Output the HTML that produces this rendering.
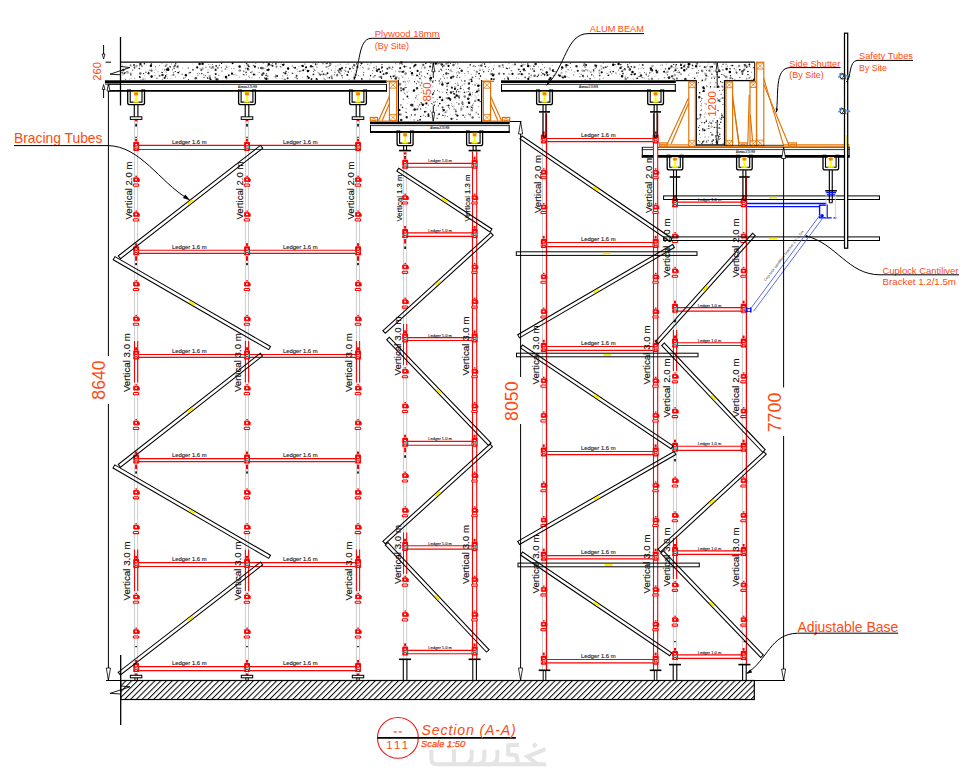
<!DOCTYPE html>
<html><head><meta charset="utf-8"><title>Section A-A</title>
<style>
html,body{margin:0;padding:0;background:#fff;}
body{width:976px;height:783px;overflow:hidden;font-family:"Liberation Sans",sans-serif;}
svg{display:block;font-family:"Liberation Sans",sans-serif;}
</style></head><body>
<svg width="976" height="783" viewBox="0 0 976 783">
<rect width="976" height="783" fill="#fff"/>
<g id="conc">
<polygon points="120.5,62.2 754.7,62.2 754.7,80.6 724.5,80.6 724.5,145 696.3,145 696.3,80.6 481.5,80.6 481.5,121.5 398.6,121.5 398.6,80.6 120.5,80.6" fill="#fff" stroke="none"/>
<path d="M326.0,74.8h0M267.6,76.1h0M582.3,70.7h0M271.1,65.1h0M451.8,87.5h0M166.7,64.7h0M446.6,98.1h0M531.2,75.3h0M564.5,76.4h0M373.7,76.8h0M722.6,87.0h0M697.3,63.5h0M362.1,79.0h0M714.6,87.0h0M322.9,63.4h0M421.8,83.1h0" stroke="#000" stroke-opacity="0.35" stroke-width="2.2" stroke-linecap="round" fill="none"/>
<path d="M352.5,67.1h0M519.6,69.3h0M478.9,65.7h0M400.9,104.8h0M721.0,118.9h0M459.4,96.1h0M205.9,67.2h0M583.5,76.8h0M722.0,86.0h0M182.1,74.2h0M215.4,73.7h0M177.4,66.3h0M420.5,85.4h0M419.7,104.9h0M749.3,66.3h0M479.2,78.7h0M433.5,93.4h0M459.6,77.5h0M440.5,79.1h0M702.5,87.9h0M595.2,68.3h0M454.7,97.3h0M566.0,67.2h0M642.2,77.6h0M676.0,70.2h0M721.1,94.3h0M621.7,66.9h0M673.0,78.6h0M226.7,78.7h0" stroke="#000" stroke-opacity="0.5" stroke-width="1.6" stroke-linecap="round" fill="none"/>
<path d="M165.2,69.8h0M475.0,95.6h0M470.1,115.9h0M717.1,131.4h0M338.0,70.2h0M122.1,66.3h0M574.8,71.9h0M158.0,71.6h0M408.6,98.5h0M251.9,77.7h0M235.9,75.0h0M603.3,63.3h0M454.2,108.2h0M430.8,117.5h0M673.3,67.5h0M432.8,86.8h0" stroke="#000" stroke-opacity="0.35" stroke-width="1.2" stroke-linecap="round" fill="none"/>
<path d="M644.4,72.6h0M509.5,68.1h0M530.7,69.0h0M363.8,72.5h0M221.4,63.4h0M716.6,74.1h0M218.9,75.3h0M518.6,74.2h0M544.0,74.0h0M453.6,62.4h0M399.0,79.0h0M587.6,76.0h0M209.9,78.8h0M447.8,99.0h0M416.3,95.9h0M740.2,69.7h0M478.7,73.8h0M435.6,101.8h0M443.6,74.7h0M702.0,80.9h0M131.0,74.9h0M172.6,69.8h0M666.0,72.8h0M334.3,74.7h0M326.0,67.1h0M309.1,70.6h0M314.2,69.3h0M673.9,71.7h0M491.5,70.9h0M442.4,115.2h0M446.2,69.4h0M472.0,106.0h0M482.8,69.8h0M475.0,84.9h0M453.6,93.5h0M700.5,116.9h0M599.2,73.1h0M360.7,65.4h0M457.4,75.7h0M601.7,68.8h0M508.9,73.9h0M719.3,90.7h0M381.1,78.0h0M395.8,63.8h0" stroke="#000" stroke-opacity="1" stroke-width="0.9" stroke-linecap="round" fill="none"/>
<path d="M739.0,66.1h0M122.1,65.0h0M447.1,110.6h0M244.7,74.9h0M744.8,66.9h0M471.3,74.3h0M494.0,65.9h0M712.2,126.7h0M667.5,77.5h0M162.0,63.4h0M155.8,69.2h0M468.8,95.9h0M688.4,65.8h0M650.9,72.3h0M727.5,68.7h0M446.3,105.6h0M328.5,68.7h0M131.1,78.3h0M569.1,77.5h0M395.0,75.0h0M708.1,76.6h0M400.4,105.8h0M666.5,64.2h0M249.2,76.1h0" stroke="#000" stroke-opacity="0.65" stroke-width="0.8" stroke-linecap="round" fill="none"/>
<path d="M552.7,70.8h0M215.8,74.1h0M719.6,71.1h0M424.9,111.8h0M277.1,76.0h0M712.1,66.8h0M382.0,67.2h0M302.3,65.8h0M272.5,65.7h0M471.7,81.2h0M675.3,70.3h0M295.1,67.8h0M414.5,65.8h0M439.1,114.1h0M407.4,96.5h0M749.4,64.5h0M311.5,79.1h0M534.2,71.1h0M228.8,75.2h0M704.6,130.3h0M664.1,71.8h0M447.2,83.5h0M303.2,70.2h0M349.9,68.7h0M327.5,73.2h0M634.5,74.3h0M347.3,74.9h0M178.2,72.6h0M232.6,63.3h0M656.2,70.5h0M387.0,73.1h0M380.4,72.0h0M383.6,74.1h0M563.0,77.6h0M719.0,77.2h0M467.4,106.9h0M316.5,78.9h0M586.1,65.0h0M247.6,68.7h0M417.0,75.4h0" stroke="#000" stroke-opacity="1" stroke-width="1.9" stroke-linecap="round" fill="none"/>
<path d="M239.9,70.4h0M722.5,117.1h0M490.9,73.9h0M368.6,68.7h0M562.1,76.7h0M549.8,68.4h0M739.0,66.0h0M696.8,64.1h0M667.5,71.8h0M652.5,66.1h0M437.7,63.5h0M400.8,114.4h0M450.7,70.4h0M124.0,73.4h0M202.6,68.4h0M705.4,73.7h0M209.7,76.1h0M585.1,66.7h0M127.7,72.4h0M471.6,110.3h0M136.5,66.0h0M674.8,75.0h0M714.6,63.8h0" stroke="#000" stroke-opacity="0.35" stroke-width="2.5" stroke-linecap="round" fill="none"/>
<path d="M478.2,114.1h0M370.5,75.5h0M315.6,64.0h0M582.7,76.1h0M420.7,116.4h0M124.7,73.1h0M342.0,75.8h0M312.8,66.6h0M419.6,74.1h0M696.8,73.0h0M719.9,101.6h0M590.1,78.8h0M469.2,87.7h0M721.7,117.6h0M375.0,75.6h0M361.6,78.9h0M484.6,64.0h0M201.8,73.6h0M583.9,65.3h0M716.8,72.0h0M668.8,78.3h0M458.9,104.0h0M377.2,69.9h0M421.2,103.0h0M527.8,64.0h0M433.9,102.1h0M610.5,71.9h0M327.0,63.4h0M720.6,81.6h0M697.7,118.9h0M706.3,121.4h0M732.7,65.5h0M442.7,66.7h0M719.8,134.3h0M692.3,65.2h0M425.8,63.2h0M143.0,79.1h0M338.8,71.9h0M717.5,121.0h0M439.2,80.9h0M393.2,76.2h0" stroke="#000" stroke-opacity="1" stroke-width="1.4" stroke-linecap="round" fill="none"/>
<path d="M434.4,91.0h0M207.8,72.4h0M636.9,78.4h0M670.6,67.9h0M205.4,75.6h0M599.7,79.1h0M648.9,79.1h0M149.9,70.2h0M165.7,76.6h0M667.4,74.8h0M126.9,71.6h0M219.4,65.3h0M331.3,70.1h0M706.3,120.2h0M280.8,66.9h0M701.9,98.5h0M121.9,72.1h0M327.0,66.8h0M376.3,68.3h0M570.3,63.4h0M472.6,108.0h0" stroke="#000" stroke-opacity="0.65" stroke-width="1.4" stroke-linecap="round" fill="none"/>
<path d="M506.5,68.3h0M340.6,69.3h0M139.4,68.6h0M320.2,74.9h0M246.5,63.5h0M534.0,66.2h0M703.3,141.2h0M148.7,72.8h0M402.5,107.4h0M427.5,73.6h0M175.7,63.8h0M720.7,122.3h0M464.5,92.3h0M708.8,126.0h0M591.7,74.8h0M520.4,71.6h0M485.4,66.6h0M215.5,69.2h0M702.8,142.1h0M456.5,91.2h0M537.4,76.5h0M266.1,75.4h0M470.2,64.7h0M483.7,71.8h0M441.0,69.3h0M190.0,72.6h0M394.0,76.1h0M518.5,69.5h0" stroke="#000" stroke-opacity="0.85" stroke-width="1.6" stroke-linecap="round" fill="none"/>
<path d="M730.0,68.7h0M144.4,63.7h0M635.1,73.9h0M410.2,68.1h0M329.4,77.7h0M637.3,78.3h0M739.6,69.8h0M605.9,67.2h0M434.2,105.2h0M139.7,76.9h0M401.1,90.7h0M448.1,98.1h0M207.5,78.0h0M463.1,115.3h0M248.9,66.6h0M170.1,66.7h0M246.1,72.2h0M165.7,75.9h0M722.0,115.3h0M471.2,79.4h0M448.5,83.1h0M623.0,73.8h0M558.6,75.1h0M508.3,79.3h0M676.3,64.7h0M685.0,79.0h0M593.7,70.1h0M608.6,75.3h0M439.8,103.6h0M451.0,77.9h0M480.5,76.1h0M704.5,122.8h0M348.3,72.1h0M432.7,94.4h0M753.8,79.4h0M702.4,80.2h0M282.8,64.8h0M583.0,75.5h0M613.2,71.6h0M454.7,89.1h0M542.9,73.8h0M275.9,63.9h0M479.3,73.6h0M747.9,71.5h0M699.7,92.8h0M307.4,76.2h0M390.7,76.6h0M713.2,140.1h0M503.9,73.9h0M151.4,64.0h0M694.7,78.3h0M210.8,79.5h0M544.6,74.9h0M450.0,99.2h0" stroke="#000" stroke-opacity="1" stroke-width="1.6" stroke-linecap="round" fill="none"/>
<path d="M164.5,70.0h0M504.7,78.9h0M522.9,74.7h0M688.8,75.0h0M706.6,70.4h0M313.4,71.5h0M730.0,77.9h0M264.4,77.7h0M250.5,72.6h0M275.7,75.2h0M407.1,92.2h0M715.3,135.8h0M580.0,76.7h0M402.9,77.3h0M414.6,81.5h0M448.8,107.3h0M439.0,63.5h0M155.3,66.8h0M139.6,65.8h0M710.3,87.7h0M717.0,132.6h0" stroke="#000" stroke-opacity="0.85" stroke-width="1.0" stroke-linecap="round" fill="none"/>
<path d="M562.2,67.6h0M266.3,78.8h0M528.2,65.9h0M168.2,69.8h0M523.8,69.4h0M442.4,84.6h0M622.1,76.3h0M202.6,63.7h0M239.6,66.4h0M688.8,64.3h0M430.9,78.1h0M150.9,65.7h0M696.1,66.3h0M435.7,63.4h0M650.9,68.6h0M226.0,77.0h0M618.6,64.1h0M414.0,90.6h0M422.8,104.8h0M199.6,64.0h0M632.5,71.9h0M185.9,75.2h0M726.6,69.1h0M716.9,142.3h0M566.4,65.3h0M469.9,94.6h0M288.1,68.5h0M550.4,78.3h0M469.0,102.7h0M414.7,109.5h0M613.2,64.8h0M307.9,71.0h0M268.8,64.3h0M456.7,95.6h0M412.0,73.2h0M546.7,72.6h0M478.3,85.7h0M151.6,76.6h0M401.4,62.4h0M729.9,71.9h0M684.3,70.2h0" stroke="#000" stroke-opacity="1" stroke-width="2.5" stroke-linecap="round" fill="none"/>
<path d="M433.5,80.5h0M240.2,67.6h0M404.8,93.5h0M476.8,83.8h0M518.8,78.3h0M700.6,110.6h0M473.4,103.4h0M719.8,71.9h0M426.4,62.8h0M450.9,118.3h0M453.2,118.4h0M440.1,82.8h0M697.3,76.0h0M472.5,92.6h0M707.4,66.0h0M249.6,77.7h0M200.0,68.5h0M248.5,76.8h0M455.6,63.7h0M699.8,130.8h0M486.2,79.1h0M719.4,118.2h0M717.5,76.4h0" stroke="#000" stroke-opacity="0.5" stroke-width="1.0" stroke-linecap="round" fill="none"/>
<path d="M701.3,103.8h0M538.9,74.2h0M406.3,87.5h0M425.9,107.8h0M717.3,98.6h0M431.7,103.4h0M145.0,79.0h0M440.5,63.9h0M402.1,64.3h0M439.2,91.7h0M433.3,69.6h0M246.4,74.7h0M746.8,78.1h0M712.6,143.5h0M648.3,76.4h0M403.1,81.7h0M292.2,65.6h0M461.0,110.4h0M699.9,142.1h0M348.0,71.2h0M447.6,116.5h0M267.1,66.6h0M605.3,67.0h0M337.6,74.7h0M234.0,68.8h0M409.3,80.8h0" stroke="#000" stroke-opacity="0.85" stroke-width="0.8" stroke-linecap="round" fill="none"/>
<path d="M173.5,74.9h0M443.9,65.6h0M215.5,70.2h0M415.0,114.8h0M502.7,65.1h0M461.4,108.9h0M475.2,100.9h0M424.8,67.7h0M552.9,70.0h0M722.5,98.1h0M217.8,67.8h0M442.7,107.3h0M584.1,70.8h0M331.5,76.4h0M448.5,62.6h0M704.8,67.1h0M276.5,66.6h0" stroke="#000" stroke-opacity="0.5" stroke-width="2.2" stroke-linecap="round" fill="none"/>
<path d="M399.9,71.4h0M523.7,64.6h0M540.9,69.5h0M468.5,88.6h0M708.2,140.5h0M561.5,72.7h0M628.2,67.2h0M511.3,70.6h0M723.5,89.6h0M479.2,117.4h0M442.7,111.1h0M677.0,68.3h0M587.6,70.5h0" stroke="#000" stroke-opacity="0.35" stroke-width="1.9" stroke-linecap="round" fill="none"/>
<path d="M421.1,71.9h0M420.6,108.9h0M283.7,72.6h0M286.0,71.4h0M649.6,72.9h0M730.5,75.7h0M473.9,66.0h0M665.5,68.9h0M749.2,77.9h0M480.0,70.3h0M451.9,87.3h0M674.2,79.2h0M714.3,127.4h0M447.0,86.3h0M532.7,68.9h0M439.1,71.3h0M174.1,68.3h0M405.1,87.5h0M731.0,78.0h0M631.2,66.4h0M446.7,92.7h0M122.4,72.9h0M458.8,91.7h0M477.2,71.9h0M215.9,69.9h0M356.1,74.9h0" stroke="#000" stroke-opacity="0.85" stroke-width="1.4" stroke-linecap="round" fill="none"/>
<path d="M699.7,125.7h0M469.2,114.7h0M706.6,141.2h0M701.6,143.6h0M414.2,119.9h0M488.3,71.4h0M723.5,117.2h0M130.8,74.9h0M726.1,64.3h0M353.1,68.5h0M550.1,69.9h0M468.0,71.6h0M519.3,73.8h0M714.4,78.4h0M732.7,78.7h0M736.1,72.0h0M157.0,78.3h0M464.8,117.2h0M479.8,85.3h0M314.9,70.4h0M698.4,82.7h0M475.8,76.5h0M615.9,73.0h0M321.9,74.4h0M476.1,112.3h0M326.1,63.8h0M417.6,71.2h0M300.9,71.1h0M140.2,77.5h0M711.8,77.8h0M309.2,77.9h0M469.2,79.9h0M304.9,64.1h0M702.6,129.0h0M243.6,71.1h0M458.2,71.9h0M448.4,69.5h0M441.8,70.4h0M468.8,91.6h0M456.8,77.1h0M416.5,83.7h0M719.7,86.9h0M702.3,143.0h0" stroke="#000" stroke-opacity="1" stroke-width="1.0" stroke-linecap="round" fill="none"/>
<path d="M346.1,64.6h0M288.4,72.4h0M450.4,98.5h0M349.2,79.5h0M171.2,75.7h0M467.6,88.5h0M151.7,68.8h0M414.6,101.6h0M736.2,69.8h0M410.2,116.9h0M470.4,108.3h0M444.2,99.9h0M298.9,66.2h0M579.2,73.4h0M556.2,73.4h0M716.0,63.1h0M173.4,74.1h0M512.8,64.8h0M229.0,66.8h0M642.1,67.7h0" stroke="#000" stroke-opacity="0.65" stroke-width="0.6" stroke-linecap="round" fill="none"/>
<path d="M419.9,78.4h0M192.9,69.8h0M599.7,75.5h0M711.4,123.3h0M719.1,128.0h0M399.6,114.5h0M625.0,69.5h0M472.5,77.4h0M464.8,80.9h0M458.4,96.5h0M628.1,66.8h0M452.0,87.9h0M748.0,74.6h0M159.6,75.7h0M742.4,74.0h0M679.3,72.4h0M712.1,141.5h0M525.2,77.4h0M432.8,82.0h0M603.6,67.8h0M743.3,70.7h0M450.5,99.2h0M736.6,72.7h0M134.4,67.2h0M332.0,78.3h0M459.2,97.8h0" stroke="#000" stroke-opacity="0.65" stroke-width="1.9" stroke-linecap="round" fill="none"/>
<path d="M264.6,78.7h0M705.1,137.0h0M722.9,104.5h0M376.2,66.4h0M424.5,76.8h0M335.0,72.5h0M585.2,79.6h0M450.6,63.5h0M585.9,69.5h0M428.7,70.5h0M430.1,75.4h0M455.7,97.4h0M618.8,70.1h0M464.2,92.8h0M285.2,79.5h0M454.0,109.4h0M259.1,72.4h0M717.4,74.6h0M743.0,73.0h0M456.3,92.7h0M367.7,64.2h0" stroke="#000" stroke-opacity="0.85" stroke-width="0.9" stroke-linecap="round" fill="none"/>
<path d="M579.8,76.4h0M341.0,66.8h0M370.6,76.2h0M444.2,102.8h0M343.0,70.1h0M454.7,62.2h0M719.9,128.0h0M519.9,71.6h0M711.8,69.5h0M433.4,108.3h0M444.5,117.6h0M265.6,66.1h0M656.1,75.7h0M489.8,63.3h0M450.5,63.7h0M707.1,69.8h0M404.0,115.9h0M302.1,71.2h0M331.1,64.2h0M741.8,72.8h0M610.0,69.4h0M441.5,70.7h0M404.4,93.8h0M405.3,62.9h0M231.7,72.0h0" stroke="#000" stroke-opacity="0.35" stroke-width="0.8" stroke-linecap="round" fill="none"/>
<path d="M631.5,74.4h0M493.9,79.3h0M134.0,65.0h0M313.5,74.4h0M460.6,88.4h0M622.1,71.2h0M296.6,75.8h0M387.4,68.7h0M420.1,119.7h0M402.3,71.9h0M428.5,114.3h0M642.7,64.9h0M323.6,74.3h0M454.4,93.9h0M454.7,97.4h0M216.2,65.9h0M287.7,78.3h0M508.0,78.1h0" stroke="#000" stroke-opacity="0.85" stroke-width="1.9" stroke-linecap="round" fill="none"/>
<path d="M468.3,73.2h0M390.2,68.3h0M700.5,114.3h0M406.7,66.5h0M633.3,79.1h0M704.6,66.8h0M534.4,64.1h0M251.2,71.6h0M639.9,76.5h0M593.6,76.0h0M372.7,70.5h0M631.6,67.4h0M211.6,68.2h0M599.9,69.7h0M372.7,73.5h0M555.2,75.2h0M369.9,65.2h0M540.5,69.7h0M706.2,67.8h0M171.5,64.0h0M425.8,77.3h0M413.1,109.9h0M705.9,79.6h0M134.8,78.4h0M516.4,78.0h0M471.1,62.7h0M476.0,97.1h0M461.2,106.9h0M272.4,63.5h0M710.1,66.5h0M658.3,78.9h0M318.1,72.5h0M404.0,92.2h0M466.9,92.1h0M629.2,67.3h0M722.3,90.5h0M456.6,72.9h0M453.9,106.2h0M445.1,82.1h0M454.7,86.9h0M418.3,76.3h0M706.4,75.5h0M373.9,68.2h0M426.4,111.6h0" stroke="#000" stroke-opacity="1" stroke-width="0.6" stroke-linecap="round" fill="none"/>
<path d="M386.2,73.2h0M481.4,65.4h0M195.6,78.3h0M688.3,67.0h0M745.0,65.3h0M672.2,76.3h0M492.4,74.3h0M209.9,78.3h0M262.1,74.8h0M140.3,73.6h0M354.2,65.2h0M742.1,71.5h0M534.6,75.7h0M168.0,68.6h0M472.6,117.6h0M261.2,68.1h0M453.5,65.1h0M595.3,65.4h0M685.6,78.9h0" stroke="#000" stroke-opacity="0.65" stroke-width="2.5" stroke-linecap="round" fill="none"/>
<path d="M203.8,74.9h0M275.5,76.8h0M541.3,75.2h0M692.9,65.9h0M620.5,64.8h0M197.9,75.3h0M268.1,79.0h0M340.8,73.9h0M629.7,63.3h0M400.0,85.2h0M423.6,115.4h0M640.0,72.7h0M471.9,109.7h0M268.2,70.6h0M708.7,62.2h0M507.1,76.8h0M723.1,143.6h0" stroke="#000" stroke-opacity="0.35" stroke-width="1.6" stroke-linecap="round" fill="none"/>
<path d="M197.2,67.4h0M302.9,66.1h0M477.0,91.6h0M306.1,67.3h0M268.6,69.7h0M232.0,73.7h0M681.0,65.1h0M549.3,79.5h0M308.6,77.8h0M491.5,79.1h0M379.0,69.3h0M399.5,110.1h0M254.9,66.7h0M167.0,69.7h0M440.0,97.3h0M417.6,70.9h0M703.8,91.0h0M357.4,67.0h0M253.9,74.5h0M521.7,74.2h0M669.0,68.7h0M493.1,75.4h0M559.8,75.8h0M283.4,64.8h0M443.9,110.2h0M601.7,72.3h0M681.6,68.0h0M404.5,66.6h0M528.3,78.9h0M428.5,116.0h0M442.2,100.2h0M512.5,73.9h0M478.7,100.2h0M426.4,103.4h0M285.4,73.3h0M521.5,66.0h0M703.4,87.3h0M448.5,65.9h0M457.4,115.6h0M449.1,98.3h0" stroke="#000" stroke-opacity="1" stroke-width="2.2" stroke-linecap="round" fill="none"/>
<path d="M456.9,102.6h0M282.8,75.9h0M442.1,81.6h0M708.8,137.1h0M212.5,64.5h0M461.5,80.3h0M428.0,114.4h0M720.6,138.5h0M245.5,68.8h0M596.6,67.3h0M197.3,73.6h0M746.8,79.1h0M167.5,78.1h0M199.8,73.7h0M125.4,68.5h0M210.9,68.0h0M730.2,78.3h0M607.1,73.5h0M226.1,66.0h0M477.2,99.7h0M475.0,85.2h0M449.6,108.8h0M442.7,98.0h0M708.8,123.4h0M700.6,101.5h0M643.8,68.5h0M625.1,77.6h0M522.3,64.9h0M173.4,72.4h0M344.7,70.4h0M455.5,96.7h0M295.0,77.7h0M151.3,77.3h0M721.7,113.7h0M317.3,64.0h0M433.4,92.5h0M413.0,106.5h0M339.0,70.8h0M439.6,83.9h0M393.3,76.7h0M644.1,78.0h0M354.2,76.0h0M162.3,79.4h0M259.4,77.8h0" stroke="#000" stroke-opacity="1" stroke-width="0.7" stroke-linecap="round" fill="none"/>
<path d="M157.0,78.2h0M412.8,75.8h0M403.8,98.9h0M433.3,120.2h0M653.6,73.4h0M301.3,65.5h0M421.7,63.4h0M681.5,68.2h0M445.9,98.2h0M417.5,99.2h0M727.6,78.9h0M522.7,65.5h0" stroke="#000" stroke-opacity="0.35" stroke-width="0.6" stroke-linecap="round" fill="none"/>
<path d="M442.4,109.3h0M468.6,88.3h0M288.7,69.2h0M467.9,67.5h0M362.7,67.4h0M706.8,85.6h0M750.8,77.0h0M571.4,70.1h0M264.8,68.1h0M570.6,67.5h0M281.1,64.2h0M297.0,69.3h0M432.6,81.0h0M524.0,71.1h0M432.4,104.1h0M603.2,78.4h0M208.7,72.3h0M455.7,109.6h0M348.2,64.0h0M751.3,72.3h0" stroke="#000" stroke-opacity="0.85" stroke-width="0.7" stroke-linecap="round" fill="none"/>
<path d="M442.4,83.0h0M174.0,66.5h0M226.7,67.3h0M395.9,78.1h0M480.2,101.5h0M627.8,77.7h0M345.8,67.6h0M753.6,67.7h0M529.0,77.0h0M731.3,65.5h0M458.1,85.2h0M688.4,64.0h0M646.3,74.7h0M248.5,66.1h0M453.2,91.5h0M406.3,112.5h0M225.4,69.0h0M142.0,66.3h0M459.3,73.0h0" stroke="#000" stroke-opacity="0.65" stroke-width="1.6" stroke-linecap="round" fill="none"/>
<path d="M447.4,90.6h0M354.4,74.0h0M706.0,75.8h0M175.5,77.0h0M488.3,67.5h0M238.8,70.8h0M585.3,64.6h0M239.7,77.1h0M208.0,69.9h0M469.2,89.6h0M619.8,74.2h0M124.3,73.3h0M707.1,128.8h0M646.6,73.2h0M715.3,139.8h0M442.5,92.2h0M159.4,65.4h0M714.0,118.6h0" stroke="#000" stroke-opacity="0.65" stroke-width="0.9" stroke-linecap="round" fill="none"/>
<path d="M399.8,63.7h0M710.1,67.7h0M345.7,71.1h0M268.0,65.5h0M445.2,115.8h0M568.1,69.7h0M734.2,68.2h0M162.4,72.5h0M714.0,77.0h0M507.7,68.6h0M443.1,115.4h0M705.2,80.0h0M673.8,64.4h0M553.2,69.8h0M699.5,134.1h0M719.6,124.2h0M438.3,105.9h0M503.2,67.0h0M721.9,74.4h0M391.4,78.3h0M702.8,91.3h0M457.8,89.6h0M317.3,79.2h0M338.1,70.2h0M706.2,104.0h0M292.9,73.5h0M456.9,119.5h0M719.7,136.3h0M417.9,120.4h0M650.3,70.1h0M620.9,64.4h0M664.3,77.8h0M719.3,139.1h0M639.0,76.6h0M435.0,71.0h0M258.4,67.9h0M132.8,70.1h0M710.8,132.5h0M411.5,115.0h0M328.9,66.3h0M568.0,65.2h0M469.0,88.9h0" stroke="#000" stroke-opacity="1" stroke-width="1.1" stroke-linecap="round" fill="none"/>
<path d="M292.2,73.1h0M145.9,72.2h0M538.4,75.2h0M698.6,127.5h0M382.5,70.9h0M722.2,82.6h0M493.5,68.9h0M472.8,105.0h0M450.2,100.4h0M664.1,71.4h0M143.6,73.6h0M330.0,65.4h0M711.9,74.2h0M354.4,77.3h0M601.1,66.0h0M243.3,74.5h0M471.7,107.4h0M339.7,72.8h0M723.0,64.3h0M746.7,67.3h0M297.1,78.7h0M624.7,68.5h0M710.6,86.6h0M382.0,64.5h0M708.9,128.6h0M722.9,69.9h0M299.7,71.1h0M221.6,63.3h0M204.0,77.5h0M555.0,71.6h0M392.7,67.2h0M356.5,63.8h0M419.0,82.1h0M462.9,104.6h0M315.7,64.7h0M175.3,71.5h0M615.1,64.6h0M415.8,97.8h0M183.8,78.1h0M413.7,66.8h0" stroke="#000" stroke-opacity="1" stroke-width="1.2" stroke-linecap="round" fill="none"/>
<path d="M177.6,67.0h0M652.0,78.7h0M625.7,79.0h0M712.2,134.8h0M337.1,75.3h0M726.2,77.0h0M262.8,68.3h0M703.1,129.6h0M464.7,96.4h0M212.9,67.3h0M462.4,103.0h0M702.2,71.0h0M430.5,80.2h0M247.7,65.0h0M405.7,73.4h0M401.0,88.2h0M499.4,66.3h0M248.3,69.6h0M330.2,63.6h0M746.7,66.4h0M400.1,84.0h0M446.5,63.5h0" stroke="#000" stroke-opacity="0.5" stroke-width="2.5" stroke-linecap="round" fill="none"/>
<path d="M411.8,75.4h0M437.8,115.2h0M414.7,82.2h0M453.1,92.1h0M282.2,78.4h0M482.5,63.5h0M680.8,63.4h0M413.1,91.4h0M231.5,68.6h0M704.4,140.9h0M470.3,106.5h0M697.3,68.1h0M442.7,108.8h0M734.8,79.4h0M421.3,92.5h0M263.3,63.3h0M721.8,66.4h0M720.8,98.9h0M421.6,68.0h0M335.8,66.2h0M625.5,76.2h0M310.1,66.8h0" stroke="#000" stroke-opacity="0.35" stroke-width="1.4" stroke-linecap="round" fill="none"/>
<path d="M421.4,104.3h0M405.5,84.7h0M399.1,77.8h0M185.3,74.2h0M472.4,84.4h0M517.6,74.1h0M456.7,115.3h0M463.5,89.4h0M452.1,71.5h0M413.7,75.1h0M630.9,74.5h0M307.0,79.0h0M418.3,94.7h0M313.2,67.8h0M711.1,127.5h0M246.0,67.6h0M465.7,115.3h0M122.9,75.0h0" stroke="#000" stroke-opacity="0.5" stroke-width="0.9" stroke-linecap="round" fill="none"/>
<path d="M440.5,62.6h0M457.4,82.7h0M550.4,77.7h0M706.1,114.3h0M244.0,75.0h0M351.4,71.4h0M335.5,68.8h0M237.1,75.4h0M547.1,72.4h0M594.2,77.8h0M417.8,105.6h0M708.1,64.2h0M715.9,76.6h0M292.0,66.2h0M585.9,70.5h0M178.2,65.5h0M421.6,80.0h0M437.4,101.9h0M451.7,103.7h0M511.9,70.7h0M144.7,75.7h0" stroke="#000" stroke-opacity="0.35" stroke-width="1.0" stroke-linecap="round" fill="none"/>
<path d="M174.9,65.7h0M151.6,70.7h0M700.5,114.9h0M417.2,109.3h0M201.3,70.1h0M634.5,67.2h0M423.3,64.9h0M719.2,100.3h0M389.3,67.5h0M689.6,64.2h0M499.1,73.7h0M515.0,64.4h0M706.3,75.6h0M744.3,69.6h0M709.5,70.7h0M381.2,76.9h0M478.6,90.6h0M455.9,111.3h0M217.6,79.4h0M676.8,78.5h0" stroke="#000" stroke-opacity="0.65" stroke-width="2.2" stroke-linecap="round" fill="none"/>
<path d="M298.0,71.6h0M436.3,110.3h0M719.0,124.7h0M406.0,108.6h0M639.3,64.8h0M552.1,65.3h0M474.3,70.6h0M452.6,106.4h0M509.1,63.5h0M530.9,77.3h0M421.9,88.4h0M464.6,73.5h0M713.9,70.9h0M476.3,72.0h0M598.8,71.0h0M701.5,70.1h0M553.3,75.6h0M429.7,62.4h0M419.6,72.3h0M698.5,70.4h0M455.9,86.8h0M395.8,76.4h0" stroke="#000" stroke-opacity="0.5" stroke-width="1.1" stroke-linecap="round" fill="none"/>
<path d="M444.4,78.1h0M435.6,80.6h0M699.5,130.5h0M607.3,66.3h0M284.2,79.1h0M718.3,86.2h0M221.4,67.8h0M275.1,76.7h0M707.0,86.8h0M125.6,79.3h0M627.7,64.4h0M721.2,119.6h0M293.7,67.3h0M222.0,71.1h0M525.3,70.6h0M671.7,76.2h0M561.6,69.2h0M553.7,71.4h0M692.1,68.6h0M251.8,72.7h0M233.9,74.8h0" stroke="#000" stroke-opacity="0.85" stroke-width="1.1" stroke-linecap="round" fill="none"/>
<path d="M576.5,66.3h0M417.0,88.3h0M629.9,69.6h0M403.5,89.3h0M311.1,66.3h0M652.1,70.2h0M699.3,97.2h0M140.4,63.9h0M620.5,67.9h0M162.5,75.0h0M451.0,92.6h0M641.0,75.6h0M395.7,78.4h0M123.3,69.9h0M377.0,70.8h0M446.4,73.6h0M461.7,70.7h0M441.9,64.5h0M451.3,77.5h0M565.1,76.8h0M669.2,77.6h0M412.2,104.9h0M469.0,83.5h0M535.7,64.1h0M468.1,98.8h0M339.9,69.3h0M657.0,72.3h0M406.7,117.3h0M401.2,120.0h0M411.3,105.1h0" stroke="#000" stroke-opacity="0.85" stroke-width="2.5" stroke-linecap="round" fill="none"/>
<path d="M417.3,99.8h0M699.8,141.3h0M460.4,92.0h0M478.5,95.4h0M700.2,137.8h0M460.1,68.4h0M450.1,81.6h0M510.0,74.1h0M458.0,83.5h0M707.8,142.9h0M693.9,68.6h0M533.6,65.7h0M654.9,76.5h0M171.0,67.3h0M212.1,67.6h0M398.6,78.2h0M465.0,96.9h0M457.2,77.9h0M704.7,114.1h0" stroke="#000" stroke-opacity="0.5" stroke-width="0.7" stroke-linecap="round" fill="none"/>
<path d="M470.1,65.5h0M171.0,78.7h0M678.4,70.4h0M693.2,68.1h0M408.5,78.3h0M461.9,81.6h0M567.8,76.9h0M471.8,96.2h0M129.3,79.2h0M465.1,75.8h0M705.7,112.8h0M408.3,82.2h0M225.7,78.3h0M162.3,69.2h0M478.6,106.4h0M140.9,79.3h0M458.8,66.7h0M385.1,73.9h0M726.0,66.9h0M455.4,114.4h0M645.2,73.9h0M344.6,73.2h0M711.5,78.5h0M412.1,63.4h0M723.9,63.8h0M710.3,122.9h0" stroke="#000" stroke-opacity="0.5" stroke-width="0.8" stroke-linecap="round" fill="none"/>
<path d="M455.4,98.9h0M146.7,65.1h0M223.4,76.6h0M192.9,64.0h0M415.8,79.1h0M272.7,70.2h0M449.0,86.7h0M466.7,91.7h0M235.3,74.2h0M444.1,88.7h0M745.9,63.8h0M402.6,64.3h0M655.6,68.0h0M438.3,97.0h0M678.0,75.8h0M479.9,68.6h0M257.8,74.1h0M711.6,72.0h0M465.7,119.3h0M286.7,71.4h0M616.5,66.9h0M616.5,74.0h0M459.9,100.9h0" stroke="#000" stroke-opacity="0.35" stroke-width="0.7" stroke-linecap="round" fill="none"/>
<path d="M421.9,81.9h0M244.5,65.2h0M608.3,72.1h0M581.7,79.3h0M215.3,70.1h0M408.8,90.8h0M692.4,77.4h0M675.7,67.2h0M461.8,73.4h0M589.6,71.0h0M682.5,63.9h0M591.9,71.0h0M674.8,67.7h0M402.1,64.8h0M602.8,67.9h0M431.0,74.3h0M302.5,77.2h0M661.1,69.4h0" stroke="#000" stroke-opacity="0.35" stroke-width="0.9" stroke-linecap="round" fill="none"/>
<path d="M210.8,66.5h0M210.8,64.6h0M521.8,63.5h0M373.2,71.3h0M405.7,94.5h0M465.3,83.1h0M649.5,75.3h0M323.9,78.1h0M689.8,73.2h0M538.6,66.9h0M739.3,65.4h0M705.2,69.2h0M736.8,67.6h0M407.3,103.3h0M131.3,66.3h0M360.2,68.0h0M476.9,113.2h0M718.9,132.4h0M404.6,74.0h0M134.6,68.2h0M457.2,84.3h0M606.1,72.2h0M404.4,80.0h0M525.6,64.3h0" stroke="#000" stroke-opacity="0.5" stroke-width="0.6" stroke-linecap="round" fill="none"/>
<path d="M401.1,71.3h0M472.4,110.8h0M407.4,81.1h0M560.8,74.3h0M549.5,74.3h0M705.0,103.5h0M399.7,72.1h0M363.7,68.0h0M468.1,94.7h0M337.9,65.0h0M411.3,114.7h0M623.1,72.0h0M534.4,68.9h0M660.3,65.4h0M244.5,71.1h0M313.1,63.3h0M698.8,96.9h0M252.4,71.7h0M720.9,128.5h0M542.6,64.5h0M735.2,69.7h0M182.8,68.0h0" stroke="#000" stroke-opacity="0.65" stroke-width="0.7" stroke-linecap="round" fill="none"/>
<path d="M403.9,81.8h0M188.6,79.5h0M724.8,75.9h0M316.9,67.0h0M719.6,69.8h0M363.4,74.9h0M712.9,120.9h0M590.9,72.1h0M188.2,68.1h0M715.9,122.6h0M447.4,89.3h0M253.3,65.3h0M448.7,73.7h0M421.8,75.8h0M456.0,114.2h0M397.0,77.0h0M739.9,77.4h0M699.9,66.2h0M139.9,77.0h0M430.9,63.5h0M381.6,78.4h0M459.7,68.4h0" stroke="#000" stroke-opacity="0.85" stroke-width="1.2" stroke-linecap="round" fill="none"/>
<path d="M541.6,72.4h0M280.2,66.6h0M638.4,68.9h0M276.0,78.2h0M425.3,116.4h0M480.8,65.7h0M446.5,89.9h0M398.4,71.3h0M675.6,68.9h0M246.0,79.4h0M702.8,130.9h0M340.2,64.3h0M418.6,106.8h0M444.9,112.7h0M718.4,85.3h0M417.6,81.1h0M401.9,75.8h0M701.5,100.2h0" stroke="#000" stroke-opacity="0.65" stroke-width="1.0" stroke-linecap="round" fill="none"/>
<path d="M414.7,65.3h0M185.2,77.4h0M255.4,74.9h0M732.7,78.7h0M706.6,66.6h0M154.2,72.4h0M166.9,74.5h0M750.1,67.2h0M701.7,109.7h0" stroke="#000" stroke-opacity="0.85" stroke-width="0.6" stroke-linecap="round" fill="none"/>
<path d="M196.5,78.1h0M681.0,74.1h0M130.7,73.5h0M529.0,73.6h0M215.3,77.5h0M445.8,112.1h0M322.1,71.4h0M710.6,66.6h0M319.5,73.8h0M165.6,66.0h0M379.5,76.9h0M686.6,69.0h0M494.2,74.4h0M584.5,63.8h0M704.6,67.1h0M341.1,70.9h0M130.6,65.2h0M718.1,100.5h0M684.8,65.1h0" stroke="#000" stroke-opacity="0.5" stroke-width="1.9" stroke-linecap="round" fill="none"/>
<path d="M587.7,76.6h0M476.3,71.0h0M134.8,68.5h0M701.0,105.6h0M489.1,69.6h0M327.8,77.7h0M266.7,73.6h0M430.5,111.1h0M478.9,88.7h0M658.0,70.7h0M711.1,126.1h0M717.5,110.5h0M462.2,85.3h0M470.0,92.3h0M460.4,86.3h0M355.9,70.8h0M744.2,64.5h0M457.8,63.9h0M432.4,115.5h0M374.0,67.4h0M125.4,72.6h0M209.6,66.9h0M395.7,71.0h0M573.7,74.9h0M255.8,63.5h0M706.1,78.2h0M701.5,110.0h0M287.7,75.1h0" stroke="#000" stroke-opacity="0.65" stroke-width="1.1" stroke-linecap="round" fill="none"/>
<path d="M188.8,73.0h0M581.2,74.2h0M381.6,68.6h0M392.0,69.1h0M324.2,78.8h0M342.5,77.8h0M709.7,122.1h0M716.1,127.4h0M715.9,82.7h0M433.0,97.6h0M443.1,76.0h0M611.9,73.8h0M701.6,122.6h0M547.7,75.7h0M403.3,99.2h0M623.4,69.8h0" stroke="#000" stroke-opacity="0.65" stroke-width="1.2" stroke-linecap="round" fill="none"/>
<path d="M296.2,77.3h0M190.7,72.4h0M437.2,99.4h0M470.6,114.9h0M627.7,65.2h0M284.0,64.1h0M593.8,71.7h0M437.4,90.4h0M475.7,66.5h0M369.9,79.1h0M437.7,118.2h0M476.0,74.1h0M727.6,66.1h0M698.5,140.4h0M447.3,77.9h0M428.3,105.2h0M718.5,110.7h0M710.2,83.0h0M405.4,82.0h0M166.0,72.1h0M141.3,65.3h0M698.4,72.8h0M179.7,71.8h0M675.7,66.0h0M566.0,71.8h0M544.3,67.7h0M599.7,70.6h0M706.3,142.1h0M542.8,70.1h0M410.2,71.5h0M468.6,113.8h0M475.2,92.7h0M469.2,98.6h0M358.7,75.7h0M447.9,94.7h0M470.4,114.1h0M704.9,117.1h0M462.2,101.4h0M155.0,75.3h0M305.1,69.2h0M464.2,84.0h0M463.2,106.8h0" stroke="#000" stroke-opacity="1" stroke-width="0.8" stroke-linecap="round" fill="none"/>
<path d="M457.0,68.0h0M208.8,64.5h0M455.4,83.3h0M325.3,79.5h0M240.7,70.6h0M370.9,63.2h0M607.4,75.3h0M476.1,92.5h0M530.6,66.0h0M148.5,72.1h0M436.8,118.3h0M403.7,89.8h0" stroke="#000" stroke-opacity="0.5" stroke-width="1.2" stroke-linecap="round" fill="none"/>
<path d="M472.5,94.4h0M699.3,118.7h0M702.4,122.2h0M582.1,66.2h0M473.0,66.5h0M640.9,68.3h0M424.7,103.9h0M415.9,64.9h0M165.0,69.1h0M704.7,133.7h0M502.9,73.2h0M751.8,79.2h0M431.1,103.5h0M724.8,73.7h0M422.4,66.0h0M472.7,79.7h0M405.2,111.8h0M705.2,78.4h0M648.6,75.3h0M334.9,70.9h0M710.9,143.6h0M451.8,105.1h0M276.3,67.7h0M718.9,70.8h0M457.1,75.0h0" stroke="#000" stroke-opacity="0.35" stroke-width="1.1" stroke-linecap="round" fill="none"/>
<path d="M448.5,105.5h0M577.8,70.8h0M216.5,79.4h0M547.4,75.0h0M403.4,71.6h0M684.1,66.4h0M451.5,118.9h0M671.5,66.4h0M267.4,70.0h0M430.2,78.5h0M361.5,63.3h0M704.0,88.5h0M596.2,65.8h0M263.4,73.4h0M148.5,73.5h0M718.0,87.0h0M400.2,68.2h0M342.0,68.2h0M415.5,64.8h0M164.7,77.9h0M453.3,76.6h0M455.1,88.7h0M430.1,66.6h0" stroke="#000" stroke-opacity="0.85" stroke-width="2.2" stroke-linecap="round" fill="none"/>
<path d="M677.1,72.3h0M161.7,72.4h0M723.5,75.1h0M307.9,76.9h0M442.3,107.4h0M699.8,118.0h0M662.2,65.0h0" stroke="#000" stroke-opacity="0.5" stroke-width="1.4" stroke-linecap="round" fill="none"/>
</g>
<line x1="120.5" y1="62.2" x2="754.7" y2="62.2" stroke="#000" stroke-width="1.3" />
<line x1="754.7" y1="62.2" x2="754.7" y2="80.6" stroke="#000" stroke-width="1" />
<rect x="104.9" y="80.3" width="281.7" height="2.7" fill="#000" stroke="none" stroke-width="1" />
<rect x="108.2" y="84" width="278.8" height="7.7" fill="#fff" stroke="none" stroke-width="1" />
<line x1="108.2" y1="84.4" x2="387" y2="84.4" stroke="#000" stroke-width="0.8" />
<line x1="108.2" y1="90.8" x2="387" y2="90.8" stroke="#000" stroke-width="1.8" />
<line x1="108.7" y1="84" x2="108.7" y2="91.7" stroke="#000" stroke-width="1" />
<line x1="386.5" y1="84" x2="386.5" y2="91.7" stroke="#000" stroke-width="1" />
<text x="247.6" y="87.9" font-size="2.9" fill="#111" text-anchor="middle" textLength="19" lengthAdjust="spacingAndGlyphs" stroke="#111" stroke-width="0.1">Alumax-3.15 RG</text>
<rect x="370" y="121.5" width="139.7" height="2.7" fill="#000" stroke="none" stroke-width="1" />
<rect x="370" y="125.2" width="139.7" height="7.7" fill="#fff" stroke="none" stroke-width="1" />
<line x1="370" y1="125.6" x2="509.7" y2="125.6" stroke="#000" stroke-width="0.8" />
<line x1="370" y1="132" x2="509.7" y2="132" stroke="#000" stroke-width="1.8" />
<line x1="370.5" y1="125.2" x2="370.5" y2="132.9" stroke="#000" stroke-width="1" />
<line x1="509.2" y1="125.2" x2="509.2" y2="132.9" stroke="#000" stroke-width="1" />
<text x="439.85" y="129.1" font-size="2.9" fill="#111" text-anchor="middle" textLength="19" lengthAdjust="spacingAndGlyphs" stroke="#111" stroke-width="0.1">Alumax-3.15 RG</text>
<rect x="501" y="80.3" width="174.8" height="2.7" fill="#000" stroke="none" stroke-width="1" />
<rect x="501" y="84" width="174.8" height="7.7" fill="#fff" stroke="none" stroke-width="1" />
<line x1="501" y1="84.4" x2="675.8" y2="84.4" stroke="#000" stroke-width="0.8" />
<line x1="501" y1="90.8" x2="675.8" y2="90.8" stroke="#000" stroke-width="1.8" />
<line x1="501.5" y1="84" x2="501.5" y2="91.7" stroke="#000" stroke-width="1" />
<line x1="675.3" y1="84" x2="675.3" y2="91.7" stroke="#000" stroke-width="1" />
<text x="588.4" y="87.9" font-size="2.9" fill="#111" text-anchor="middle" textLength="19" lengthAdjust="spacingAndGlyphs" stroke="#111" stroke-width="0.1">Alumax-3.15 RG</text>
<rect x="641.8" y="146.6" width="207.8" height="10.6" fill="#fff" stroke="none" stroke-width="1" />
<line x1="641.8" y1="147.3" x2="849.6" y2="147.3" stroke="#000" stroke-width="0.8" />
<line x1="641.8" y1="149.6" x2="849.6" y2="149.6" stroke="#000" stroke-width="0.8" />
<line x1="641.8" y1="156.4" x2="849.6" y2="156.4" stroke="#000" stroke-width="2.8" />
<line x1="642.3" y1="147" x2="642.3" y2="157.4" stroke="#000" stroke-width="1" />
<line x1="849.1" y1="147" x2="849.1" y2="157.4" stroke="#000" stroke-width="1" />
<text x="745.5" y="153" font-size="2.9" fill="#111" text-anchor="middle" textLength="19" lengthAdjust="spacingAndGlyphs" stroke="#111" stroke-width="0.1">Alumax-3.15 RG</text>
<line x1="675.8" y1="80.6" x2="696.3" y2="80.6" stroke="#000" stroke-width="1.3" />
<line x1="724.5" y1="80.6" x2="754.7" y2="80.6" stroke="#000" stroke-width="1.3" />
<line x1="398.4" y1="80" x2="398.4" y2="122" stroke="#000" stroke-width="1.2" />
<line x1="481.6" y1="80" x2="481.6" y2="122" stroke="#000" stroke-width="1.2" />
<line x1="696.2" y1="80.2" x2="696.2" y2="145.5" stroke="#000" stroke-width="1.4" />
<line x1="724.6" y1="80.2" x2="724.6" y2="145.5" stroke="#000" stroke-width="1.4" />
<line x1="696" y1="145" x2="725" y2="145" stroke="#000" stroke-width="1.4" />
<line x1="386" y1="81.3" x2="398.3" y2="81.3" stroke="#e07000" stroke-width="1.25" />
<rect x="389.4" y="81.3" width="7.2" height="40" fill="#fff" stroke="#e07000" stroke-width="1.15" />
<line x1="389.4" y1="82" x2="396.6" y2="82" stroke="#e07000" stroke-width="0.8" />
<line x1="389.4" y1="88.2" x2="396.6" y2="88.2" stroke="#e07000" stroke-width="0.8" />
<line x1="389.8" y1="82.2" x2="396.2" y2="88" stroke="#e07000" stroke-width="0.7" />
<line x1="396.2" y1="82.2" x2="389.8" y2="88" stroke="#e07000" stroke-width="0.7" />
<line x1="389.4" y1="114.4" x2="396.6" y2="114.4" stroke="#e07000" stroke-width="0.8" />
<line x1="389.4" y1="120.6" x2="396.6" y2="120.6" stroke="#e07000" stroke-width="0.8" />
<line x1="389.8" y1="114.6" x2="396.2" y2="120.4" stroke="#e07000" stroke-width="0.7" />
<line x1="396.2" y1="114.6" x2="389.8" y2="120.4" stroke="#e07000" stroke-width="0.7" />
<line x1="389.4" y1="96.4" x2="378.6" y2="120.6" stroke="#e07000" stroke-width="1.15" />
<line x1="389.4" y1="103.7" x2="382.2" y2="120.6" stroke="#e07000" stroke-width="1.15" />
<rect x="370.3" y="117.4" width="7.3" height="3.9" fill="#fff" stroke="#e07000" stroke-width="1.15" />
<ellipse cx="373.95" cy="119.75" rx="2.05" ry="1.05" fill="none" stroke="#e07000" stroke-width="0.9"/>
<line x1="370.3" y1="121.2" x2="398" y2="121.2" stroke="#e07000" stroke-width="1.25" />
<line x1="481.7" y1="81.3" x2="494" y2="81.3" stroke="#e07000" stroke-width="1.25" />
<rect x="483.4" y="81.3" width="7.2" height="40" fill="#fff" stroke="#e07000" stroke-width="1.15" />
<line x1="483.4" y1="82" x2="490.6" y2="82" stroke="#e07000" stroke-width="0.8" />
<line x1="483.4" y1="88.2" x2="490.6" y2="88.2" stroke="#e07000" stroke-width="0.8" />
<line x1="483.8" y1="82.2" x2="490.2" y2="88" stroke="#e07000" stroke-width="0.7" />
<line x1="490.2" y1="82.2" x2="483.8" y2="88" stroke="#e07000" stroke-width="0.7" />
<line x1="483.4" y1="114.4" x2="490.6" y2="114.4" stroke="#e07000" stroke-width="0.8" />
<line x1="483.4" y1="120.6" x2="490.6" y2="120.6" stroke="#e07000" stroke-width="0.8" />
<line x1="483.8" y1="114.6" x2="490.2" y2="120.4" stroke="#e07000" stroke-width="0.7" />
<line x1="490.2" y1="114.6" x2="483.8" y2="120.4" stroke="#e07000" stroke-width="0.7" />
<line x1="490.6" y1="96.4" x2="501.4" y2="120.6" stroke="#e07000" stroke-width="1.15" />
<line x1="490.6" y1="103.7" x2="497.8" y2="120.6" stroke="#e07000" stroke-width="1.15" />
<rect x="502.4" y="117.4" width="7.3" height="3.9" fill="#fff" stroke="#e07000" stroke-width="1.15" />
<ellipse cx="506.05" cy="119.75" rx="2.05" ry="1.05" fill="none" stroke="#e07000" stroke-width="0.9"/>
<line x1="482" y1="121.2" x2="509.7" y2="121.2" stroke="#e07000" stroke-width="1.25" />
<rect x="688.8" y="81.4" width="6.5" height="65.5" fill="#fff" stroke="#e07000" stroke-width="1.15" />
<line x1="688.8" y1="82.1" x2="695.3" y2="82.1" stroke="#e07000" stroke-width="0.8" />
<line x1="688.8" y1="87.6" x2="695.3" y2="87.6" stroke="#e07000" stroke-width="0.8" />
<line x1="689.2" y1="82.3" x2="694.9" y2="87.4" stroke="#e07000" stroke-width="0.7" />
<line x1="694.9" y1="82.3" x2="689.2" y2="87.4" stroke="#e07000" stroke-width="0.7" />
<line x1="688.8" y1="140.7" x2="695.3" y2="140.7" stroke="#e07000" stroke-width="0.8" />
<line x1="688.8" y1="146.2" x2="695.3" y2="146.2" stroke="#e07000" stroke-width="0.8" />
<line x1="689.2" y1="140.9" x2="694.9" y2="146" stroke="#e07000" stroke-width="0.7" />
<line x1="694.9" y1="140.9" x2="689.2" y2="146" stroke="#e07000" stroke-width="0.7" />
<line x1="688.5" y1="98" x2="667.3" y2="144.1" stroke="#e07000" stroke-width="1.15" />
<line x1="688.5" y1="103.4" x2="671.1" y2="144.1" stroke="#e07000" stroke-width="1.15" />
<rect x="659.6" y="142.9" width="7.4" height="4" fill="#fff" stroke="#e07000" stroke-width="1.15" />
<ellipse cx="663.3" cy="145.3" rx="2.1" ry="1.1" fill="none" stroke="#e07000" stroke-width="0.9"/>
<rect x="726" y="81.4" width="6.6" height="65.5" fill="#fff" stroke="#e07000" stroke-width="1.15" />
<line x1="726" y1="82.1" x2="732.6" y2="82.1" stroke="#e07000" stroke-width="0.8" />
<line x1="726" y1="87.7" x2="732.6" y2="87.7" stroke="#e07000" stroke-width="0.8" />
<line x1="726.4" y1="82.3" x2="732.2" y2="87.5" stroke="#e07000" stroke-width="0.7" />
<line x1="732.2" y1="82.3" x2="726.4" y2="87.5" stroke="#e07000" stroke-width="0.7" />
<line x1="726" y1="140.6" x2="732.6" y2="140.6" stroke="#e07000" stroke-width="0.8" />
<line x1="726" y1="146.2" x2="732.6" y2="146.2" stroke="#e07000" stroke-width="0.8" />
<line x1="726.4" y1="140.8" x2="732.2" y2="146" stroke="#e07000" stroke-width="0.7" />
<line x1="732.2" y1="140.8" x2="726.4" y2="146" stroke="#e07000" stroke-width="0.7" />
<line x1="732.5" y1="94.2" x2="738.7" y2="144" stroke="#e07000" stroke-width="1.1" />
<line x1="733.4" y1="102.8" x2="739.2" y2="144" stroke="#e07000" stroke-width="1.1" />
<rect x="738.8" y="142.9" width="8.4" height="4" fill="#fff" stroke="#e07000" stroke-width="1.15" />
<ellipse cx="743" cy="145.3" rx="2.6" ry="1.1" fill="none" stroke="#e07000" stroke-width="0.9"/>
<rect x="750" y="81.4" width="6.4" height="65.5" fill="#fff" stroke="#e07000" stroke-width="1.15" />
<line x1="750" y1="82.1" x2="756.4" y2="82.1" stroke="#e07000" stroke-width="0.8" />
<line x1="750" y1="87.5" x2="756.4" y2="87.5" stroke="#e07000" stroke-width="0.8" />
<line x1="750.4" y1="82.3" x2="756" y2="87.3" stroke="#e07000" stroke-width="0.7" />
<line x1="756" y1="82.3" x2="750.4" y2="87.3" stroke="#e07000" stroke-width="0.7" />
<line x1="750" y1="140.8" x2="756.4" y2="140.8" stroke="#e07000" stroke-width="0.8" />
<line x1="750" y1="146.2" x2="756.4" y2="146.2" stroke="#e07000" stroke-width="0.8" />
<line x1="750.4" y1="141" x2="756" y2="146" stroke="#e07000" stroke-width="0.7" />
<line x1="756" y1="141" x2="750.4" y2="146" stroke="#e07000" stroke-width="0.7" />
<line x1="749.2" y1="95.1" x2="747.8" y2="144" stroke="#e07000" stroke-width="1.1" />
<line x1="750.4" y1="115" x2="752.6" y2="141.5" stroke="#e07000" stroke-width="1.1" />
<rect x="756.7" y="62.2" width="7.1" height="84.7" fill="#fff" stroke="#e07000" stroke-width="1.15" />
<line x1="756.7" y1="62.9" x2="763.8" y2="62.9" stroke="#e07000" stroke-width="0.8" />
<line x1="756.7" y1="69" x2="763.8" y2="69" stroke="#e07000" stroke-width="0.8" />
<line x1="757.1" y1="63.1" x2="763.4" y2="68.8" stroke="#e07000" stroke-width="0.7" />
<line x1="763.4" y1="63.1" x2="757.1" y2="68.8" stroke="#e07000" stroke-width="0.7" />
<line x1="756.7" y1="140.1" x2="763.8" y2="140.1" stroke="#e07000" stroke-width="0.8" />
<line x1="756.7" y1="146.2" x2="763.8" y2="146.2" stroke="#e07000" stroke-width="0.8" />
<line x1="757.1" y1="140.3" x2="763.4" y2="146" stroke="#e07000" stroke-width="0.7" />
<line x1="763.4" y1="140.3" x2="757.1" y2="146" stroke="#e07000" stroke-width="0.7" />
<line x1="763.6" y1="77.9" x2="783.7" y2="145.9" stroke="#e07000" stroke-width="1.1" />
<line x1="763.6" y1="84.1" x2="788.5" y2="144" stroke="#e07000" stroke-width="1.1" />
<rect x="788.7" y="142.9" width="7.7" height="4" fill="#fff" stroke="#e07000" stroke-width="1.15" />
<ellipse cx="792.55" cy="145.3" rx="2.25" ry="1.1" fill="none" stroke="#e07000" stroke-width="0.9"/>
<line x1="659.6" y1="144.9" x2="689" y2="144.9" stroke="#e07000" stroke-width="1.1" />
<line x1="659.6" y1="146.9" x2="849.6" y2="146.9" stroke="#e07000" stroke-width="1.1" />
<line x1="783.5" y1="144.9" x2="849.6" y2="144.9" stroke="#e07000" stroke-width="1.1" />
<line x1="725" y1="145.3" x2="783.5" y2="145.3" stroke="#000" stroke-width="0.8" />
<line x1="134.55" y1="120" x2="134.55" y2="676" stroke="#c8c8c8" stroke-width="0.9" />
<line x1="137.65" y1="120" x2="137.65" y2="676" stroke="#c8c8c8" stroke-width="0.9" />
<line x1="134.5" y1="341" x2="134.5" y2="382.5" stroke="#ff0000" stroke-width="1.1" />
<line x1="137.7" y1="341" x2="137.7" y2="382.5" stroke="#ff0000" stroke-width="1.1" />
<line x1="134.5" y1="549.5" x2="134.5" y2="591" stroke="#ff0000" stroke-width="1.1" />
<line x1="137.7" y1="549.5" x2="137.7" y2="591" stroke="#ff0000" stroke-width="1.1" />
<rect x="135.3" y="123.8" width="1.6" height="2.8" fill="#000" stroke="none" stroke-width="1" />
<rect x="135.3" y="136.8" width="1.6" height="1" fill="#000" stroke="none" stroke-width="1" />
<rect x="135.3" y="263" width="1.6" height="2.2" fill="#000" stroke="none" stroke-width="1" />
<rect x="135.3" y="471.4" width="1.6" height="2.2" fill="#000" stroke="none" stroke-width="1" />
<rect x="135.3" y="646" width="1.6" height="1.2" fill="#000" stroke="none" stroke-width="1" />
<rect x="134.9" y="119.6" width="2.4" height="1.8" fill="#ff0000" stroke="none" stroke-width="1" />
<rect x="135.3" y="139.5" width="1.6" height="1.4" fill="#ff0000" stroke="none" stroke-width="1" />
<rect x="134.9" y="673.4" width="2.4" height="1.8" fill="#ff0000" stroke="none" stroke-width="1" />
<line x1="245.45" y1="120" x2="245.45" y2="676" stroke="#c8c8c8" stroke-width="0.9" />
<line x1="248.55" y1="120" x2="248.55" y2="676" stroke="#c8c8c8" stroke-width="0.9" />
<line x1="245.4" y1="341" x2="245.4" y2="382.5" stroke="#ff0000" stroke-width="1.1" />
<line x1="248.6" y1="341" x2="248.6" y2="382.5" stroke="#ff0000" stroke-width="1.1" />
<line x1="245.4" y1="549.5" x2="245.4" y2="591" stroke="#ff0000" stroke-width="1.1" />
<line x1="248.6" y1="549.5" x2="248.6" y2="591" stroke="#ff0000" stroke-width="1.1" />
<rect x="246.2" y="123.8" width="1.6" height="2.8" fill="#000" stroke="none" stroke-width="1" />
<rect x="246.2" y="136.8" width="1.6" height="1" fill="#000" stroke="none" stroke-width="1" />
<rect x="246.2" y="263" width="1.6" height="2.2" fill="#000" stroke="none" stroke-width="1" />
<rect x="246.2" y="471.4" width="1.6" height="2.2" fill="#000" stroke="none" stroke-width="1" />
<rect x="246.2" y="646" width="1.6" height="1.2" fill="#000" stroke="none" stroke-width="1" />
<rect x="245.8" y="119.6" width="2.4" height="1.8" fill="#ff0000" stroke="none" stroke-width="1" />
<rect x="246.2" y="139.5" width="1.6" height="1.4" fill="#ff0000" stroke="none" stroke-width="1" />
<rect x="245.8" y="673.4" width="2.4" height="1.8" fill="#ff0000" stroke="none" stroke-width="1" />
<line x1="356.45" y1="120" x2="356.45" y2="676" stroke="#c8c8c8" stroke-width="0.9" />
<line x1="359.55" y1="120" x2="359.55" y2="676" stroke="#c8c8c8" stroke-width="0.9" />
<line x1="356.4" y1="341" x2="356.4" y2="382.5" stroke="#ff0000" stroke-width="1.1" />
<line x1="359.6" y1="341" x2="359.6" y2="382.5" stroke="#ff0000" stroke-width="1.1" />
<line x1="356.4" y1="549.5" x2="356.4" y2="591" stroke="#ff0000" stroke-width="1.1" />
<line x1="359.6" y1="549.5" x2="359.6" y2="591" stroke="#ff0000" stroke-width="1.1" />
<rect x="357.2" y="123.8" width="1.6" height="2.8" fill="#000" stroke="none" stroke-width="1" />
<rect x="357.2" y="136.8" width="1.6" height="1" fill="#000" stroke="none" stroke-width="1" />
<rect x="357.2" y="263" width="1.6" height="2.2" fill="#000" stroke="none" stroke-width="1" />
<rect x="357.2" y="471.4" width="1.6" height="2.2" fill="#000" stroke="none" stroke-width="1" />
<rect x="357.2" y="646" width="1.6" height="1.2" fill="#000" stroke="none" stroke-width="1" />
<rect x="356.8" y="119.6" width="2.4" height="1.8" fill="#ff0000" stroke="none" stroke-width="1" />
<rect x="357.2" y="139.5" width="1.6" height="1.4" fill="#ff0000" stroke="none" stroke-width="1" />
<rect x="356.8" y="673.4" width="2.4" height="1.8" fill="#ff0000" stroke="none" stroke-width="1" />
<rect x="138.7" y="145.35" width="105.7" height="4.1" fill="#f4ffff" stroke="none" stroke-width="1" />
<line x1="138.3" y1="145.35" x2="244.8" y2="145.35" stroke="#ff0000" stroke-width="1.15" />
<line x1="138.3" y1="149.45" x2="244.8" y2="149.45" stroke="#ff0000" stroke-width="1.15" />
<line x1="138.9" y1="145.35" x2="138.9" y2="149.45" stroke="#00d0d0" stroke-width="0.7" />
<line x1="244.2" y1="145.35" x2="244.2" y2="149.45" stroke="#00d0d0" stroke-width="0.7" />
<text x="189.35" y="143.65" font-size="5.9" fill="#1a1a1a" text-anchor="middle" textLength="34.6" lengthAdjust="spacingAndGlyphs" stroke="#1a1a1a" stroke-width="0.12">Ledger 1.6 m</text>
<rect x="138.7" y="250.25" width="105.7" height="3.1" fill="#f4ffff" stroke="none" stroke-width="1" />
<line x1="138.3" y1="250.25" x2="244.8" y2="250.25" stroke="#ff0000" stroke-width="1.15" />
<line x1="138.3" y1="253.35" x2="244.8" y2="253.35" stroke="#ff0000" stroke-width="1.15" />
<line x1="138.9" y1="250.25" x2="138.9" y2="253.35" stroke="#00d0d0" stroke-width="0.7" />
<line x1="244.2" y1="250.25" x2="244.2" y2="253.35" stroke="#00d0d0" stroke-width="0.7" />
<text x="189.35" y="248.55" font-size="5.9" fill="#1a1a1a" text-anchor="middle" textLength="34.6" lengthAdjust="spacingAndGlyphs" stroke="#1a1a1a" stroke-width="0.12">Ledger 1.6 m</text>
<rect x="138.7" y="354.45" width="105.7" height="2.9" fill="#f4ffff" stroke="none" stroke-width="1" />
<line x1="138.3" y1="354.45" x2="244.8" y2="354.45" stroke="#ff0000" stroke-width="1.15" />
<line x1="138.3" y1="357.35" x2="244.8" y2="357.35" stroke="#ff0000" stroke-width="1.15" />
<line x1="138.9" y1="354.45" x2="138.9" y2="357.35" stroke="#00d0d0" stroke-width="0.7" />
<line x1="244.2" y1="354.45" x2="244.2" y2="357.35" stroke="#00d0d0" stroke-width="0.7" />
<text x="189.35" y="352.75" font-size="5.9" fill="#1a1a1a" text-anchor="middle" textLength="34.6" lengthAdjust="spacingAndGlyphs" stroke="#1a1a1a" stroke-width="0.12">Ledger 1.6 m</text>
<rect x="138.7" y="458.65" width="105.7" height="2.9" fill="#f4ffff" stroke="none" stroke-width="1" />
<line x1="138.3" y1="458.65" x2="244.8" y2="458.65" stroke="#ff0000" stroke-width="1.15" />
<line x1="138.3" y1="461.55" x2="244.8" y2="461.55" stroke="#ff0000" stroke-width="1.15" />
<line x1="138.9" y1="458.65" x2="138.9" y2="461.55" stroke="#00d0d0" stroke-width="0.7" />
<line x1="244.2" y1="458.65" x2="244.2" y2="461.55" stroke="#00d0d0" stroke-width="0.7" />
<text x="189.35" y="456.95" font-size="5.9" fill="#1a1a1a" text-anchor="middle" textLength="34.6" lengthAdjust="spacingAndGlyphs" stroke="#1a1a1a" stroke-width="0.12">Ledger 1.6 m</text>
<rect x="138.7" y="562.55" width="105.7" height="3.9" fill="#f4ffff" stroke="none" stroke-width="1" />
<line x1="138.3" y1="562.55" x2="244.8" y2="562.55" stroke="#ff0000" stroke-width="1.15" />
<line x1="138.3" y1="566.45" x2="244.8" y2="566.45" stroke="#ff0000" stroke-width="1.15" />
<line x1="138.9" y1="562.55" x2="138.9" y2="566.45" stroke="#00d0d0" stroke-width="0.7" />
<line x1="244.2" y1="562.55" x2="244.2" y2="566.45" stroke="#00d0d0" stroke-width="0.7" />
<text x="189.35" y="560.85" font-size="5.9" fill="#1a1a1a" text-anchor="middle" textLength="34.6" lengthAdjust="spacingAndGlyphs" stroke="#1a1a1a" stroke-width="0.12">Ledger 1.6 m</text>
<rect x="138.7" y="666.65" width="105.7" height="3.9" fill="#f4ffff" stroke="none" stroke-width="1" />
<line x1="138.3" y1="666.65" x2="244.8" y2="666.65" stroke="#ff0000" stroke-width="1.15" />
<line x1="138.3" y1="670.55" x2="244.8" y2="670.55" stroke="#ff0000" stroke-width="1.15" />
<line x1="138.9" y1="666.65" x2="138.9" y2="670.55" stroke="#00d0d0" stroke-width="0.7" />
<line x1="244.2" y1="666.65" x2="244.2" y2="670.55" stroke="#00d0d0" stroke-width="0.7" />
<text x="189.35" y="664.95" font-size="5.9" fill="#1a1a1a" text-anchor="middle" textLength="34.6" lengthAdjust="spacingAndGlyphs" stroke="#1a1a1a" stroke-width="0.12">Ledger 1.6 m</text>
<rect x="249.6" y="145.35" width="105.8" height="4.1" fill="#f4ffff" stroke="none" stroke-width="1" />
<line x1="249.2" y1="145.35" x2="355.8" y2="145.35" stroke="#ff0000" stroke-width="1.15" />
<line x1="249.2" y1="149.45" x2="355.8" y2="149.45" stroke="#ff0000" stroke-width="1.15" />
<line x1="249.8" y1="145.35" x2="249.8" y2="149.45" stroke="#00d0d0" stroke-width="0.7" />
<line x1="355.2" y1="145.35" x2="355.2" y2="149.45" stroke="#00d0d0" stroke-width="0.7" />
<text x="300.3" y="143.65" font-size="5.9" fill="#1a1a1a" text-anchor="middle" textLength="34.6" lengthAdjust="spacingAndGlyphs" stroke="#1a1a1a" stroke-width="0.12">Ledger 1.6 m</text>
<rect x="249.6" y="250.25" width="105.8" height="3.1" fill="#f4ffff" stroke="none" stroke-width="1" />
<line x1="249.2" y1="250.25" x2="355.8" y2="250.25" stroke="#ff0000" stroke-width="1.15" />
<line x1="249.2" y1="253.35" x2="355.8" y2="253.35" stroke="#ff0000" stroke-width="1.15" />
<line x1="249.8" y1="250.25" x2="249.8" y2="253.35" stroke="#00d0d0" stroke-width="0.7" />
<line x1="355.2" y1="250.25" x2="355.2" y2="253.35" stroke="#00d0d0" stroke-width="0.7" />
<text x="300.3" y="248.55" font-size="5.9" fill="#1a1a1a" text-anchor="middle" textLength="34.6" lengthAdjust="spacingAndGlyphs" stroke="#1a1a1a" stroke-width="0.12">Ledger 1.6 m</text>
<rect x="249.6" y="354.45" width="105.8" height="2.9" fill="#f4ffff" stroke="none" stroke-width="1" />
<line x1="249.2" y1="354.45" x2="355.8" y2="354.45" stroke="#ff0000" stroke-width="1.15" />
<line x1="249.2" y1="357.35" x2="355.8" y2="357.35" stroke="#ff0000" stroke-width="1.15" />
<line x1="249.8" y1="354.45" x2="249.8" y2="357.35" stroke="#00d0d0" stroke-width="0.7" />
<line x1="355.2" y1="354.45" x2="355.2" y2="357.35" stroke="#00d0d0" stroke-width="0.7" />
<text x="300.3" y="352.75" font-size="5.9" fill="#1a1a1a" text-anchor="middle" textLength="34.6" lengthAdjust="spacingAndGlyphs" stroke="#1a1a1a" stroke-width="0.12">Ledger 1.6 m</text>
<rect x="249.6" y="458.65" width="105.8" height="2.9" fill="#f4ffff" stroke="none" stroke-width="1" />
<line x1="249.2" y1="458.65" x2="355.8" y2="458.65" stroke="#ff0000" stroke-width="1.15" />
<line x1="249.2" y1="461.55" x2="355.8" y2="461.55" stroke="#ff0000" stroke-width="1.15" />
<line x1="249.8" y1="458.65" x2="249.8" y2="461.55" stroke="#00d0d0" stroke-width="0.7" />
<line x1="355.2" y1="458.65" x2="355.2" y2="461.55" stroke="#00d0d0" stroke-width="0.7" />
<text x="300.3" y="456.95" font-size="5.9" fill="#1a1a1a" text-anchor="middle" textLength="34.6" lengthAdjust="spacingAndGlyphs" stroke="#1a1a1a" stroke-width="0.12">Ledger 1.6 m</text>
<rect x="249.6" y="562.55" width="105.8" height="3.9" fill="#f4ffff" stroke="none" stroke-width="1" />
<line x1="249.2" y1="562.55" x2="355.8" y2="562.55" stroke="#ff0000" stroke-width="1.15" />
<line x1="249.2" y1="566.45" x2="355.8" y2="566.45" stroke="#ff0000" stroke-width="1.15" />
<line x1="249.8" y1="562.55" x2="249.8" y2="566.45" stroke="#00d0d0" stroke-width="0.7" />
<line x1="355.2" y1="562.55" x2="355.2" y2="566.45" stroke="#00d0d0" stroke-width="0.7" />
<text x="300.3" y="560.85" font-size="5.9" fill="#1a1a1a" text-anchor="middle" textLength="34.6" lengthAdjust="spacingAndGlyphs" stroke="#1a1a1a" stroke-width="0.12">Ledger 1.6 m</text>
<rect x="249.6" y="666.65" width="105.8" height="3.9" fill="#f4ffff" stroke="none" stroke-width="1" />
<line x1="249.2" y1="666.65" x2="355.8" y2="666.65" stroke="#ff0000" stroke-width="1.15" />
<line x1="249.2" y1="670.55" x2="355.8" y2="670.55" stroke="#ff0000" stroke-width="1.15" />
<line x1="249.8" y1="666.65" x2="249.8" y2="670.55" stroke="#00d0d0" stroke-width="0.7" />
<line x1="355.2" y1="666.65" x2="355.2" y2="670.55" stroke="#00d0d0" stroke-width="0.7" />
<text x="300.3" y="664.95" font-size="5.9" fill="#1a1a1a" text-anchor="middle" textLength="34.6" lengthAdjust="spacingAndGlyphs" stroke="#1a1a1a" stroke-width="0.12">Ledger 1.6 m</text>
<rect x="135.1" y="138.8" width="2" height="2.7" fill="#ff0000" stroke="none" stroke-width="1" />
<rect x="133.2" y="141.9" width="5.9" height="9" rx="0.9" fill="#ff0000"/>
<rect x="135.2" y="144.1" width="1.9" height="1.1" fill="#fff" stroke="none" stroke-width="1" />
<rect x="135.2" y="146.5" width="1.9" height="1.1" fill="#fff" stroke="none" stroke-width="1" />
<rect x="135.2" y="148.7" width="1.9" height="0.9" fill="#fff" stroke="none" stroke-width="1" />
<rect x="133.4" y="147.1" width="0.9" height="1.6" fill="#00ffff" stroke="none" stroke-width="1" />
<rect x="137.3" y="145.6" width="0.9" height="2.8" fill="#00ffff" stroke="none" stroke-width="1" />
<rect x="135.4" y="175.67" width="1.6" height="1.3" fill="#ff0000" stroke="none" stroke-width="1" />
<path d="M133.7,177.87 H138.3 L139.3,179.27 V181.57 H133.7 Z" stroke="#ff0000" stroke-width="0.9" fill="#ff0000" />
<rect x="135.1" y="178.87" width="1.9" height="1.5" fill="#fff" stroke="none" stroke-width="1" />
<rect x="133.2" y="184.07" width="5.6" height="2.1" rx="1" fill="#fff" stroke="#ff0000" stroke-width="1.05"/>
<rect x="135.4" y="210.44" width="1.6" height="1.3" fill="#ff0000" stroke="none" stroke-width="1" />
<path d="M133.7,212.64 H138.3 L139.3,214.04 V216.34 H133.7 Z" stroke="#ff0000" stroke-width="0.9" fill="#ff0000" />
<rect x="135.1" y="213.64" width="1.9" height="1.5" fill="#fff" stroke="none" stroke-width="1" />
<rect x="133.2" y="218.84" width="5.6" height="2.1" rx="1" fill="#fff" stroke="#ff0000" stroke-width="1.05"/>
<rect x="135.1" y="243.2" width="2" height="2.7" fill="#ff0000" stroke="none" stroke-width="1" />
<rect x="133.2" y="246.3" width="5.9" height="9" rx="0.9" fill="#ff0000"/>
<rect x="135.2" y="248.5" width="1.9" height="1.1" fill="#fff" stroke="none" stroke-width="1" />
<rect x="135.2" y="250.9" width="1.9" height="1.1" fill="#fff" stroke="none" stroke-width="1" />
<rect x="135.2" y="253.1" width="1.9" height="0.9" fill="#fff" stroke="none" stroke-width="1" />
<rect x="133.4" y="251.5" width="0.9" height="1.6" fill="#00ffff" stroke="none" stroke-width="1" />
<rect x="137.3" y="250" width="0.9" height="2.8" fill="#00ffff" stroke="none" stroke-width="1" />
<rect x="135.1" y="256.2" width="2" height="4.6" fill="#ff0000" stroke="none" stroke-width="1" />
<rect x="135.4" y="280.07" width="1.6" height="1.3" fill="#ff0000" stroke="none" stroke-width="1" />
<path d="M133.7,282.27 H138.3 L139.3,283.67 V285.97 H133.7 Z" stroke="#ff0000" stroke-width="0.9" fill="#ff0000" />
<rect x="135.1" y="283.27" width="1.9" height="1.5" fill="#fff" stroke="none" stroke-width="1" />
<rect x="133.2" y="288.47" width="5.6" height="2.1" rx="1" fill="#fff" stroke="#ff0000" stroke-width="1.05"/>
<rect x="135.4" y="314.84" width="1.6" height="1.3" fill="#ff0000" stroke="none" stroke-width="1" />
<path d="M133.7,317.04 H138.3 L139.3,318.44 V320.74 H133.7 Z" stroke="#ff0000" stroke-width="0.9" fill="#ff0000" />
<rect x="135.1" y="318.04" width="1.9" height="1.5" fill="#fff" stroke="none" stroke-width="1" />
<rect x="133.2" y="323.24" width="5.6" height="2.1" rx="1" fill="#fff" stroke="#ff0000" stroke-width="1.05"/>
<rect x="135.1" y="347.3" width="2" height="2.7" fill="#ff0000" stroke="none" stroke-width="1" />
<rect x="133.2" y="350.4" width="5.9" height="9" rx="0.9" fill="#ff0000"/>
<rect x="135.2" y="352.6" width="1.9" height="1.1" fill="#fff" stroke="none" stroke-width="1" />
<rect x="135.2" y="355" width="1.9" height="1.1" fill="#fff" stroke="none" stroke-width="1" />
<rect x="135.2" y="357.2" width="1.9" height="0.9" fill="#fff" stroke="none" stroke-width="1" />
<rect x="133.4" y="355.6" width="0.9" height="1.6" fill="#00ffff" stroke="none" stroke-width="1" />
<rect x="137.3" y="354.1" width="0.9" height="2.8" fill="#00ffff" stroke="none" stroke-width="1" />
<rect x="135.4" y="384.17" width="1.6" height="1.3" fill="#ff0000" stroke="none" stroke-width="1" />
<path d="M133.7,386.37 H138.3 L139.3,387.77 V390.07 H133.7 Z" stroke="#ff0000" stroke-width="0.9" fill="#ff0000" />
<rect x="135.1" y="387.37" width="1.9" height="1.5" fill="#fff" stroke="none" stroke-width="1" />
<rect x="133.2" y="392.57" width="5.6" height="2.1" rx="1" fill="#fff" stroke="#ff0000" stroke-width="1.05"/>
<rect x="135.4" y="418.94" width="1.6" height="1.3" fill="#ff0000" stroke="none" stroke-width="1" />
<path d="M133.7,421.14 H138.3 L139.3,422.54 V424.84 H133.7 Z" stroke="#ff0000" stroke-width="0.9" fill="#ff0000" />
<rect x="135.1" y="422.14" width="1.9" height="1.5" fill="#fff" stroke="none" stroke-width="1" />
<rect x="133.2" y="427.34" width="5.6" height="2.1" rx="1" fill="#fff" stroke="#ff0000" stroke-width="1.05"/>
<rect x="135.1" y="451.5" width="2" height="2.7" fill="#ff0000" stroke="none" stroke-width="1" />
<rect x="133.2" y="454.6" width="5.9" height="9" rx="0.9" fill="#ff0000"/>
<rect x="135.2" y="456.8" width="1.9" height="1.1" fill="#fff" stroke="none" stroke-width="1" />
<rect x="135.2" y="459.2" width="1.9" height="1.1" fill="#fff" stroke="none" stroke-width="1" />
<rect x="135.2" y="461.4" width="1.9" height="0.9" fill="#fff" stroke="none" stroke-width="1" />
<rect x="133.4" y="459.8" width="0.9" height="1.6" fill="#00ffff" stroke="none" stroke-width="1" />
<rect x="137.3" y="458.3" width="0.9" height="2.8" fill="#00ffff" stroke="none" stroke-width="1" />
<rect x="135.1" y="464.5" width="2" height="4.6" fill="#ff0000" stroke="none" stroke-width="1" />
<rect x="135.4" y="488.37" width="1.6" height="1.3" fill="#ff0000" stroke="none" stroke-width="1" />
<path d="M133.7,490.57 H138.3 L139.3,491.97 V494.27 H133.7 Z" stroke="#ff0000" stroke-width="0.9" fill="#ff0000" />
<rect x="135.1" y="491.57" width="1.9" height="1.5" fill="#fff" stroke="none" stroke-width="1" />
<rect x="133.2" y="496.77" width="5.6" height="2.1" rx="1" fill="#fff" stroke="#ff0000" stroke-width="1.05"/>
<rect x="135.4" y="523.14" width="1.6" height="1.3" fill="#ff0000" stroke="none" stroke-width="1" />
<path d="M133.7,525.34 H138.3 L139.3,526.74 V529.04 H133.7 Z" stroke="#ff0000" stroke-width="0.9" fill="#ff0000" />
<rect x="135.1" y="526.34" width="1.9" height="1.5" fill="#fff" stroke="none" stroke-width="1" />
<rect x="133.2" y="531.54" width="5.6" height="2.1" rx="1" fill="#fff" stroke="#ff0000" stroke-width="1.05"/>
<rect x="135.1" y="555.9" width="2" height="2.7" fill="#ff0000" stroke="none" stroke-width="1" />
<rect x="133.2" y="559" width="5.9" height="9" rx="0.9" fill="#ff0000"/>
<rect x="135.2" y="561.2" width="1.9" height="1.1" fill="#fff" stroke="none" stroke-width="1" />
<rect x="135.2" y="563.6" width="1.9" height="1.1" fill="#fff" stroke="none" stroke-width="1" />
<rect x="135.2" y="565.8" width="1.9" height="0.9" fill="#fff" stroke="none" stroke-width="1" />
<rect x="133.4" y="564.2" width="0.9" height="1.6" fill="#00ffff" stroke="none" stroke-width="1" />
<rect x="137.3" y="562.7" width="0.9" height="2.8" fill="#00ffff" stroke="none" stroke-width="1" />
<rect x="135.4" y="592.77" width="1.6" height="1.3" fill="#ff0000" stroke="none" stroke-width="1" />
<path d="M133.7,594.97 H138.3 L139.3,596.37 V598.67 H133.7 Z" stroke="#ff0000" stroke-width="0.9" fill="#ff0000" />
<rect x="135.1" y="595.97" width="1.9" height="1.5" fill="#fff" stroke="none" stroke-width="1" />
<rect x="133.2" y="601.17" width="5.6" height="2.1" rx="1" fill="#fff" stroke="#ff0000" stroke-width="1.05"/>
<rect x="135.4" y="627.54" width="1.6" height="1.3" fill="#ff0000" stroke="none" stroke-width="1" />
<path d="M133.7,629.74 H138.3 L139.3,631.14 V633.44 H133.7 Z" stroke="#ff0000" stroke-width="0.9" fill="#ff0000" />
<rect x="135.1" y="630.74" width="1.9" height="1.5" fill="#fff" stroke="none" stroke-width="1" />
<rect x="133.2" y="635.94" width="5.6" height="2.1" rx="1" fill="#fff" stroke="#ff0000" stroke-width="1.05"/>
<rect x="135.1" y="660" width="2" height="2.7" fill="#ff0000" stroke="none" stroke-width="1" />
<rect x="133.2" y="663.1" width="5.9" height="9" rx="0.9" fill="#ff0000"/>
<rect x="135.2" y="665.3" width="1.9" height="1.1" fill="#fff" stroke="none" stroke-width="1" />
<rect x="135.2" y="667.7" width="1.9" height="1.1" fill="#fff" stroke="none" stroke-width="1" />
<rect x="135.2" y="669.9" width="1.9" height="0.9" fill="#fff" stroke="none" stroke-width="1" />
<rect x="133.4" y="668.3" width="0.9" height="1.6" fill="#00ffff" stroke="none" stroke-width="1" />
<rect x="137.3" y="666.8" width="0.9" height="2.8" fill="#00ffff" stroke="none" stroke-width="1" />
<path d="M127.7,89.8 V102.7 Q127.7,104.7 129.7,104.7 H142.5 Q144.5,104.7 144.5,102.7 V89.8" stroke="#000" stroke-width="1.3" fill="none" />
<path d="M130.2,89.8 V102.1 H142 V89.8" stroke="#000" stroke-width="1.1" fill="none" />
<rect x="127" y="89.5" width="3.9" height="1.6" fill="#000" stroke="none" stroke-width="1" />
<rect x="141.3" y="89.5" width="3.9" height="1.6" fill="#000" stroke="none" stroke-width="1" />
<rect x="135.2" y="92" width="1.8" height="10.4" fill="#ffff00" stroke="none" stroke-width="1" />
<path d="M132.9,102.6 L132.9,101.8 L136.1,99.8 L139.3,101.8 L139.3,102.6 Z" stroke="none" stroke-width="0" fill="#ffff00" />
<path d="M132.9,91.8 L132.9,92.6 L136.1,94.6 L139.3,92.6 L139.3,91.8 Z" stroke="none" stroke-width="0" fill="#ffff00" />
<rect x="134.2" y="92.4" width="3.8" height="2.9" fill="#ff7a00" stroke="none" stroke-width="1" />
<line x1="134.3" y1="104.7" x2="134.3" y2="117.2" stroke="#000" stroke-width="1.15" />
<line x1="137.9" y1="104.7" x2="137.9" y2="117.2" stroke="#000" stroke-width="1.15" />
<rect x="130.3" y="116.8" width="11.6" height="2.6" fill="#fff" stroke="#000" stroke-width="1" />
<line x1="134.9" y1="676.5" x2="134.9" y2="680.5" stroke="#000" stroke-width="1" />
<line x1="137.3" y1="676.5" x2="137.3" y2="680.5" stroke="#000" stroke-width="1" />
<rect x="130.4" y="675.3" width="11.4" height="2.5" fill="#fff" stroke="#000" stroke-width="1.05" />
<rect x="246" y="138.8" width="2" height="2.7" fill="#ff0000" stroke="none" stroke-width="1" />
<rect x="244.1" y="141.9" width="5.9" height="9" rx="0.9" fill="#ff0000"/>
<rect x="246.1" y="144.1" width="1.9" height="1.1" fill="#fff" stroke="none" stroke-width="1" />
<rect x="246.1" y="146.5" width="1.9" height="1.1" fill="#fff" stroke="none" stroke-width="1" />
<rect x="246.1" y="148.7" width="1.9" height="0.9" fill="#fff" stroke="none" stroke-width="1" />
<rect x="244.3" y="147.1" width="0.9" height="1.6" fill="#00ffff" stroke="none" stroke-width="1" />
<rect x="248.2" y="145.6" width="0.9" height="2.8" fill="#00ffff" stroke="none" stroke-width="1" />
<rect x="246.3" y="175.67" width="1.6" height="1.3" fill="#ff0000" stroke="none" stroke-width="1" />
<path d="M244.6,177.87 H249.2 L250.2,179.27 V181.57 H244.6 Z" stroke="#ff0000" stroke-width="0.9" fill="#ff0000" />
<rect x="246" y="178.87" width="1.9" height="1.5" fill="#fff" stroke="none" stroke-width="1" />
<rect x="244.1" y="184.07" width="5.6" height="2.1" rx="1" fill="#fff" stroke="#ff0000" stroke-width="1.05"/>
<rect x="246.3" y="210.44" width="1.6" height="1.3" fill="#ff0000" stroke="none" stroke-width="1" />
<path d="M244.6,212.64 H249.2 L250.2,214.04 V216.34 H244.6 Z" stroke="#ff0000" stroke-width="0.9" fill="#ff0000" />
<rect x="246" y="213.64" width="1.9" height="1.5" fill="#fff" stroke="none" stroke-width="1" />
<rect x="244.1" y="218.84" width="5.6" height="2.1" rx="1" fill="#fff" stroke="#ff0000" stroke-width="1.05"/>
<rect x="246" y="243.2" width="2" height="2.7" fill="#ff0000" stroke="none" stroke-width="1" />
<rect x="244.1" y="246.3" width="5.9" height="9" rx="0.9" fill="#ff0000"/>
<rect x="246.1" y="248.5" width="1.9" height="1.1" fill="#fff" stroke="none" stroke-width="1" />
<rect x="246.1" y="250.9" width="1.9" height="1.1" fill="#fff" stroke="none" stroke-width="1" />
<rect x="246.1" y="253.1" width="1.9" height="0.9" fill="#fff" stroke="none" stroke-width="1" />
<rect x="244.3" y="251.5" width="0.9" height="1.6" fill="#00ffff" stroke="none" stroke-width="1" />
<rect x="248.2" y="250" width="0.9" height="2.8" fill="#00ffff" stroke="none" stroke-width="1" />
<rect x="246" y="256.2" width="2" height="4.6" fill="#ff0000" stroke="none" stroke-width="1" />
<rect x="246.3" y="280.07" width="1.6" height="1.3" fill="#ff0000" stroke="none" stroke-width="1" />
<path d="M244.6,282.27 H249.2 L250.2,283.67 V285.97 H244.6 Z" stroke="#ff0000" stroke-width="0.9" fill="#ff0000" />
<rect x="246" y="283.27" width="1.9" height="1.5" fill="#fff" stroke="none" stroke-width="1" />
<rect x="244.1" y="288.47" width="5.6" height="2.1" rx="1" fill="#fff" stroke="#ff0000" stroke-width="1.05"/>
<rect x="246.3" y="314.84" width="1.6" height="1.3" fill="#ff0000" stroke="none" stroke-width="1" />
<path d="M244.6,317.04 H249.2 L250.2,318.44 V320.74 H244.6 Z" stroke="#ff0000" stroke-width="0.9" fill="#ff0000" />
<rect x="246" y="318.04" width="1.9" height="1.5" fill="#fff" stroke="none" stroke-width="1" />
<rect x="244.1" y="323.24" width="5.6" height="2.1" rx="1" fill="#fff" stroke="#ff0000" stroke-width="1.05"/>
<rect x="246" y="347.3" width="2" height="2.7" fill="#ff0000" stroke="none" stroke-width="1" />
<rect x="244.1" y="350.4" width="5.9" height="9" rx="0.9" fill="#ff0000"/>
<rect x="246.1" y="352.6" width="1.9" height="1.1" fill="#fff" stroke="none" stroke-width="1" />
<rect x="246.1" y="355" width="1.9" height="1.1" fill="#fff" stroke="none" stroke-width="1" />
<rect x="246.1" y="357.2" width="1.9" height="0.9" fill="#fff" stroke="none" stroke-width="1" />
<rect x="244.3" y="355.6" width="0.9" height="1.6" fill="#00ffff" stroke="none" stroke-width="1" />
<rect x="248.2" y="354.1" width="0.9" height="2.8" fill="#00ffff" stroke="none" stroke-width="1" />
<rect x="246.3" y="384.17" width="1.6" height="1.3" fill="#ff0000" stroke="none" stroke-width="1" />
<path d="M244.6,386.37 H249.2 L250.2,387.77 V390.07 H244.6 Z" stroke="#ff0000" stroke-width="0.9" fill="#ff0000" />
<rect x="246" y="387.37" width="1.9" height="1.5" fill="#fff" stroke="none" stroke-width="1" />
<rect x="244.1" y="392.57" width="5.6" height="2.1" rx="1" fill="#fff" stroke="#ff0000" stroke-width="1.05"/>
<rect x="246.3" y="418.94" width="1.6" height="1.3" fill="#ff0000" stroke="none" stroke-width="1" />
<path d="M244.6,421.14 H249.2 L250.2,422.54 V424.84 H244.6 Z" stroke="#ff0000" stroke-width="0.9" fill="#ff0000" />
<rect x="246" y="422.14" width="1.9" height="1.5" fill="#fff" stroke="none" stroke-width="1" />
<rect x="244.1" y="427.34" width="5.6" height="2.1" rx="1" fill="#fff" stroke="#ff0000" stroke-width="1.05"/>
<rect x="246" y="451.5" width="2" height="2.7" fill="#ff0000" stroke="none" stroke-width="1" />
<rect x="244.1" y="454.6" width="5.9" height="9" rx="0.9" fill="#ff0000"/>
<rect x="246.1" y="456.8" width="1.9" height="1.1" fill="#fff" stroke="none" stroke-width="1" />
<rect x="246.1" y="459.2" width="1.9" height="1.1" fill="#fff" stroke="none" stroke-width="1" />
<rect x="246.1" y="461.4" width="1.9" height="0.9" fill="#fff" stroke="none" stroke-width="1" />
<rect x="244.3" y="459.8" width="0.9" height="1.6" fill="#00ffff" stroke="none" stroke-width="1" />
<rect x="248.2" y="458.3" width="0.9" height="2.8" fill="#00ffff" stroke="none" stroke-width="1" />
<rect x="246" y="464.5" width="2" height="4.6" fill="#ff0000" stroke="none" stroke-width="1" />
<rect x="246.3" y="488.37" width="1.6" height="1.3" fill="#ff0000" stroke="none" stroke-width="1" />
<path d="M244.6,490.57 H249.2 L250.2,491.97 V494.27 H244.6 Z" stroke="#ff0000" stroke-width="0.9" fill="#ff0000" />
<rect x="246" y="491.57" width="1.9" height="1.5" fill="#fff" stroke="none" stroke-width="1" />
<rect x="244.1" y="496.77" width="5.6" height="2.1" rx="1" fill="#fff" stroke="#ff0000" stroke-width="1.05"/>
<rect x="246.3" y="523.14" width="1.6" height="1.3" fill="#ff0000" stroke="none" stroke-width="1" />
<path d="M244.6,525.34 H249.2 L250.2,526.74 V529.04 H244.6 Z" stroke="#ff0000" stroke-width="0.9" fill="#ff0000" />
<rect x="246" y="526.34" width="1.9" height="1.5" fill="#fff" stroke="none" stroke-width="1" />
<rect x="244.1" y="531.54" width="5.6" height="2.1" rx="1" fill="#fff" stroke="#ff0000" stroke-width="1.05"/>
<rect x="246" y="555.9" width="2" height="2.7" fill="#ff0000" stroke="none" stroke-width="1" />
<rect x="244.1" y="559" width="5.9" height="9" rx="0.9" fill="#ff0000"/>
<rect x="246.1" y="561.2" width="1.9" height="1.1" fill="#fff" stroke="none" stroke-width="1" />
<rect x="246.1" y="563.6" width="1.9" height="1.1" fill="#fff" stroke="none" stroke-width="1" />
<rect x="246.1" y="565.8" width="1.9" height="0.9" fill="#fff" stroke="none" stroke-width="1" />
<rect x="244.3" y="564.2" width="0.9" height="1.6" fill="#00ffff" stroke="none" stroke-width="1" />
<rect x="248.2" y="562.7" width="0.9" height="2.8" fill="#00ffff" stroke="none" stroke-width="1" />
<rect x="246.3" y="592.77" width="1.6" height="1.3" fill="#ff0000" stroke="none" stroke-width="1" />
<path d="M244.6,594.97 H249.2 L250.2,596.37 V598.67 H244.6 Z" stroke="#ff0000" stroke-width="0.9" fill="#ff0000" />
<rect x="246" y="595.97" width="1.9" height="1.5" fill="#fff" stroke="none" stroke-width="1" />
<rect x="244.1" y="601.17" width="5.6" height="2.1" rx="1" fill="#fff" stroke="#ff0000" stroke-width="1.05"/>
<rect x="246.3" y="627.54" width="1.6" height="1.3" fill="#ff0000" stroke="none" stroke-width="1" />
<path d="M244.6,629.74 H249.2 L250.2,631.14 V633.44 H244.6 Z" stroke="#ff0000" stroke-width="0.9" fill="#ff0000" />
<rect x="246" y="630.74" width="1.9" height="1.5" fill="#fff" stroke="none" stroke-width="1" />
<rect x="244.1" y="635.94" width="5.6" height="2.1" rx="1" fill="#fff" stroke="#ff0000" stroke-width="1.05"/>
<rect x="246" y="660" width="2" height="2.7" fill="#ff0000" stroke="none" stroke-width="1" />
<rect x="244.1" y="663.1" width="5.9" height="9" rx="0.9" fill="#ff0000"/>
<rect x="246.1" y="665.3" width="1.9" height="1.1" fill="#fff" stroke="none" stroke-width="1" />
<rect x="246.1" y="667.7" width="1.9" height="1.1" fill="#fff" stroke="none" stroke-width="1" />
<rect x="246.1" y="669.9" width="1.9" height="0.9" fill="#fff" stroke="none" stroke-width="1" />
<rect x="244.3" y="668.3" width="0.9" height="1.6" fill="#00ffff" stroke="none" stroke-width="1" />
<rect x="248.2" y="666.8" width="0.9" height="2.8" fill="#00ffff" stroke="none" stroke-width="1" />
<path d="M238.6,89.8 V102.7 Q238.6,104.7 240.6,104.7 H253.4 Q255.4,104.7 255.4,102.7 V89.8" stroke="#000" stroke-width="1.3" fill="none" />
<path d="M241.1,89.8 V102.1 H252.9 V89.8" stroke="#000" stroke-width="1.1" fill="none" />
<rect x="237.9" y="89.5" width="3.9" height="1.6" fill="#000" stroke="none" stroke-width="1" />
<rect x="252.2" y="89.5" width="3.9" height="1.6" fill="#000" stroke="none" stroke-width="1" />
<rect x="246.1" y="92" width="1.8" height="10.4" fill="#ffff00" stroke="none" stroke-width="1" />
<path d="M243.8,102.6 L243.8,101.8 L247,99.8 L250.2,101.8 L250.2,102.6 Z" stroke="none" stroke-width="0" fill="#ffff00" />
<path d="M243.8,91.8 L243.8,92.6 L247,94.6 L250.2,92.6 L250.2,91.8 Z" stroke="none" stroke-width="0" fill="#ffff00" />
<rect x="245.1" y="92.4" width="3.8" height="2.9" fill="#ff7a00" stroke="none" stroke-width="1" />
<line x1="245.2" y1="104.7" x2="245.2" y2="117.2" stroke="#000" stroke-width="1.15" />
<line x1="248.8" y1="104.7" x2="248.8" y2="117.2" stroke="#000" stroke-width="1.15" />
<rect x="241.2" y="116.8" width="11.6" height="2.6" fill="#fff" stroke="#000" stroke-width="1" />
<line x1="245.8" y1="676.5" x2="245.8" y2="680.5" stroke="#000" stroke-width="1" />
<line x1="248.2" y1="676.5" x2="248.2" y2="680.5" stroke="#000" stroke-width="1" />
<rect x="241.3" y="675.3" width="11.4" height="2.5" fill="#fff" stroke="#000" stroke-width="1.05" />
<rect x="357" y="138.8" width="2" height="2.7" fill="#ff0000" stroke="none" stroke-width="1" />
<rect x="355.1" y="141.9" width="5.9" height="9" rx="0.9" fill="#ff0000"/>
<rect x="357.1" y="144.1" width="1.9" height="1.1" fill="#fff" stroke="none" stroke-width="1" />
<rect x="357.1" y="146.5" width="1.9" height="1.1" fill="#fff" stroke="none" stroke-width="1" />
<rect x="357.1" y="148.7" width="1.9" height="0.9" fill="#fff" stroke="none" stroke-width="1" />
<rect x="355.3" y="147.1" width="0.9" height="1.6" fill="#00ffff" stroke="none" stroke-width="1" />
<rect x="359.2" y="145.6" width="0.9" height="2.8" fill="#00ffff" stroke="none" stroke-width="1" />
<rect x="357.3" y="175.67" width="1.6" height="1.3" fill="#ff0000" stroke="none" stroke-width="1" />
<path d="M355.6,177.87 H360.2 L361.2,179.27 V181.57 H355.6 Z" stroke="#ff0000" stroke-width="0.9" fill="#ff0000" />
<rect x="357" y="178.87" width="1.9" height="1.5" fill="#fff" stroke="none" stroke-width="1" />
<rect x="355.1" y="184.07" width="5.6" height="2.1" rx="1" fill="#fff" stroke="#ff0000" stroke-width="1.05"/>
<rect x="357.3" y="210.44" width="1.6" height="1.3" fill="#ff0000" stroke="none" stroke-width="1" />
<path d="M355.6,212.64 H360.2 L361.2,214.04 V216.34 H355.6 Z" stroke="#ff0000" stroke-width="0.9" fill="#ff0000" />
<rect x="357" y="213.64" width="1.9" height="1.5" fill="#fff" stroke="none" stroke-width="1" />
<rect x="355.1" y="218.84" width="5.6" height="2.1" rx="1" fill="#fff" stroke="#ff0000" stroke-width="1.05"/>
<rect x="357" y="243.2" width="2" height="2.7" fill="#ff0000" stroke="none" stroke-width="1" />
<rect x="355.1" y="246.3" width="5.9" height="9" rx="0.9" fill="#ff0000"/>
<rect x="357.1" y="248.5" width="1.9" height="1.1" fill="#fff" stroke="none" stroke-width="1" />
<rect x="357.1" y="250.9" width="1.9" height="1.1" fill="#fff" stroke="none" stroke-width="1" />
<rect x="357.1" y="253.1" width="1.9" height="0.9" fill="#fff" stroke="none" stroke-width="1" />
<rect x="355.3" y="251.5" width="0.9" height="1.6" fill="#00ffff" stroke="none" stroke-width="1" />
<rect x="359.2" y="250" width="0.9" height="2.8" fill="#00ffff" stroke="none" stroke-width="1" />
<rect x="357" y="256.2" width="2" height="4.6" fill="#ff0000" stroke="none" stroke-width="1" />
<rect x="357.3" y="280.07" width="1.6" height="1.3" fill="#ff0000" stroke="none" stroke-width="1" />
<path d="M355.6,282.27 H360.2 L361.2,283.67 V285.97 H355.6 Z" stroke="#ff0000" stroke-width="0.9" fill="#ff0000" />
<rect x="357" y="283.27" width="1.9" height="1.5" fill="#fff" stroke="none" stroke-width="1" />
<rect x="355.1" y="288.47" width="5.6" height="2.1" rx="1" fill="#fff" stroke="#ff0000" stroke-width="1.05"/>
<rect x="357.3" y="314.84" width="1.6" height="1.3" fill="#ff0000" stroke="none" stroke-width="1" />
<path d="M355.6,317.04 H360.2 L361.2,318.44 V320.74 H355.6 Z" stroke="#ff0000" stroke-width="0.9" fill="#ff0000" />
<rect x="357" y="318.04" width="1.9" height="1.5" fill="#fff" stroke="none" stroke-width="1" />
<rect x="355.1" y="323.24" width="5.6" height="2.1" rx="1" fill="#fff" stroke="#ff0000" stroke-width="1.05"/>
<rect x="357" y="347.3" width="2" height="2.7" fill="#ff0000" stroke="none" stroke-width="1" />
<rect x="355.1" y="350.4" width="5.9" height="9" rx="0.9" fill="#ff0000"/>
<rect x="357.1" y="352.6" width="1.9" height="1.1" fill="#fff" stroke="none" stroke-width="1" />
<rect x="357.1" y="355" width="1.9" height="1.1" fill="#fff" stroke="none" stroke-width="1" />
<rect x="357.1" y="357.2" width="1.9" height="0.9" fill="#fff" stroke="none" stroke-width="1" />
<rect x="355.3" y="355.6" width="0.9" height="1.6" fill="#00ffff" stroke="none" stroke-width="1" />
<rect x="359.2" y="354.1" width="0.9" height="2.8" fill="#00ffff" stroke="none" stroke-width="1" />
<rect x="357.3" y="384.17" width="1.6" height="1.3" fill="#ff0000" stroke="none" stroke-width="1" />
<path d="M355.6,386.37 H360.2 L361.2,387.77 V390.07 H355.6 Z" stroke="#ff0000" stroke-width="0.9" fill="#ff0000" />
<rect x="357" y="387.37" width="1.9" height="1.5" fill="#fff" stroke="none" stroke-width="1" />
<rect x="355.1" y="392.57" width="5.6" height="2.1" rx="1" fill="#fff" stroke="#ff0000" stroke-width="1.05"/>
<rect x="357.3" y="418.94" width="1.6" height="1.3" fill="#ff0000" stroke="none" stroke-width="1" />
<path d="M355.6,421.14 H360.2 L361.2,422.54 V424.84 H355.6 Z" stroke="#ff0000" stroke-width="0.9" fill="#ff0000" />
<rect x="357" y="422.14" width="1.9" height="1.5" fill="#fff" stroke="none" stroke-width="1" />
<rect x="355.1" y="427.34" width="5.6" height="2.1" rx="1" fill="#fff" stroke="#ff0000" stroke-width="1.05"/>
<rect x="357" y="451.5" width="2" height="2.7" fill="#ff0000" stroke="none" stroke-width="1" />
<rect x="355.1" y="454.6" width="5.9" height="9" rx="0.9" fill="#ff0000"/>
<rect x="357.1" y="456.8" width="1.9" height="1.1" fill="#fff" stroke="none" stroke-width="1" />
<rect x="357.1" y="459.2" width="1.9" height="1.1" fill="#fff" stroke="none" stroke-width="1" />
<rect x="357.1" y="461.4" width="1.9" height="0.9" fill="#fff" stroke="none" stroke-width="1" />
<rect x="355.3" y="459.8" width="0.9" height="1.6" fill="#00ffff" stroke="none" stroke-width="1" />
<rect x="359.2" y="458.3" width="0.9" height="2.8" fill="#00ffff" stroke="none" stroke-width="1" />
<rect x="357" y="464.5" width="2" height="4.6" fill="#ff0000" stroke="none" stroke-width="1" />
<rect x="357.3" y="488.37" width="1.6" height="1.3" fill="#ff0000" stroke="none" stroke-width="1" />
<path d="M355.6,490.57 H360.2 L361.2,491.97 V494.27 H355.6 Z" stroke="#ff0000" stroke-width="0.9" fill="#ff0000" />
<rect x="357" y="491.57" width="1.9" height="1.5" fill="#fff" stroke="none" stroke-width="1" />
<rect x="355.1" y="496.77" width="5.6" height="2.1" rx="1" fill="#fff" stroke="#ff0000" stroke-width="1.05"/>
<rect x="357.3" y="523.14" width="1.6" height="1.3" fill="#ff0000" stroke="none" stroke-width="1" />
<path d="M355.6,525.34 H360.2 L361.2,526.74 V529.04 H355.6 Z" stroke="#ff0000" stroke-width="0.9" fill="#ff0000" />
<rect x="357" y="526.34" width="1.9" height="1.5" fill="#fff" stroke="none" stroke-width="1" />
<rect x="355.1" y="531.54" width="5.6" height="2.1" rx="1" fill="#fff" stroke="#ff0000" stroke-width="1.05"/>
<rect x="357" y="555.9" width="2" height="2.7" fill="#ff0000" stroke="none" stroke-width="1" />
<rect x="355.1" y="559" width="5.9" height="9" rx="0.9" fill="#ff0000"/>
<rect x="357.1" y="561.2" width="1.9" height="1.1" fill="#fff" stroke="none" stroke-width="1" />
<rect x="357.1" y="563.6" width="1.9" height="1.1" fill="#fff" stroke="none" stroke-width="1" />
<rect x="357.1" y="565.8" width="1.9" height="0.9" fill="#fff" stroke="none" stroke-width="1" />
<rect x="355.3" y="564.2" width="0.9" height="1.6" fill="#00ffff" stroke="none" stroke-width="1" />
<rect x="359.2" y="562.7" width="0.9" height="2.8" fill="#00ffff" stroke="none" stroke-width="1" />
<rect x="357.3" y="592.77" width="1.6" height="1.3" fill="#ff0000" stroke="none" stroke-width="1" />
<path d="M355.6,594.97 H360.2 L361.2,596.37 V598.67 H355.6 Z" stroke="#ff0000" stroke-width="0.9" fill="#ff0000" />
<rect x="357" y="595.97" width="1.9" height="1.5" fill="#fff" stroke="none" stroke-width="1" />
<rect x="355.1" y="601.17" width="5.6" height="2.1" rx="1" fill="#fff" stroke="#ff0000" stroke-width="1.05"/>
<rect x="357.3" y="627.54" width="1.6" height="1.3" fill="#ff0000" stroke="none" stroke-width="1" />
<path d="M355.6,629.74 H360.2 L361.2,631.14 V633.44 H355.6 Z" stroke="#ff0000" stroke-width="0.9" fill="#ff0000" />
<rect x="357" y="630.74" width="1.9" height="1.5" fill="#fff" stroke="none" stroke-width="1" />
<rect x="355.1" y="635.94" width="5.6" height="2.1" rx="1" fill="#fff" stroke="#ff0000" stroke-width="1.05"/>
<rect x="357" y="660" width="2" height="2.7" fill="#ff0000" stroke="none" stroke-width="1" />
<rect x="355.1" y="663.1" width="5.9" height="9" rx="0.9" fill="#ff0000"/>
<rect x="357.1" y="665.3" width="1.9" height="1.1" fill="#fff" stroke="none" stroke-width="1" />
<rect x="357.1" y="667.7" width="1.9" height="1.1" fill="#fff" stroke="none" stroke-width="1" />
<rect x="357.1" y="669.9" width="1.9" height="0.9" fill="#fff" stroke="none" stroke-width="1" />
<rect x="355.3" y="668.3" width="0.9" height="1.6" fill="#00ffff" stroke="none" stroke-width="1" />
<rect x="359.2" y="666.8" width="0.9" height="2.8" fill="#00ffff" stroke="none" stroke-width="1" />
<path d="M349.6,89.8 V102.7 Q349.6,104.7 351.6,104.7 H364.4 Q366.4,104.7 366.4,102.7 V89.8" stroke="#000" stroke-width="1.3" fill="none" />
<path d="M352.1,89.8 V102.1 H363.9 V89.8" stroke="#000" stroke-width="1.1" fill="none" />
<rect x="348.9" y="89.5" width="3.9" height="1.6" fill="#000" stroke="none" stroke-width="1" />
<rect x="363.2" y="89.5" width="3.9" height="1.6" fill="#000" stroke="none" stroke-width="1" />
<rect x="357.1" y="92" width="1.8" height="10.4" fill="#ffff00" stroke="none" stroke-width="1" />
<path d="M354.8,102.6 L354.8,101.8 L358,99.8 L361.2,101.8 L361.2,102.6 Z" stroke="none" stroke-width="0" fill="#ffff00" />
<path d="M354.8,91.8 L354.8,92.6 L358,94.6 L361.2,92.6 L361.2,91.8 Z" stroke="none" stroke-width="0" fill="#ffff00" />
<rect x="356.1" y="92.4" width="3.8" height="2.9" fill="#ff7a00" stroke="none" stroke-width="1" />
<line x1="356.2" y1="104.7" x2="356.2" y2="117.2" stroke="#000" stroke-width="1.15" />
<line x1="359.8" y1="104.7" x2="359.8" y2="117.2" stroke="#000" stroke-width="1.15" />
<rect x="352.2" y="116.8" width="11.6" height="2.6" fill="#fff" stroke="#000" stroke-width="1" />
<line x1="356.8" y1="676.5" x2="356.8" y2="680.5" stroke="#000" stroke-width="1" />
<line x1="359.2" y1="676.5" x2="359.2" y2="680.5" stroke="#000" stroke-width="1" />
<rect x="352.3" y="675.3" width="11.4" height="2.5" fill="#fff" stroke="#000" stroke-width="1.05" />
<line x1="403.55" y1="152" x2="403.55" y2="659" stroke="#c8c8c8" stroke-width="0.9" />
<line x1="406.65" y1="152" x2="406.65" y2="659" stroke="#c8c8c8" stroke-width="0.9" />
<rect x="472.4" y="151.5" width="4.4" height="507.5" fill="#fff" stroke="none" stroke-width="1" />
<line x1="472.5" y1="151.5" x2="472.5" y2="659" stroke="#ff0000" stroke-width="1.1" />
<line x1="476.7" y1="151.5" x2="476.7" y2="659" stroke="#ff0000" stroke-width="1.1" />
<line x1="403.5" y1="324" x2="403.5" y2="365" stroke="#ff0000" stroke-width="1.1" />
<line x1="406.7" y1="324" x2="406.7" y2="365" stroke="#ff0000" stroke-width="1.1" />
<line x1="403.5" y1="532.5" x2="403.5" y2="574" stroke="#ff0000" stroke-width="1.1" />
<line x1="406.7" y1="532.5" x2="406.7" y2="574" stroke="#ff0000" stroke-width="1.1" />
<rect x="404.3" y="156" width="1.6" height="3" fill="#000" stroke="none" stroke-width="1" />
<rect x="404.3" y="246.4" width="1.6" height="2.6" fill="#000" stroke="none" stroke-width="1" />
<rect x="404.3" y="455.2" width="1.6" height="2.6" fill="#000" stroke="none" stroke-width="1" />
<rect x="403.9" y="152.3" width="2.4" height="2.2" fill="#ff0000" stroke="none" stroke-width="1" />
<rect x="407.7" y="163.35" width="64.3" height="3.9" fill="#f4ffff" stroke="none" stroke-width="1" />
<line x1="407.3" y1="163.35" x2="472.4" y2="163.35" stroke="#ff0000" stroke-width="1.15" />
<line x1="407.3" y1="167.25" x2="472.4" y2="167.25" stroke="#ff0000" stroke-width="1.15" />
<line x1="407.9" y1="163.35" x2="407.9" y2="167.25" stroke="#00d0d0" stroke-width="0.7" />
<line x1="471.8" y1="163.35" x2="471.8" y2="167.25" stroke="#00d0d0" stroke-width="0.7" />
<text x="440.05" y="162.45" font-size="4.3" fill="#1a1a1a" text-anchor="middle" textLength="23.6" lengthAdjust="spacingAndGlyphs" stroke="#1a1a1a" stroke-width="0.12">Ledger 1.0 m</text>
<rect x="407.7" y="232.9" width="64.3" height="3.4" fill="#f4ffff" stroke="none" stroke-width="1" />
<line x1="407.3" y1="232.9" x2="472.4" y2="232.9" stroke="#ff0000" stroke-width="1.15" />
<line x1="407.3" y1="236.3" x2="472.4" y2="236.3" stroke="#ff0000" stroke-width="1.15" />
<line x1="407.9" y1="232.9" x2="407.9" y2="236.3" stroke="#00d0d0" stroke-width="0.7" />
<line x1="471.8" y1="232.9" x2="471.8" y2="236.3" stroke="#00d0d0" stroke-width="0.7" />
<text x="440.05" y="232" font-size="4.3" fill="#1a1a1a" text-anchor="middle" textLength="23.6" lengthAdjust="spacingAndGlyphs" stroke="#1a1a1a" stroke-width="0.12">Ledger 1.0 m</text>
<rect x="407.7" y="337.55" width="64.3" height="2.9" fill="#f4ffff" stroke="none" stroke-width="1" />
<line x1="407.3" y1="337.55" x2="472.4" y2="337.55" stroke="#ff0000" stroke-width="1.15" />
<line x1="407.3" y1="340.45" x2="472.4" y2="340.45" stroke="#ff0000" stroke-width="1.15" />
<line x1="407.9" y1="337.55" x2="407.9" y2="340.45" stroke="#00d0d0" stroke-width="0.7" />
<line x1="471.8" y1="337.55" x2="471.8" y2="340.45" stroke="#00d0d0" stroke-width="0.7" />
<text x="440.05" y="336.65" font-size="4.3" fill="#1a1a1a" text-anchor="middle" textLength="23.6" lengthAdjust="spacingAndGlyphs" stroke="#1a1a1a" stroke-width="0.12">Ledger 1.0 m</text>
<rect x="407.7" y="441.35" width="64.3" height="3.9" fill="#f4ffff" stroke="none" stroke-width="1" />
<line x1="407.3" y1="441.35" x2="472.4" y2="441.35" stroke="#ff0000" stroke-width="1.15" />
<line x1="407.3" y1="445.25" x2="472.4" y2="445.25" stroke="#ff0000" stroke-width="1.15" />
<line x1="407.9" y1="441.35" x2="407.9" y2="445.25" stroke="#00d0d0" stroke-width="0.7" />
<line x1="471.8" y1="441.35" x2="471.8" y2="445.25" stroke="#00d0d0" stroke-width="0.7" />
<text x="440.05" y="440.45" font-size="4.3" fill="#1a1a1a" text-anchor="middle" textLength="23.6" lengthAdjust="spacingAndGlyphs" stroke="#1a1a1a" stroke-width="0.12">Ledger 1.0 m</text>
<rect x="407.7" y="545.7" width="64.3" height="3.4" fill="#f4ffff" stroke="none" stroke-width="1" />
<line x1="407.3" y1="545.7" x2="472.4" y2="545.7" stroke="#ff0000" stroke-width="1.15" />
<line x1="407.3" y1="549.1" x2="472.4" y2="549.1" stroke="#ff0000" stroke-width="1.15" />
<line x1="407.9" y1="545.7" x2="407.9" y2="549.1" stroke="#00d0d0" stroke-width="0.7" />
<line x1="471.8" y1="545.7" x2="471.8" y2="549.1" stroke="#00d0d0" stroke-width="0.7" />
<text x="440.05" y="544.8" font-size="4.3" fill="#1a1a1a" text-anchor="middle" textLength="23.6" lengthAdjust="spacingAndGlyphs" stroke="#1a1a1a" stroke-width="0.12">Ledger 1.0 m</text>
<rect x="407.7" y="650.3" width="64.3" height="3.4" fill="#f4ffff" stroke="none" stroke-width="1" />
<line x1="407.3" y1="650.3" x2="472.4" y2="650.3" stroke="#ff0000" stroke-width="1.15" />
<line x1="407.3" y1="653.7" x2="472.4" y2="653.7" stroke="#ff0000" stroke-width="1.15" />
<line x1="407.9" y1="650.3" x2="407.9" y2="653.7" stroke="#00d0d0" stroke-width="0.7" />
<line x1="471.8" y1="650.3" x2="471.8" y2="653.7" stroke="#00d0d0" stroke-width="0.7" />
<text x="440.05" y="649.4" font-size="4.3" fill="#1a1a1a" text-anchor="middle" textLength="23.6" lengthAdjust="spacingAndGlyphs" stroke="#1a1a1a" stroke-width="0.12">Ledger 1.0 m</text>
<rect x="404.1" y="156.7" width="2" height="2.7" fill="#ff0000" stroke="none" stroke-width="1" />
<rect x="402.2" y="159.8" width="5.9" height="9" rx="0.9" fill="#ff0000"/>
<rect x="404.2" y="162" width="1.9" height="1.1" fill="#fff" stroke="none" stroke-width="1" />
<rect x="404.2" y="164.4" width="1.9" height="1.1" fill="#fff" stroke="none" stroke-width="1" />
<rect x="404.2" y="166.6" width="1.9" height="0.9" fill="#fff" stroke="none" stroke-width="1" />
<rect x="402.4" y="165" width="0.9" height="1.6" fill="#00ffff" stroke="none" stroke-width="1" />
<rect x="406.3" y="163.5" width="0.9" height="2.8" fill="#00ffff" stroke="none" stroke-width="1" />
<rect x="404.1" y="226" width="2" height="2.7" fill="#ff0000" stroke="none" stroke-width="1" />
<rect x="402.2" y="229.1" width="5.9" height="9" rx="0.9" fill="#ff0000"/>
<rect x="404.2" y="231.3" width="1.9" height="1.1" fill="#fff" stroke="none" stroke-width="1" />
<rect x="404.2" y="233.7" width="1.9" height="1.1" fill="#fff" stroke="none" stroke-width="1" />
<rect x="404.2" y="235.9" width="1.9" height="0.9" fill="#fff" stroke="none" stroke-width="1" />
<rect x="402.4" y="234.3" width="0.9" height="1.6" fill="#00ffff" stroke="none" stroke-width="1" />
<rect x="406.3" y="232.8" width="0.9" height="2.8" fill="#00ffff" stroke="none" stroke-width="1" />
<rect x="404.1" y="239" width="2" height="4.6" fill="#ff0000" stroke="none" stroke-width="1" />
<rect x="404.1" y="330.4" width="2" height="2.7" fill="#ff0000" stroke="none" stroke-width="1" />
<rect x="402.2" y="333.5" width="5.9" height="9" rx="0.9" fill="#ff0000"/>
<rect x="404.2" y="335.7" width="1.9" height="1.1" fill="#fff" stroke="none" stroke-width="1" />
<rect x="404.2" y="338.1" width="1.9" height="1.1" fill="#fff" stroke="none" stroke-width="1" />
<rect x="404.2" y="340.3" width="1.9" height="0.9" fill="#fff" stroke="none" stroke-width="1" />
<rect x="402.4" y="338.7" width="0.9" height="1.6" fill="#00ffff" stroke="none" stroke-width="1" />
<rect x="406.3" y="337.2" width="0.9" height="2.8" fill="#00ffff" stroke="none" stroke-width="1" />
<rect x="404.1" y="434.7" width="2" height="2.7" fill="#ff0000" stroke="none" stroke-width="1" />
<rect x="402.2" y="437.8" width="5.9" height="9" rx="0.9" fill="#ff0000"/>
<rect x="404.2" y="440" width="1.9" height="1.1" fill="#fff" stroke="none" stroke-width="1" />
<rect x="404.2" y="442.4" width="1.9" height="1.1" fill="#fff" stroke="none" stroke-width="1" />
<rect x="404.2" y="444.6" width="1.9" height="0.9" fill="#fff" stroke="none" stroke-width="1" />
<rect x="402.4" y="443" width="0.9" height="1.6" fill="#00ffff" stroke="none" stroke-width="1" />
<rect x="406.3" y="441.5" width="0.9" height="2.8" fill="#00ffff" stroke="none" stroke-width="1" />
<rect x="404.1" y="447.7" width="2" height="4.6" fill="#ff0000" stroke="none" stroke-width="1" />
<rect x="404.1" y="538.8" width="2" height="2.7" fill="#ff0000" stroke="none" stroke-width="1" />
<rect x="402.2" y="541.9" width="5.9" height="9" rx="0.9" fill="#ff0000"/>
<rect x="404.2" y="544.1" width="1.9" height="1.1" fill="#fff" stroke="none" stroke-width="1" />
<rect x="404.2" y="546.5" width="1.9" height="1.1" fill="#fff" stroke="none" stroke-width="1" />
<rect x="404.2" y="548.7" width="1.9" height="0.9" fill="#fff" stroke="none" stroke-width="1" />
<rect x="402.4" y="547.1" width="0.9" height="1.6" fill="#00ffff" stroke="none" stroke-width="1" />
<rect x="406.3" y="545.6" width="0.9" height="2.8" fill="#00ffff" stroke="none" stroke-width="1" />
<rect x="404.1" y="643.4" width="2" height="2.7" fill="#ff0000" stroke="none" stroke-width="1" />
<rect x="402.2" y="646.5" width="5.9" height="9" rx="0.9" fill="#ff0000"/>
<rect x="404.2" y="648.7" width="1.9" height="1.1" fill="#fff" stroke="none" stroke-width="1" />
<rect x="404.2" y="651.1" width="1.9" height="1.1" fill="#fff" stroke="none" stroke-width="1" />
<rect x="404.2" y="653.3" width="1.9" height="0.9" fill="#fff" stroke="none" stroke-width="1" />
<rect x="402.4" y="651.7" width="0.9" height="1.6" fill="#00ffff" stroke="none" stroke-width="1" />
<rect x="406.3" y="650.2" width="0.9" height="2.8" fill="#00ffff" stroke="none" stroke-width="1" />
<rect x="404.4" y="262.87" width="1.6" height="1.3" fill="#ff0000" stroke="none" stroke-width="1" />
<path d="M402.7,265.07 H407.3 L408.3,266.47 V268.77 H402.7 Z" stroke="#ff0000" stroke-width="0.9" fill="#ff0000" />
<rect x="404.1" y="266.07" width="1.9" height="1.5" fill="#fff" stroke="none" stroke-width="1" />
<rect x="402.2" y="271.27" width="5.6" height="2.1" rx="1" fill="#fff" stroke="#ff0000" stroke-width="1.05"/>
<rect x="404.4" y="297.64" width="1.6" height="1.3" fill="#ff0000" stroke="none" stroke-width="1" />
<path d="M402.7,299.84 H407.3 L408.3,301.24 V303.54 H402.7 Z" stroke="#ff0000" stroke-width="0.9" fill="#ff0000" />
<rect x="404.1" y="300.84" width="1.9" height="1.5" fill="#fff" stroke="none" stroke-width="1" />
<rect x="402.2" y="306.04" width="5.6" height="2.1" rx="1" fill="#fff" stroke="#ff0000" stroke-width="1.05"/>
<rect x="404.4" y="367.27" width="1.6" height="1.3" fill="#ff0000" stroke="none" stroke-width="1" />
<path d="M402.7,369.47 H407.3 L408.3,370.87 V373.17 H402.7 Z" stroke="#ff0000" stroke-width="0.9" fill="#ff0000" />
<rect x="404.1" y="370.47" width="1.9" height="1.5" fill="#fff" stroke="none" stroke-width="1" />
<rect x="402.2" y="375.67" width="5.6" height="2.1" rx="1" fill="#fff" stroke="#ff0000" stroke-width="1.05"/>
<rect x="404.4" y="402.04" width="1.6" height="1.3" fill="#ff0000" stroke="none" stroke-width="1" />
<path d="M402.7,404.24 H407.3 L408.3,405.64 V407.94 H402.7 Z" stroke="#ff0000" stroke-width="0.9" fill="#ff0000" />
<rect x="404.1" y="405.24" width="1.9" height="1.5" fill="#fff" stroke="none" stroke-width="1" />
<rect x="402.2" y="410.44" width="5.6" height="2.1" rx="1" fill="#fff" stroke="#ff0000" stroke-width="1.05"/>
<rect x="404.4" y="471.57" width="1.6" height="1.3" fill="#ff0000" stroke="none" stroke-width="1" />
<path d="M402.7,473.77 H407.3 L408.3,475.17 V477.47 H402.7 Z" stroke="#ff0000" stroke-width="0.9" fill="#ff0000" />
<rect x="404.1" y="474.77" width="1.9" height="1.5" fill="#fff" stroke="none" stroke-width="1" />
<rect x="402.2" y="479.97" width="5.6" height="2.1" rx="1" fill="#fff" stroke="#ff0000" stroke-width="1.05"/>
<rect x="404.4" y="506.34" width="1.6" height="1.3" fill="#ff0000" stroke="none" stroke-width="1" />
<path d="M402.7,508.54 H407.3 L408.3,509.94 V512.24 H402.7 Z" stroke="#ff0000" stroke-width="0.9" fill="#ff0000" />
<rect x="404.1" y="509.54" width="1.9" height="1.5" fill="#fff" stroke="none" stroke-width="1" />
<rect x="402.2" y="514.74" width="5.6" height="2.1" rx="1" fill="#fff" stroke="#ff0000" stroke-width="1.05"/>
<rect x="404.4" y="575.67" width="1.6" height="1.3" fill="#ff0000" stroke="none" stroke-width="1" />
<path d="M402.7,577.87 H407.3 L408.3,579.27 V581.57 H402.7 Z" stroke="#ff0000" stroke-width="0.9" fill="#ff0000" />
<rect x="404.1" y="578.87" width="1.9" height="1.5" fill="#fff" stroke="none" stroke-width="1" />
<rect x="402.2" y="584.07" width="5.6" height="2.1" rx="1" fill="#fff" stroke="#ff0000" stroke-width="1.05"/>
<rect x="404.4" y="610.44" width="1.6" height="1.3" fill="#ff0000" stroke="none" stroke-width="1" />
<path d="M402.7,612.64 H407.3 L408.3,614.04 V616.34 H402.7 Z" stroke="#ff0000" stroke-width="0.9" fill="#ff0000" />
<rect x="404.1" y="613.64" width="1.9" height="1.5" fill="#fff" stroke="none" stroke-width="1" />
<rect x="402.2" y="618.84" width="5.6" height="2.1" rx="1" fill="#fff" stroke="#ff0000" stroke-width="1.05"/>
<rect x="404.4" y="193.57" width="1.6" height="1.3" fill="#ff0000" stroke="none" stroke-width="1" />
<path d="M402.7,195.77 H407.3 L408.3,197.17 V199.47 H402.7 Z" stroke="#ff0000" stroke-width="0.9" fill="#ff0000" />
<rect x="404.1" y="196.77" width="1.9" height="1.5" fill="#fff" stroke="none" stroke-width="1" />
<rect x="402.2" y="201.97" width="5.6" height="2.1" rx="1" fill="#fff" stroke="#ff0000" stroke-width="1.05"/>
<path d="M397.1,130.8 V143.7 Q397.1,145.7 399.1,145.7 H411.1 Q413.1,145.7 413.1,143.7 V130.8" stroke="#000" stroke-width="1.3" fill="none" />
<path d="M399.6,130.8 V143.1 H410.6 V130.8" stroke="#000" stroke-width="1.1" fill="none" />
<rect x="396.4" y="130.5" width="3.9" height="1.6" fill="#000" stroke="none" stroke-width="1" />
<rect x="409.9" y="130.5" width="3.9" height="1.6" fill="#000" stroke="none" stroke-width="1" />
<rect x="404.2" y="133" width="1.8" height="10.4" fill="#ffff00" stroke="none" stroke-width="1" />
<path d="M401.9,143.6 L401.9,142.8 L405.1,140.8 L408.3,142.8 L408.3,143.6 Z" stroke="none" stroke-width="0" fill="#ffff00" />
<path d="M401.9,132.8 L401.9,133.6 L405.1,135.6 L408.3,133.6 L408.3,132.8 Z" stroke="none" stroke-width="0" fill="#ffff00" />
<rect x="403.2" y="133.4" width="3.8" height="2.9" fill="#ff7a00" stroke="none" stroke-width="1" />
<line x1="403.65" y1="145.7" x2="403.65" y2="150.6" stroke="#000" stroke-width="1.15" />
<line x1="406.55" y1="145.7" x2="406.55" y2="150.6" stroke="#000" stroke-width="1.15" />
<line x1="399.1" y1="150.6" x2="411.1" y2="150.6" stroke="#000" stroke-width="1.6" />
<rect x="403.3" y="659.5" width="3.6" height="21" fill="#fff" stroke="none" stroke-width="1" />
<line x1="403.3" y1="659.5" x2="403.3" y2="680.5" stroke="#000" stroke-width="1.1" />
<line x1="406.9" y1="659.5" x2="406.9" y2="680.5" stroke="#000" stroke-width="1.1" />
<line x1="399.1" y1="659.3" x2="411.1" y2="659.3" stroke="#000" stroke-width="1.6" />
<rect x="473.6" y="156.7" width="2" height="2.7" fill="#ff0000" stroke="none" stroke-width="1" />
<rect x="471.7" y="159.8" width="5.9" height="9" rx="0.9" fill="#ff0000"/>
<rect x="473.7" y="162" width="1.9" height="1.1" fill="#fff" stroke="none" stroke-width="1" />
<rect x="473.7" y="164.4" width="1.9" height="1.1" fill="#fff" stroke="none" stroke-width="1" />
<rect x="473.7" y="166.6" width="1.9" height="0.9" fill="#fff" stroke="none" stroke-width="1" />
<rect x="471.9" y="165" width="0.9" height="1.6" fill="#00ffff" stroke="none" stroke-width="1" />
<rect x="475.8" y="163.5" width="0.9" height="2.8" fill="#00ffff" stroke="none" stroke-width="1" />
<rect x="473.6" y="226" width="2" height="2.7" fill="#ff0000" stroke="none" stroke-width="1" />
<rect x="471.7" y="229.1" width="5.9" height="9" rx="0.9" fill="#ff0000"/>
<rect x="473.7" y="231.3" width="1.9" height="1.1" fill="#fff" stroke="none" stroke-width="1" />
<rect x="473.7" y="233.7" width="1.9" height="1.1" fill="#fff" stroke="none" stroke-width="1" />
<rect x="473.7" y="235.9" width="1.9" height="0.9" fill="#fff" stroke="none" stroke-width="1" />
<rect x="471.9" y="234.3" width="0.9" height="1.6" fill="#00ffff" stroke="none" stroke-width="1" />
<rect x="475.8" y="232.8" width="0.9" height="2.8" fill="#00ffff" stroke="none" stroke-width="1" />
<rect x="473.6" y="330.4" width="2" height="2.7" fill="#ff0000" stroke="none" stroke-width="1" />
<rect x="471.7" y="333.5" width="5.9" height="9" rx="0.9" fill="#ff0000"/>
<rect x="473.7" y="335.7" width="1.9" height="1.1" fill="#fff" stroke="none" stroke-width="1" />
<rect x="473.7" y="338.1" width="1.9" height="1.1" fill="#fff" stroke="none" stroke-width="1" />
<rect x="473.7" y="340.3" width="1.9" height="0.9" fill="#fff" stroke="none" stroke-width="1" />
<rect x="471.9" y="338.7" width="0.9" height="1.6" fill="#00ffff" stroke="none" stroke-width="1" />
<rect x="475.8" y="337.2" width="0.9" height="2.8" fill="#00ffff" stroke="none" stroke-width="1" />
<rect x="473.6" y="434.7" width="2" height="2.7" fill="#ff0000" stroke="none" stroke-width="1" />
<rect x="471.7" y="437.8" width="5.9" height="9" rx="0.9" fill="#ff0000"/>
<rect x="473.7" y="440" width="1.9" height="1.1" fill="#fff" stroke="none" stroke-width="1" />
<rect x="473.7" y="442.4" width="1.9" height="1.1" fill="#fff" stroke="none" stroke-width="1" />
<rect x="473.7" y="444.6" width="1.9" height="0.9" fill="#fff" stroke="none" stroke-width="1" />
<rect x="471.9" y="443" width="0.9" height="1.6" fill="#00ffff" stroke="none" stroke-width="1" />
<rect x="475.8" y="441.5" width="0.9" height="2.8" fill="#00ffff" stroke="none" stroke-width="1" />
<rect x="473.6" y="538.8" width="2" height="2.7" fill="#ff0000" stroke="none" stroke-width="1" />
<rect x="471.7" y="541.9" width="5.9" height="9" rx="0.9" fill="#ff0000"/>
<rect x="473.7" y="544.1" width="1.9" height="1.1" fill="#fff" stroke="none" stroke-width="1" />
<rect x="473.7" y="546.5" width="1.9" height="1.1" fill="#fff" stroke="none" stroke-width="1" />
<rect x="473.7" y="548.7" width="1.9" height="0.9" fill="#fff" stroke="none" stroke-width="1" />
<rect x="471.9" y="547.1" width="0.9" height="1.6" fill="#00ffff" stroke="none" stroke-width="1" />
<rect x="475.8" y="545.6" width="0.9" height="2.8" fill="#00ffff" stroke="none" stroke-width="1" />
<rect x="473.6" y="643.4" width="2" height="2.7" fill="#ff0000" stroke="none" stroke-width="1" />
<rect x="471.7" y="646.5" width="5.9" height="9" rx="0.9" fill="#ff0000"/>
<rect x="473.7" y="648.7" width="1.9" height="1.1" fill="#fff" stroke="none" stroke-width="1" />
<rect x="473.7" y="651.1" width="1.9" height="1.1" fill="#fff" stroke="none" stroke-width="1" />
<rect x="473.7" y="653.3" width="1.9" height="0.9" fill="#fff" stroke="none" stroke-width="1" />
<rect x="471.9" y="651.7" width="0.9" height="1.6" fill="#00ffff" stroke="none" stroke-width="1" />
<rect x="475.8" y="650.2" width="0.9" height="2.8" fill="#00ffff" stroke="none" stroke-width="1" />
<rect x="473.9" y="262.87" width="1.6" height="1.3" fill="#ff0000" stroke="none" stroke-width="1" />
<path d="M472.2,265.07 H476.8 L477.8,266.47 V268.77 H472.2 Z" stroke="#ff0000" stroke-width="0.9" fill="#ff0000" />
<rect x="473.6" y="266.07" width="1.9" height="1.5" fill="#fff" stroke="none" stroke-width="1" />
<rect x="471.7" y="271.27" width="5.6" height="2.1" rx="1" fill="#fff" stroke="#ff0000" stroke-width="1.05"/>
<rect x="473.9" y="297.64" width="1.6" height="1.3" fill="#ff0000" stroke="none" stroke-width="1" />
<path d="M472.2,299.84 H476.8 L477.8,301.24 V303.54 H472.2 Z" stroke="#ff0000" stroke-width="0.9" fill="#ff0000" />
<rect x="473.6" y="300.84" width="1.9" height="1.5" fill="#fff" stroke="none" stroke-width="1" />
<rect x="471.7" y="306.04" width="5.6" height="2.1" rx="1" fill="#fff" stroke="#ff0000" stroke-width="1.05"/>
<rect x="473.9" y="367.27" width="1.6" height="1.3" fill="#ff0000" stroke="none" stroke-width="1" />
<path d="M472.2,369.47 H476.8 L477.8,370.87 V373.17 H472.2 Z" stroke="#ff0000" stroke-width="0.9" fill="#ff0000" />
<rect x="473.6" y="370.47" width="1.9" height="1.5" fill="#fff" stroke="none" stroke-width="1" />
<rect x="471.7" y="375.67" width="5.6" height="2.1" rx="1" fill="#fff" stroke="#ff0000" stroke-width="1.05"/>
<rect x="473.9" y="402.04" width="1.6" height="1.3" fill="#ff0000" stroke="none" stroke-width="1" />
<path d="M472.2,404.24 H476.8 L477.8,405.64 V407.94 H472.2 Z" stroke="#ff0000" stroke-width="0.9" fill="#ff0000" />
<rect x="473.6" y="405.24" width="1.9" height="1.5" fill="#fff" stroke="none" stroke-width="1" />
<rect x="471.7" y="410.44" width="5.6" height="2.1" rx="1" fill="#fff" stroke="#ff0000" stroke-width="1.05"/>
<rect x="473.9" y="471.57" width="1.6" height="1.3" fill="#ff0000" stroke="none" stroke-width="1" />
<path d="M472.2,473.77 H476.8 L477.8,475.17 V477.47 H472.2 Z" stroke="#ff0000" stroke-width="0.9" fill="#ff0000" />
<rect x="473.6" y="474.77" width="1.9" height="1.5" fill="#fff" stroke="none" stroke-width="1" />
<rect x="471.7" y="479.97" width="5.6" height="2.1" rx="1" fill="#fff" stroke="#ff0000" stroke-width="1.05"/>
<rect x="473.9" y="506.34" width="1.6" height="1.3" fill="#ff0000" stroke="none" stroke-width="1" />
<path d="M472.2,508.54 H476.8 L477.8,509.94 V512.24 H472.2 Z" stroke="#ff0000" stroke-width="0.9" fill="#ff0000" />
<rect x="473.6" y="509.54" width="1.9" height="1.5" fill="#fff" stroke="none" stroke-width="1" />
<rect x="471.7" y="514.74" width="5.6" height="2.1" rx="1" fill="#fff" stroke="#ff0000" stroke-width="1.05"/>
<rect x="473.9" y="575.67" width="1.6" height="1.3" fill="#ff0000" stroke="none" stroke-width="1" />
<path d="M472.2,577.87 H476.8 L477.8,579.27 V581.57 H472.2 Z" stroke="#ff0000" stroke-width="0.9" fill="#ff0000" />
<rect x="473.6" y="578.87" width="1.9" height="1.5" fill="#fff" stroke="none" stroke-width="1" />
<rect x="471.7" y="584.07" width="5.6" height="2.1" rx="1" fill="#fff" stroke="#ff0000" stroke-width="1.05"/>
<rect x="473.9" y="610.44" width="1.6" height="1.3" fill="#ff0000" stroke="none" stroke-width="1" />
<path d="M472.2,612.64 H476.8 L477.8,614.04 V616.34 H472.2 Z" stroke="#ff0000" stroke-width="0.9" fill="#ff0000" />
<rect x="473.6" y="613.64" width="1.9" height="1.5" fill="#fff" stroke="none" stroke-width="1" />
<rect x="471.7" y="618.84" width="5.6" height="2.1" rx="1" fill="#fff" stroke="#ff0000" stroke-width="1.05"/>
<rect x="473.9" y="193.57" width="1.6" height="1.3" fill="#ff0000" stroke="none" stroke-width="1" />
<path d="M472.2,195.77 H476.8 L477.8,197.17 V199.47 H472.2 Z" stroke="#ff0000" stroke-width="0.9" fill="#ff0000" />
<rect x="473.6" y="196.77" width="1.9" height="1.5" fill="#fff" stroke="none" stroke-width="1" />
<rect x="471.7" y="201.97" width="5.6" height="2.1" rx="1" fill="#fff" stroke="#ff0000" stroke-width="1.05"/>
<path d="M466.6,130.8 V143.7 Q466.6,145.7 468.6,145.7 H480.6 Q482.6,145.7 482.6,143.7 V130.8" stroke="#000" stroke-width="1.3" fill="none" />
<path d="M469.1,130.8 V143.1 H480.1 V130.8" stroke="#000" stroke-width="1.1" fill="none" />
<rect x="465.9" y="130.5" width="3.9" height="1.6" fill="#000" stroke="none" stroke-width="1" />
<rect x="479.4" y="130.5" width="3.9" height="1.6" fill="#000" stroke="none" stroke-width="1" />
<rect x="473.7" y="133" width="1.8" height="10.4" fill="#ffff00" stroke="none" stroke-width="1" />
<path d="M471.4,143.6 L471.4,142.8 L474.6,140.8 L477.8,142.8 L477.8,143.6 Z" stroke="none" stroke-width="0" fill="#ffff00" />
<path d="M471.4,132.8 L471.4,133.6 L474.6,135.6 L477.8,133.6 L477.8,132.8 Z" stroke="none" stroke-width="0" fill="#ffff00" />
<rect x="472.7" y="133.4" width="3.8" height="2.9" fill="#ff7a00" stroke="none" stroke-width="1" />
<line x1="473.15" y1="145.7" x2="473.15" y2="150.6" stroke="#000" stroke-width="1.15" />
<line x1="476.05" y1="145.7" x2="476.05" y2="150.6" stroke="#000" stroke-width="1.15" />
<line x1="468.6" y1="150.6" x2="480.6" y2="150.6" stroke="#000" stroke-width="1.6" />
<rect x="472.8" y="659.5" width="3.6" height="21" fill="#fff" stroke="none" stroke-width="1" />
<line x1="472.8" y1="659.5" x2="472.8" y2="680.5" stroke="#000" stroke-width="1.1" />
<line x1="476.4" y1="659.5" x2="476.4" y2="680.5" stroke="#000" stroke-width="1.1" />
<line x1="468.6" y1="659.3" x2="480.6" y2="659.3" stroke="#000" stroke-width="1.6" />
<rect x="542.3" y="113.4" width="4.4" height="556.6" fill="#fff" stroke="none" stroke-width="1" />
<line x1="542.5" y1="113.4" x2="542.5" y2="670" stroke="#c8c8c8" stroke-width="0.9" />
<line x1="546.5" y1="113.4" x2="546.5" y2="670" stroke="#ff0000" stroke-width="1.3" />
<rect x="653.4" y="113.4" width="4.4" height="556.6" fill="#fff" stroke="none" stroke-width="1" />
<line x1="653.5" y1="113.4" x2="653.5" y2="670" stroke="#ff0000" stroke-width="1.1" />
<line x1="657.7" y1="113.4" x2="657.7" y2="670" stroke="#ff0000" stroke-width="1.1" />
<rect x="547.1" y="138.45" width="105.9" height="3.1" fill="#f4ffff" stroke="none" stroke-width="1" />
<line x1="546.7" y1="138.45" x2="653.4" y2="138.45" stroke="#ff0000" stroke-width="1.15" />
<line x1="546.7" y1="141.55" x2="653.4" y2="141.55" stroke="#ff0000" stroke-width="1.15" />
<line x1="547.3" y1="138.45" x2="547.3" y2="141.55" stroke="#00d0d0" stroke-width="0.7" />
<line x1="652.8" y1="138.45" x2="652.8" y2="141.55" stroke="#00d0d0" stroke-width="0.7" />
<text x="598.35" y="136.75" font-size="5.9" fill="#1a1a1a" text-anchor="middle" textLength="34.6" lengthAdjust="spacingAndGlyphs" stroke="#1a1a1a" stroke-width="0.12">Ledger 1.6 m</text>
<rect x="547.1" y="242.45" width="105.9" height="4.1" fill="#f4ffff" stroke="none" stroke-width="1" />
<line x1="546.7" y1="242.45" x2="653.4" y2="242.45" stroke="#ff0000" stroke-width="1.15" />
<line x1="546.7" y1="246.55" x2="653.4" y2="246.55" stroke="#ff0000" stroke-width="1.15" />
<line x1="547.3" y1="242.45" x2="547.3" y2="246.55" stroke="#00d0d0" stroke-width="0.7" />
<line x1="652.8" y1="242.45" x2="652.8" y2="246.55" stroke="#00d0d0" stroke-width="0.7" />
<text x="598.35" y="240.75" font-size="5.9" fill="#1a1a1a" text-anchor="middle" textLength="34.6" lengthAdjust="spacingAndGlyphs" stroke="#1a1a1a" stroke-width="0.12">Ledger 1.6 m</text>
<rect x="547.1" y="346.5" width="105.9" height="3.8" fill="#f4ffff" stroke="none" stroke-width="1" />
<line x1="546.7" y1="346.5" x2="653.4" y2="346.5" stroke="#ff0000" stroke-width="1.15" />
<line x1="546.7" y1="350.3" x2="653.4" y2="350.3" stroke="#ff0000" stroke-width="1.15" />
<line x1="547.3" y1="346.5" x2="547.3" y2="350.3" stroke="#00d0d0" stroke-width="0.7" />
<line x1="652.8" y1="346.5" x2="652.8" y2="350.3" stroke="#00d0d0" stroke-width="0.7" />
<text x="598.35" y="344.8" font-size="5.9" fill="#1a1a1a" text-anchor="middle" textLength="34.6" lengthAdjust="spacingAndGlyphs" stroke="#1a1a1a" stroke-width="0.12">Ledger 1.6 m</text>
<rect x="547.1" y="451.45" width="105.9" height="3.1" fill="#f4ffff" stroke="none" stroke-width="1" />
<line x1="546.7" y1="451.45" x2="653.4" y2="451.45" stroke="#ff0000" stroke-width="1.15" />
<line x1="546.7" y1="454.55" x2="653.4" y2="454.55" stroke="#ff0000" stroke-width="1.15" />
<line x1="547.3" y1="451.45" x2="547.3" y2="454.55" stroke="#00d0d0" stroke-width="0.7" />
<line x1="652.8" y1="451.45" x2="652.8" y2="454.55" stroke="#00d0d0" stroke-width="0.7" />
<text x="598.35" y="449.75" font-size="5.9" fill="#1a1a1a" text-anchor="middle" textLength="34.6" lengthAdjust="spacingAndGlyphs" stroke="#1a1a1a" stroke-width="0.12">Ledger 1.6 m</text>
<rect x="547.1" y="555.6" width="105.9" height="3.2" fill="#f4ffff" stroke="none" stroke-width="1" />
<line x1="546.7" y1="555.6" x2="653.4" y2="555.6" stroke="#ff0000" stroke-width="1.15" />
<line x1="546.7" y1="558.8" x2="653.4" y2="558.8" stroke="#ff0000" stroke-width="1.15" />
<line x1="547.3" y1="555.6" x2="547.3" y2="558.8" stroke="#00d0d0" stroke-width="0.7" />
<line x1="652.8" y1="555.6" x2="652.8" y2="558.8" stroke="#00d0d0" stroke-width="0.7" />
<text x="598.35" y="553.9" font-size="5.9" fill="#1a1a1a" text-anchor="middle" textLength="34.6" lengthAdjust="spacingAndGlyphs" stroke="#1a1a1a" stroke-width="0.12">Ledger 1.6 m</text>
<rect x="547.1" y="659.5" width="105.9" height="3.4" fill="#f4ffff" stroke="none" stroke-width="1" />
<line x1="546.7" y1="659.5" x2="653.4" y2="659.5" stroke="#ff0000" stroke-width="1.15" />
<line x1="546.7" y1="662.9" x2="653.4" y2="662.9" stroke="#ff0000" stroke-width="1.15" />
<line x1="547.3" y1="659.5" x2="547.3" y2="662.9" stroke="#00d0d0" stroke-width="0.7" />
<line x1="652.8" y1="659.5" x2="652.8" y2="662.9" stroke="#00d0d0" stroke-width="0.7" />
<text x="598.35" y="657.8" font-size="5.9" fill="#1a1a1a" text-anchor="middle" textLength="34.6" lengthAdjust="spacingAndGlyphs" stroke="#1a1a1a" stroke-width="0.12">Ledger 1.6 m</text>
<rect x="542.7" y="131.4" width="2" height="2.7" fill="#ff0000" stroke="none" stroke-width="1" />
<rect x="540.8" y="134.5" width="5.9" height="9" rx="0.9" fill="#ff0000"/>
<rect x="542.8" y="136.7" width="1.9" height="1.1" fill="#fff" stroke="none" stroke-width="1" />
<rect x="542.8" y="139.1" width="1.9" height="1.1" fill="#fff" stroke="none" stroke-width="1" />
<rect x="542.8" y="141.3" width="1.9" height="0.9" fill="#fff" stroke="none" stroke-width="1" />
<rect x="541" y="139.7" width="0.9" height="1.6" fill="#00ffff" stroke="none" stroke-width="1" />
<rect x="544.9" y="138.2" width="0.9" height="2.8" fill="#00ffff" stroke="none" stroke-width="1" />
<rect x="543" y="168.27" width="1.6" height="1.3" fill="#ff0000" stroke="none" stroke-width="1" />
<path d="M541.3,170.47 H545.9 L546.9,171.87 V174.17 H541.3 Z" stroke="#ff0000" stroke-width="0.9" fill="#ff0000" />
<rect x="542.7" y="171.47" width="1.9" height="1.5" fill="#fff" stroke="none" stroke-width="1" />
<rect x="540.8" y="176.67" width="5.6" height="2.1" rx="1" fill="#fff" stroke="#ff0000" stroke-width="1.05"/>
<rect x="543" y="203.04" width="1.6" height="1.3" fill="#ff0000" stroke="none" stroke-width="1" />
<path d="M541.3,205.24 H545.9 L546.9,206.64 V208.94 H541.3 Z" stroke="#ff0000" stroke-width="0.9" fill="#ff0000" />
<rect x="542.7" y="206.24" width="1.9" height="1.5" fill="#fff" stroke="none" stroke-width="1" />
<rect x="540.8" y="211.44" width="5.6" height="2.1" rx="1" fill="#fff" stroke="#ff0000" stroke-width="1.05"/>
<rect x="542.7" y="235.9" width="2" height="2.7" fill="#ff0000" stroke="none" stroke-width="1" />
<rect x="540.8" y="239" width="5.9" height="9" rx="0.9" fill="#ff0000"/>
<rect x="542.8" y="241.2" width="1.9" height="1.1" fill="#fff" stroke="none" stroke-width="1" />
<rect x="542.8" y="243.6" width="1.9" height="1.1" fill="#fff" stroke="none" stroke-width="1" />
<rect x="542.8" y="245.8" width="1.9" height="0.9" fill="#fff" stroke="none" stroke-width="1" />
<rect x="541" y="244.2" width="0.9" height="1.6" fill="#00ffff" stroke="none" stroke-width="1" />
<rect x="544.9" y="242.7" width="0.9" height="2.8" fill="#00ffff" stroke="none" stroke-width="1" />
<rect x="543" y="272.77" width="1.6" height="1.3" fill="#ff0000" stroke="none" stroke-width="1" />
<path d="M541.3,274.97 H545.9 L546.9,276.37 V278.67 H541.3 Z" stroke="#ff0000" stroke-width="0.9" fill="#ff0000" />
<rect x="542.7" y="275.97" width="1.9" height="1.5" fill="#fff" stroke="none" stroke-width="1" />
<rect x="540.8" y="281.17" width="5.6" height="2.1" rx="1" fill="#fff" stroke="#ff0000" stroke-width="1.05"/>
<rect x="543" y="307.54" width="1.6" height="1.3" fill="#ff0000" stroke="none" stroke-width="1" />
<path d="M541.3,309.74 H545.9 L546.9,311.14 V313.44 H541.3 Z" stroke="#ff0000" stroke-width="0.9" fill="#ff0000" />
<rect x="542.7" y="310.74" width="1.9" height="1.5" fill="#fff" stroke="none" stroke-width="1" />
<rect x="540.8" y="315.94" width="5.6" height="2.1" rx="1" fill="#fff" stroke="#ff0000" stroke-width="1.05"/>
<rect x="542.7" y="339.8" width="2" height="2.7" fill="#ff0000" stroke="none" stroke-width="1" />
<rect x="540.8" y="342.9" width="5.9" height="9" rx="0.9" fill="#ff0000"/>
<rect x="542.8" y="345.1" width="1.9" height="1.1" fill="#fff" stroke="none" stroke-width="1" />
<rect x="542.8" y="347.5" width="1.9" height="1.1" fill="#fff" stroke="none" stroke-width="1" />
<rect x="542.8" y="349.7" width="1.9" height="0.9" fill="#fff" stroke="none" stroke-width="1" />
<rect x="541" y="348.1" width="0.9" height="1.6" fill="#00ffff" stroke="none" stroke-width="1" />
<rect x="544.9" y="346.6" width="0.9" height="2.8" fill="#00ffff" stroke="none" stroke-width="1" />
<rect x="543" y="376.67" width="1.6" height="1.3" fill="#ff0000" stroke="none" stroke-width="1" />
<path d="M541.3,378.87 H545.9 L546.9,380.27 V382.57 H541.3 Z" stroke="#ff0000" stroke-width="0.9" fill="#ff0000" />
<rect x="542.7" y="379.87" width="1.9" height="1.5" fill="#fff" stroke="none" stroke-width="1" />
<rect x="540.8" y="385.07" width="5.6" height="2.1" rx="1" fill="#fff" stroke="#ff0000" stroke-width="1.05"/>
<rect x="543" y="411.44" width="1.6" height="1.3" fill="#ff0000" stroke="none" stroke-width="1" />
<path d="M541.3,413.64 H545.9 L546.9,415.04 V417.34 H541.3 Z" stroke="#ff0000" stroke-width="0.9" fill="#ff0000" />
<rect x="542.7" y="414.64" width="1.9" height="1.5" fill="#fff" stroke="none" stroke-width="1" />
<rect x="540.8" y="419.84" width="5.6" height="2.1" rx="1" fill="#fff" stroke="#ff0000" stroke-width="1.05"/>
<rect x="542.7" y="444.4" width="2" height="2.7" fill="#ff0000" stroke="none" stroke-width="1" />
<rect x="540.8" y="447.5" width="5.9" height="9" rx="0.9" fill="#ff0000"/>
<rect x="542.8" y="449.7" width="1.9" height="1.1" fill="#fff" stroke="none" stroke-width="1" />
<rect x="542.8" y="452.1" width="1.9" height="1.1" fill="#fff" stroke="none" stroke-width="1" />
<rect x="542.8" y="454.3" width="1.9" height="0.9" fill="#fff" stroke="none" stroke-width="1" />
<rect x="541" y="452.7" width="0.9" height="1.6" fill="#00ffff" stroke="none" stroke-width="1" />
<rect x="544.9" y="451.2" width="0.9" height="2.8" fill="#00ffff" stroke="none" stroke-width="1" />
<rect x="543" y="481.27" width="1.6" height="1.3" fill="#ff0000" stroke="none" stroke-width="1" />
<path d="M541.3,483.47 H545.9 L546.9,484.87 V487.17 H541.3 Z" stroke="#ff0000" stroke-width="0.9" fill="#ff0000" />
<rect x="542.7" y="484.47" width="1.9" height="1.5" fill="#fff" stroke="none" stroke-width="1" />
<rect x="540.8" y="489.67" width="5.6" height="2.1" rx="1" fill="#fff" stroke="#ff0000" stroke-width="1.05"/>
<rect x="543" y="516.04" width="1.6" height="1.3" fill="#ff0000" stroke="none" stroke-width="1" />
<path d="M541.3,518.24 H545.9 L546.9,519.64 V521.94 H541.3 Z" stroke="#ff0000" stroke-width="0.9" fill="#ff0000" />
<rect x="542.7" y="519.24" width="1.9" height="1.5" fill="#fff" stroke="none" stroke-width="1" />
<rect x="540.8" y="524.44" width="5.6" height="2.1" rx="1" fill="#fff" stroke="#ff0000" stroke-width="1.05"/>
<rect x="542.7" y="548.6" width="2" height="2.7" fill="#ff0000" stroke="none" stroke-width="1" />
<rect x="540.8" y="551.7" width="5.9" height="9" rx="0.9" fill="#ff0000"/>
<rect x="542.8" y="553.9" width="1.9" height="1.1" fill="#fff" stroke="none" stroke-width="1" />
<rect x="542.8" y="556.3" width="1.9" height="1.1" fill="#fff" stroke="none" stroke-width="1" />
<rect x="542.8" y="558.5" width="1.9" height="0.9" fill="#fff" stroke="none" stroke-width="1" />
<rect x="541" y="556.9" width="0.9" height="1.6" fill="#00ffff" stroke="none" stroke-width="1" />
<rect x="544.9" y="555.4" width="0.9" height="2.8" fill="#00ffff" stroke="none" stroke-width="1" />
<rect x="543" y="585.47" width="1.6" height="1.3" fill="#ff0000" stroke="none" stroke-width="1" />
<path d="M541.3,587.67 H545.9 L546.9,589.07 V591.37 H541.3 Z" stroke="#ff0000" stroke-width="0.9" fill="#ff0000" />
<rect x="542.7" y="588.67" width="1.9" height="1.5" fill="#fff" stroke="none" stroke-width="1" />
<rect x="540.8" y="593.87" width="5.6" height="2.1" rx="1" fill="#fff" stroke="#ff0000" stroke-width="1.05"/>
<rect x="543" y="620.24" width="1.6" height="1.3" fill="#ff0000" stroke="none" stroke-width="1" />
<path d="M541.3,622.44 H545.9 L546.9,623.84 V626.14 H541.3 Z" stroke="#ff0000" stroke-width="0.9" fill="#ff0000" />
<rect x="542.7" y="623.44" width="1.9" height="1.5" fill="#fff" stroke="none" stroke-width="1" />
<rect x="540.8" y="628.64" width="5.6" height="2.1" rx="1" fill="#fff" stroke="#ff0000" stroke-width="1.05"/>
<rect x="542.7" y="652.6" width="2" height="2.7" fill="#ff0000" stroke="none" stroke-width="1" />
<rect x="540.8" y="655.7" width="5.9" height="9" rx="0.9" fill="#ff0000"/>
<rect x="542.8" y="657.9" width="1.9" height="1.1" fill="#fff" stroke="none" stroke-width="1" />
<rect x="542.8" y="660.3" width="1.9" height="1.1" fill="#fff" stroke="none" stroke-width="1" />
<rect x="542.8" y="662.5" width="1.9" height="0.9" fill="#fff" stroke="none" stroke-width="1" />
<rect x="541" y="660.9" width="0.9" height="1.6" fill="#00ffff" stroke="none" stroke-width="1" />
<rect x="544.9" y="659.4" width="0.9" height="2.8" fill="#00ffff" stroke="none" stroke-width="1" />
<path d="M536.6,89.8 V102.7 Q536.6,104.7 538.6,104.7 H550.4 Q552.4,104.7 552.4,102.7 V89.8" stroke="#000" stroke-width="1.3" fill="none" />
<path d="M539.1,89.8 V102.1 H549.9 V89.8" stroke="#000" stroke-width="1.1" fill="none" />
<rect x="535.9" y="89.5" width="3.9" height="1.6" fill="#000" stroke="none" stroke-width="1" />
<rect x="549.2" y="89.5" width="3.9" height="1.6" fill="#000" stroke="none" stroke-width="1" />
<rect x="543.6" y="92" width="1.8" height="10.4" fill="#ffff00" stroke="none" stroke-width="1" />
<path d="M541.3,102.6 L541.3,101.8 L544.5,99.8 L547.7,101.8 L547.7,102.6 Z" stroke="none" stroke-width="0" fill="#ffff00" />
<path d="M541.3,91.8 L541.3,92.6 L544.5,94.6 L547.7,92.6 L547.7,91.8 Z" stroke="none" stroke-width="0" fill="#ffff00" />
<rect x="542.6" y="92.4" width="3.8" height="2.9" fill="#ff7a00" stroke="none" stroke-width="1" />
<line x1="543.05" y1="104.7" x2="543.05" y2="111.9" stroke="#000" stroke-width="1.15" />
<line x1="545.95" y1="104.7" x2="545.95" y2="111.9" stroke="#000" stroke-width="1.15" />
<line x1="539" y1="111.9" x2="550" y2="111.9" stroke="#000" stroke-width="1.6" />
<path d="M543.05,112.5 V136 Q543.05,137.3 544.5,137.3 Q545.95,137.3 545.95,136 V112.5" stroke="#000" stroke-width="1.15" fill="none" />
<line x1="543.2" y1="670.6" x2="543.2" y2="680.5" stroke="#000" stroke-width="1" />
<line x1="545.8" y1="670.6" x2="545.8" y2="680.5" stroke="#000" stroke-width="1" />
<line x1="538.7" y1="670.3" x2="550.3" y2="670.3" stroke="#000" stroke-width="1.6" />
<rect x="654.6" y="131.4" width="2" height="2.7" fill="#ff0000" stroke="none" stroke-width="1" />
<rect x="652.7" y="134.5" width="5.9" height="9" rx="0.9" fill="#ff0000"/>
<rect x="654.7" y="136.7" width="1.9" height="1.1" fill="#fff" stroke="none" stroke-width="1" />
<rect x="654.7" y="139.1" width="1.9" height="1.1" fill="#fff" stroke="none" stroke-width="1" />
<rect x="654.7" y="141.3" width="1.9" height="0.9" fill="#fff" stroke="none" stroke-width="1" />
<rect x="652.9" y="139.7" width="0.9" height="1.6" fill="#00ffff" stroke="none" stroke-width="1" />
<rect x="656.8" y="138.2" width="0.9" height="2.8" fill="#00ffff" stroke="none" stroke-width="1" />
<rect x="654.9" y="168.27" width="1.6" height="1.3" fill="#ff0000" stroke="none" stroke-width="1" />
<path d="M653.2,170.47 H657.8 L658.8,171.87 V174.17 H653.2 Z" stroke="#ff0000" stroke-width="0.9" fill="#ff0000" />
<rect x="654.6" y="171.47" width="1.9" height="1.5" fill="#fff" stroke="none" stroke-width="1" />
<rect x="652.7" y="176.67" width="5.6" height="2.1" rx="1" fill="#fff" stroke="#ff0000" stroke-width="1.05"/>
<rect x="654.9" y="203.04" width="1.6" height="1.3" fill="#ff0000" stroke="none" stroke-width="1" />
<path d="M653.2,205.24 H657.8 L658.8,206.64 V208.94 H653.2 Z" stroke="#ff0000" stroke-width="0.9" fill="#ff0000" />
<rect x="654.6" y="206.24" width="1.9" height="1.5" fill="#fff" stroke="none" stroke-width="1" />
<rect x="652.7" y="211.44" width="5.6" height="2.1" rx="1" fill="#fff" stroke="#ff0000" stroke-width="1.05"/>
<rect x="654.6" y="235.9" width="2" height="2.7" fill="#ff0000" stroke="none" stroke-width="1" />
<rect x="652.7" y="239" width="5.9" height="9" rx="0.9" fill="#ff0000"/>
<rect x="654.7" y="241.2" width="1.9" height="1.1" fill="#fff" stroke="none" stroke-width="1" />
<rect x="654.7" y="243.6" width="1.9" height="1.1" fill="#fff" stroke="none" stroke-width="1" />
<rect x="654.7" y="245.8" width="1.9" height="0.9" fill="#fff" stroke="none" stroke-width="1" />
<rect x="652.9" y="244.2" width="0.9" height="1.6" fill="#00ffff" stroke="none" stroke-width="1" />
<rect x="656.8" y="242.7" width="0.9" height="2.8" fill="#00ffff" stroke="none" stroke-width="1" />
<rect x="654.9" y="272.77" width="1.6" height="1.3" fill="#ff0000" stroke="none" stroke-width="1" />
<path d="M653.2,274.97 H657.8 L658.8,276.37 V278.67 H653.2 Z" stroke="#ff0000" stroke-width="0.9" fill="#ff0000" />
<rect x="654.6" y="275.97" width="1.9" height="1.5" fill="#fff" stroke="none" stroke-width="1" />
<rect x="652.7" y="281.17" width="5.6" height="2.1" rx="1" fill="#fff" stroke="#ff0000" stroke-width="1.05"/>
<rect x="654.9" y="307.54" width="1.6" height="1.3" fill="#ff0000" stroke="none" stroke-width="1" />
<path d="M653.2,309.74 H657.8 L658.8,311.14 V313.44 H653.2 Z" stroke="#ff0000" stroke-width="0.9" fill="#ff0000" />
<rect x="654.6" y="310.74" width="1.9" height="1.5" fill="#fff" stroke="none" stroke-width="1" />
<rect x="652.7" y="315.94" width="5.6" height="2.1" rx="1" fill="#fff" stroke="#ff0000" stroke-width="1.05"/>
<rect x="654.6" y="339.8" width="2" height="2.7" fill="#ff0000" stroke="none" stroke-width="1" />
<rect x="652.7" y="342.9" width="5.9" height="9" rx="0.9" fill="#ff0000"/>
<rect x="654.7" y="345.1" width="1.9" height="1.1" fill="#fff" stroke="none" stroke-width="1" />
<rect x="654.7" y="347.5" width="1.9" height="1.1" fill="#fff" stroke="none" stroke-width="1" />
<rect x="654.7" y="349.7" width="1.9" height="0.9" fill="#fff" stroke="none" stroke-width="1" />
<rect x="652.9" y="348.1" width="0.9" height="1.6" fill="#00ffff" stroke="none" stroke-width="1" />
<rect x="656.8" y="346.6" width="0.9" height="2.8" fill="#00ffff" stroke="none" stroke-width="1" />
<rect x="654.9" y="376.67" width="1.6" height="1.3" fill="#ff0000" stroke="none" stroke-width="1" />
<path d="M653.2,378.87 H657.8 L658.8,380.27 V382.57 H653.2 Z" stroke="#ff0000" stroke-width="0.9" fill="#ff0000" />
<rect x="654.6" y="379.87" width="1.9" height="1.5" fill="#fff" stroke="none" stroke-width="1" />
<rect x="652.7" y="385.07" width="5.6" height="2.1" rx="1" fill="#fff" stroke="#ff0000" stroke-width="1.05"/>
<rect x="654.9" y="411.44" width="1.6" height="1.3" fill="#ff0000" stroke="none" stroke-width="1" />
<path d="M653.2,413.64 H657.8 L658.8,415.04 V417.34 H653.2 Z" stroke="#ff0000" stroke-width="0.9" fill="#ff0000" />
<rect x="654.6" y="414.64" width="1.9" height="1.5" fill="#fff" stroke="none" stroke-width="1" />
<rect x="652.7" y="419.84" width="5.6" height="2.1" rx="1" fill="#fff" stroke="#ff0000" stroke-width="1.05"/>
<rect x="654.6" y="444.4" width="2" height="2.7" fill="#ff0000" stroke="none" stroke-width="1" />
<rect x="652.7" y="447.5" width="5.9" height="9" rx="0.9" fill="#ff0000"/>
<rect x="654.7" y="449.7" width="1.9" height="1.1" fill="#fff" stroke="none" stroke-width="1" />
<rect x="654.7" y="452.1" width="1.9" height="1.1" fill="#fff" stroke="none" stroke-width="1" />
<rect x="654.7" y="454.3" width="1.9" height="0.9" fill="#fff" stroke="none" stroke-width="1" />
<rect x="652.9" y="452.7" width="0.9" height="1.6" fill="#00ffff" stroke="none" stroke-width="1" />
<rect x="656.8" y="451.2" width="0.9" height="2.8" fill="#00ffff" stroke="none" stroke-width="1" />
<rect x="654.9" y="481.27" width="1.6" height="1.3" fill="#ff0000" stroke="none" stroke-width="1" />
<path d="M653.2,483.47 H657.8 L658.8,484.87 V487.17 H653.2 Z" stroke="#ff0000" stroke-width="0.9" fill="#ff0000" />
<rect x="654.6" y="484.47" width="1.9" height="1.5" fill="#fff" stroke="none" stroke-width="1" />
<rect x="652.7" y="489.67" width="5.6" height="2.1" rx="1" fill="#fff" stroke="#ff0000" stroke-width="1.05"/>
<rect x="654.9" y="516.04" width="1.6" height="1.3" fill="#ff0000" stroke="none" stroke-width="1" />
<path d="M653.2,518.24 H657.8 L658.8,519.64 V521.94 H653.2 Z" stroke="#ff0000" stroke-width="0.9" fill="#ff0000" />
<rect x="654.6" y="519.24" width="1.9" height="1.5" fill="#fff" stroke="none" stroke-width="1" />
<rect x="652.7" y="524.44" width="5.6" height="2.1" rx="1" fill="#fff" stroke="#ff0000" stroke-width="1.05"/>
<rect x="654.6" y="548.6" width="2" height="2.7" fill="#ff0000" stroke="none" stroke-width="1" />
<rect x="652.7" y="551.7" width="5.9" height="9" rx="0.9" fill="#ff0000"/>
<rect x="654.7" y="553.9" width="1.9" height="1.1" fill="#fff" stroke="none" stroke-width="1" />
<rect x="654.7" y="556.3" width="1.9" height="1.1" fill="#fff" stroke="none" stroke-width="1" />
<rect x="654.7" y="558.5" width="1.9" height="0.9" fill="#fff" stroke="none" stroke-width="1" />
<rect x="652.9" y="556.9" width="0.9" height="1.6" fill="#00ffff" stroke="none" stroke-width="1" />
<rect x="656.8" y="555.4" width="0.9" height="2.8" fill="#00ffff" stroke="none" stroke-width="1" />
<rect x="654.9" y="585.47" width="1.6" height="1.3" fill="#ff0000" stroke="none" stroke-width="1" />
<path d="M653.2,587.67 H657.8 L658.8,589.07 V591.37 H653.2 Z" stroke="#ff0000" stroke-width="0.9" fill="#ff0000" />
<rect x="654.6" y="588.67" width="1.9" height="1.5" fill="#fff" stroke="none" stroke-width="1" />
<rect x="652.7" y="593.87" width="5.6" height="2.1" rx="1" fill="#fff" stroke="#ff0000" stroke-width="1.05"/>
<rect x="654.9" y="620.24" width="1.6" height="1.3" fill="#ff0000" stroke="none" stroke-width="1" />
<path d="M653.2,622.44 H657.8 L658.8,623.84 V626.14 H653.2 Z" stroke="#ff0000" stroke-width="0.9" fill="#ff0000" />
<rect x="654.6" y="623.44" width="1.9" height="1.5" fill="#fff" stroke="none" stroke-width="1" />
<rect x="652.7" y="628.64" width="5.6" height="2.1" rx="1" fill="#fff" stroke="#ff0000" stroke-width="1.05"/>
<rect x="654.6" y="652.6" width="2" height="2.7" fill="#ff0000" stroke="none" stroke-width="1" />
<rect x="652.7" y="655.7" width="5.9" height="9" rx="0.9" fill="#ff0000"/>
<rect x="654.7" y="657.9" width="1.9" height="1.1" fill="#fff" stroke="none" stroke-width="1" />
<rect x="654.7" y="660.3" width="1.9" height="1.1" fill="#fff" stroke="none" stroke-width="1" />
<rect x="654.7" y="662.5" width="1.9" height="0.9" fill="#fff" stroke="none" stroke-width="1" />
<rect x="652.9" y="660.9" width="0.9" height="1.6" fill="#00ffff" stroke="none" stroke-width="1" />
<rect x="656.8" y="659.4" width="0.9" height="2.8" fill="#00ffff" stroke="none" stroke-width="1" />
<path d="M647.7,89.8 V102.7 Q647.7,104.7 649.7,104.7 H661.5 Q663.5,104.7 663.5,102.7 V89.8" stroke="#000" stroke-width="1.3" fill="none" />
<path d="M650.2,89.8 V102.1 H661 V89.8" stroke="#000" stroke-width="1.1" fill="none" />
<rect x="647" y="89.5" width="3.9" height="1.6" fill="#000" stroke="none" stroke-width="1" />
<rect x="660.3" y="89.5" width="3.9" height="1.6" fill="#000" stroke="none" stroke-width="1" />
<rect x="654.7" y="92" width="1.8" height="10.4" fill="#ffff00" stroke="none" stroke-width="1" />
<path d="M652.4,102.6 L652.4,101.8 L655.6,99.8 L658.8,101.8 L658.8,102.6 Z" stroke="none" stroke-width="0" fill="#ffff00" />
<path d="M652.4,91.8 L652.4,92.6 L655.6,94.6 L658.8,92.6 L658.8,91.8 Z" stroke="none" stroke-width="0" fill="#ffff00" />
<rect x="653.7" y="92.4" width="3.8" height="2.9" fill="#ff7a00" stroke="none" stroke-width="1" />
<line x1="654.15" y1="104.7" x2="654.15" y2="111.9" stroke="#000" stroke-width="1.15" />
<line x1="657.05" y1="104.7" x2="657.05" y2="111.9" stroke="#000" stroke-width="1.15" />
<line x1="650.1" y1="111.9" x2="661.1" y2="111.9" stroke="#000" stroke-width="1.6" />
<path d="M654.15,112.5 V136 Q654.15,137.3 655.6,137.3 Q657.05,137.3 657.05,136 V112.5" stroke="#000" stroke-width="1.15" fill="none" />
<line x1="654.3" y1="670.6" x2="654.3" y2="680.5" stroke="#000" stroke-width="1" />
<line x1="656.9" y1="670.6" x2="656.9" y2="680.5" stroke="#000" stroke-width="1" />
<line x1="649.8" y1="670.3" x2="661.4" y2="670.3" stroke="#000" stroke-width="1.6" />
<line x1="673.45" y1="178" x2="673.45" y2="664" stroke="#c8c8c8" stroke-width="0.9" />
<line x1="676.55" y1="178" x2="676.55" y2="664" stroke="#c8c8c8" stroke-width="0.9" />
<rect x="742.2" y="178" width="4.4" height="486" fill="#fff" stroke="none" stroke-width="1" />
<line x1="742.4" y1="178" x2="742.4" y2="664" stroke="#c8c8c8" stroke-width="0.9" />
<line x1="746.4" y1="178" x2="746.4" y2="664" stroke="#ff0000" stroke-width="1.3" />
<line x1="673.4" y1="330" x2="673.4" y2="371" stroke="#ff0000" stroke-width="1.1" />
<line x1="676.6" y1="330" x2="676.6" y2="371" stroke="#ff0000" stroke-width="1.1" />
<line x1="673.4" y1="538" x2="673.4" y2="579" stroke="#ff0000" stroke-width="1.1" />
<line x1="676.6" y1="538" x2="676.6" y2="579" stroke="#ff0000" stroke-width="1.1" />
<rect x="674.2" y="320" width="1.6" height="2.4" fill="#000" stroke="none" stroke-width="1" />
<rect x="674.2" y="459" width="1.6" height="2.4" fill="#000" stroke="none" stroke-width="1" />
<rect x="674.2" y="641" width="1.6" height="1.2" fill="#000" stroke="none" stroke-width="1" />
<rect x="743.6" y="641" width="1.6" height="1.2" fill="#000" stroke="none" stroke-width="1" />
<rect x="677.6" y="202.1" width="64.2" height="3.4" fill="#f4ffff" stroke="none" stroke-width="1" />
<line x1="677.2" y1="202.1" x2="742.2" y2="202.1" stroke="#ff0000" stroke-width="1.15" />
<line x1="677.2" y1="205.5" x2="742.2" y2="205.5" stroke="#ff0000" stroke-width="1.15" />
<line x1="677.8" y1="202.1" x2="677.8" y2="205.5" stroke="#00d0d0" stroke-width="0.7" />
<line x1="741.6" y1="202.1" x2="741.6" y2="205.5" stroke="#00d0d0" stroke-width="0.7" />
<text x="709.5" y="201.2" font-size="4.3" fill="#1a1a1a" text-anchor="middle" textLength="23.6" lengthAdjust="spacingAndGlyphs" stroke="#1a1a1a" stroke-width="0.12">Ledger 1.0 m</text>
<rect x="677.6" y="307.55" width="64.2" height="3.5" fill="#f4ffff" stroke="none" stroke-width="1" />
<line x1="677.2" y1="307.55" x2="742.2" y2="307.55" stroke="#ff0000" stroke-width="1.15" />
<line x1="677.2" y1="311.05" x2="742.2" y2="311.05" stroke="#ff0000" stroke-width="1.15" />
<line x1="677.8" y1="307.55" x2="677.8" y2="311.05" stroke="#00d0d0" stroke-width="0.7" />
<line x1="741.6" y1="307.55" x2="741.6" y2="311.05" stroke="#00d0d0" stroke-width="0.7" />
<text x="709.5" y="306.65" font-size="4.3" fill="#1a1a1a" text-anchor="middle" textLength="23.6" lengthAdjust="spacingAndGlyphs" stroke="#1a1a1a" stroke-width="0.12">Ledger 1.0 m</text>
<rect x="677.6" y="342.7" width="64.2" height="2.8" fill="#f4ffff" stroke="none" stroke-width="1" />
<line x1="677.2" y1="342.7" x2="742.2" y2="342.7" stroke="#ff0000" stroke-width="1.15" />
<line x1="677.2" y1="345.5" x2="742.2" y2="345.5" stroke="#ff0000" stroke-width="1.15" />
<line x1="677.8" y1="342.7" x2="677.8" y2="345.5" stroke="#00d0d0" stroke-width="0.7" />
<line x1="741.6" y1="342.7" x2="741.6" y2="345.5" stroke="#00d0d0" stroke-width="0.7" />
<text x="709.5" y="341.8" font-size="4.3" fill="#1a1a1a" text-anchor="middle" textLength="23.6" lengthAdjust="spacingAndGlyphs" stroke="#1a1a1a" stroke-width="0.12">Ledger 1.0 m</text>
<rect x="677.6" y="446.2" width="64.2" height="4.2" fill="#f4ffff" stroke="none" stroke-width="1" />
<line x1="677.2" y1="446.2" x2="742.2" y2="446.2" stroke="#ff0000" stroke-width="1.15" />
<line x1="677.2" y1="450.4" x2="742.2" y2="450.4" stroke="#ff0000" stroke-width="1.15" />
<line x1="677.8" y1="446.2" x2="677.8" y2="450.4" stroke="#00d0d0" stroke-width="0.7" />
<line x1="741.6" y1="446.2" x2="741.6" y2="450.4" stroke="#00d0d0" stroke-width="0.7" />
<text x="709.5" y="445.3" font-size="4.3" fill="#1a1a1a" text-anchor="middle" textLength="23.6" lengthAdjust="spacingAndGlyphs" stroke="#1a1a1a" stroke-width="0.12">Ledger 1.0 m</text>
<rect x="677.6" y="550.9" width="64.2" height="3.4" fill="#f4ffff" stroke="none" stroke-width="1" />
<line x1="677.2" y1="550.9" x2="742.2" y2="550.9" stroke="#ff0000" stroke-width="1.15" />
<line x1="677.2" y1="554.3" x2="742.2" y2="554.3" stroke="#ff0000" stroke-width="1.15" />
<line x1="677.8" y1="550.9" x2="677.8" y2="554.3" stroke="#00d0d0" stroke-width="0.7" />
<line x1="741.6" y1="550.9" x2="741.6" y2="554.3" stroke="#00d0d0" stroke-width="0.7" />
<text x="709.5" y="550" font-size="4.3" fill="#1a1a1a" text-anchor="middle" textLength="23.6" lengthAdjust="spacingAndGlyphs" stroke="#1a1a1a" stroke-width="0.12">Ledger 1.0 m</text>
<rect x="677.6" y="654.9" width="64.2" height="3.4" fill="#f4ffff" stroke="none" stroke-width="1" />
<line x1="677.2" y1="654.9" x2="742.2" y2="654.9" stroke="#ff0000" stroke-width="1.15" />
<line x1="677.2" y1="658.3" x2="742.2" y2="658.3" stroke="#ff0000" stroke-width="1.15" />
<line x1="677.8" y1="654.9" x2="677.8" y2="658.3" stroke="#00d0d0" stroke-width="0.7" />
<line x1="741.6" y1="654.9" x2="741.6" y2="658.3" stroke="#00d0d0" stroke-width="0.7" />
<text x="709.5" y="654" font-size="4.3" fill="#1a1a1a" text-anchor="middle" textLength="23.6" lengthAdjust="spacingAndGlyphs" stroke="#1a1a1a" stroke-width="0.12">Ledger 1.0 m</text>
<rect x="674" y="195.2" width="2" height="2.7" fill="#ff0000" stroke="none" stroke-width="1" />
<rect x="672.1" y="198.3" width="5.9" height="9" rx="0.9" fill="#ff0000"/>
<rect x="674.1" y="200.5" width="1.9" height="1.1" fill="#fff" stroke="none" stroke-width="1" />
<rect x="674.1" y="202.9" width="1.9" height="1.1" fill="#fff" stroke="none" stroke-width="1" />
<rect x="674.1" y="205.1" width="1.9" height="0.9" fill="#fff" stroke="none" stroke-width="1" />
<rect x="672.3" y="203.5" width="0.9" height="1.6" fill="#00ffff" stroke="none" stroke-width="1" />
<rect x="676.2" y="202" width="0.9" height="2.8" fill="#00ffff" stroke="none" stroke-width="1" />
<rect x="674" y="300.7" width="2" height="2.7" fill="#ff0000" stroke="none" stroke-width="1" />
<rect x="672.1" y="303.8" width="5.9" height="9" rx="0.9" fill="#ff0000"/>
<rect x="674.1" y="306" width="1.9" height="1.1" fill="#fff" stroke="none" stroke-width="1" />
<rect x="674.1" y="308.4" width="1.9" height="1.1" fill="#fff" stroke="none" stroke-width="1" />
<rect x="674.1" y="310.6" width="1.9" height="0.9" fill="#fff" stroke="none" stroke-width="1" />
<rect x="672.3" y="309" width="0.9" height="1.6" fill="#00ffff" stroke="none" stroke-width="1" />
<rect x="676.2" y="307.5" width="0.9" height="2.8" fill="#00ffff" stroke="none" stroke-width="1" />
<rect x="674" y="335.5" width="2" height="2.7" fill="#ff0000" stroke="none" stroke-width="1" />
<rect x="672.1" y="338.6" width="5.9" height="9" rx="0.9" fill="#ff0000"/>
<rect x="674.1" y="340.8" width="1.9" height="1.1" fill="#fff" stroke="none" stroke-width="1" />
<rect x="674.1" y="343.2" width="1.9" height="1.1" fill="#fff" stroke="none" stroke-width="1" />
<rect x="674.1" y="345.4" width="1.9" height="0.9" fill="#fff" stroke="none" stroke-width="1" />
<rect x="672.3" y="343.8" width="0.9" height="1.6" fill="#00ffff" stroke="none" stroke-width="1" />
<rect x="676.2" y="342.3" width="0.9" height="2.8" fill="#00ffff" stroke="none" stroke-width="1" />
<rect x="674" y="439.7" width="2" height="2.7" fill="#ff0000" stroke="none" stroke-width="1" />
<rect x="672.1" y="442.8" width="5.9" height="9" rx="0.9" fill="#ff0000"/>
<rect x="674.1" y="445" width="1.9" height="1.1" fill="#fff" stroke="none" stroke-width="1" />
<rect x="674.1" y="447.4" width="1.9" height="1.1" fill="#fff" stroke="none" stroke-width="1" />
<rect x="674.1" y="449.6" width="1.9" height="0.9" fill="#fff" stroke="none" stroke-width="1" />
<rect x="672.3" y="448" width="0.9" height="1.6" fill="#00ffff" stroke="none" stroke-width="1" />
<rect x="676.2" y="446.5" width="0.9" height="2.8" fill="#00ffff" stroke="none" stroke-width="1" />
<rect x="674" y="544" width="2" height="2.7" fill="#ff0000" stroke="none" stroke-width="1" />
<rect x="672.1" y="547.1" width="5.9" height="9" rx="0.9" fill="#ff0000"/>
<rect x="674.1" y="549.3" width="1.9" height="1.1" fill="#fff" stroke="none" stroke-width="1" />
<rect x="674.1" y="551.7" width="1.9" height="1.1" fill="#fff" stroke="none" stroke-width="1" />
<rect x="674.1" y="553.9" width="1.9" height="0.9" fill="#fff" stroke="none" stroke-width="1" />
<rect x="672.3" y="552.3" width="0.9" height="1.6" fill="#00ffff" stroke="none" stroke-width="1" />
<rect x="676.2" y="550.8" width="0.9" height="2.8" fill="#00ffff" stroke="none" stroke-width="1" />
<rect x="674" y="648" width="2" height="2.7" fill="#ff0000" stroke="none" stroke-width="1" />
<rect x="672.1" y="651.1" width="5.9" height="9" rx="0.9" fill="#ff0000"/>
<rect x="674.1" y="653.3" width="1.9" height="1.1" fill="#fff" stroke="none" stroke-width="1" />
<rect x="674.1" y="655.7" width="1.9" height="1.1" fill="#fff" stroke="none" stroke-width="1" />
<rect x="674.1" y="657.9" width="1.9" height="0.9" fill="#fff" stroke="none" stroke-width="1" />
<rect x="672.3" y="656.3" width="0.9" height="1.6" fill="#00ffff" stroke="none" stroke-width="1" />
<rect x="676.2" y="654.8" width="0.9" height="2.8" fill="#00ffff" stroke="none" stroke-width="1" />
<rect x="674.3" y="232.07" width="1.6" height="1.3" fill="#ff0000" stroke="none" stroke-width="1" />
<path d="M672.6,234.27 H677.2 L678.2,235.67 V237.97 H672.6 Z" stroke="#ff0000" stroke-width="0.9" fill="#ff0000" />
<rect x="674" y="235.27" width="1.9" height="1.5" fill="#fff" stroke="none" stroke-width="1" />
<rect x="672.1" y="240.47" width="5.6" height="2.1" rx="1" fill="#fff" stroke="#ff0000" stroke-width="1.05"/>
<rect x="674.3" y="266.84" width="1.6" height="1.3" fill="#ff0000" stroke="none" stroke-width="1" />
<path d="M672.6,269.04 H677.2 L678.2,270.44 V272.74 H672.6 Z" stroke="#ff0000" stroke-width="0.9" fill="#ff0000" />
<rect x="674" y="270.04" width="1.9" height="1.5" fill="#fff" stroke="none" stroke-width="1" />
<rect x="672.1" y="275.24" width="5.6" height="2.1" rx="1" fill="#fff" stroke="#ff0000" stroke-width="1.05"/>
<rect x="674.3" y="372.37" width="1.6" height="1.3" fill="#ff0000" stroke="none" stroke-width="1" />
<path d="M672.6,374.57 H677.2 L678.2,375.97 V378.27 H672.6 Z" stroke="#ff0000" stroke-width="0.9" fill="#ff0000" />
<rect x="674" y="375.57" width="1.9" height="1.5" fill="#fff" stroke="none" stroke-width="1" />
<rect x="672.1" y="380.77" width="5.6" height="2.1" rx="1" fill="#fff" stroke="#ff0000" stroke-width="1.05"/>
<rect x="674.3" y="407.14" width="1.6" height="1.3" fill="#ff0000" stroke="none" stroke-width="1" />
<path d="M672.6,409.34 H677.2 L678.2,410.74 V413.04 H672.6 Z" stroke="#ff0000" stroke-width="0.9" fill="#ff0000" />
<rect x="674" y="410.34" width="1.9" height="1.5" fill="#fff" stroke="none" stroke-width="1" />
<rect x="672.1" y="415.54" width="5.6" height="2.1" rx="1" fill="#fff" stroke="#ff0000" stroke-width="1.05"/>
<rect x="674.3" y="476.57" width="1.6" height="1.3" fill="#ff0000" stroke="none" stroke-width="1" />
<path d="M672.6,478.77 H677.2 L678.2,480.17 V482.47 H672.6 Z" stroke="#ff0000" stroke-width="0.9" fill="#ff0000" />
<rect x="674" y="479.77" width="1.9" height="1.5" fill="#fff" stroke="none" stroke-width="1" />
<rect x="672.1" y="484.97" width="5.6" height="2.1" rx="1" fill="#fff" stroke="#ff0000" stroke-width="1.05"/>
<rect x="674.3" y="511.34" width="1.6" height="1.3" fill="#ff0000" stroke="none" stroke-width="1" />
<path d="M672.6,513.54 H677.2 L678.2,514.94 V517.24 H672.6 Z" stroke="#ff0000" stroke-width="0.9" fill="#ff0000" />
<rect x="674" y="514.54" width="1.9" height="1.5" fill="#fff" stroke="none" stroke-width="1" />
<rect x="672.1" y="519.74" width="5.6" height="2.1" rx="1" fill="#fff" stroke="#ff0000" stroke-width="1.05"/>
<rect x="674.3" y="580.87" width="1.6" height="1.3" fill="#ff0000" stroke="none" stroke-width="1" />
<path d="M672.6,583.07 H677.2 L678.2,584.47 V586.77 H672.6 Z" stroke="#ff0000" stroke-width="0.9" fill="#ff0000" />
<rect x="674" y="584.07" width="1.9" height="1.5" fill="#fff" stroke="none" stroke-width="1" />
<rect x="672.1" y="589.27" width="5.6" height="2.1" rx="1" fill="#fff" stroke="#ff0000" stroke-width="1.05"/>
<rect x="674.3" y="615.64" width="1.6" height="1.3" fill="#ff0000" stroke="none" stroke-width="1" />
<path d="M672.6,617.84 H677.2 L678.2,619.24 V621.54 H672.6 Z" stroke="#ff0000" stroke-width="0.9" fill="#ff0000" />
<rect x="674" y="618.84" width="1.9" height="1.5" fill="#fff" stroke="none" stroke-width="1" />
<rect x="672.1" y="624.04" width="5.6" height="2.1" rx="1" fill="#fff" stroke="#ff0000" stroke-width="1.05"/>
<path d="M667.2,155 V167.9 Q667.2,169.9 669.2,169.9 H680.8 Q682.8,169.9 682.8,167.9 V155" stroke="#000" stroke-width="1.3" fill="none" />
<path d="M669.7,155 V167.3 H680.3 V155" stroke="#000" stroke-width="1.1" fill="none" />
<rect x="666.5" y="154.7" width="3.9" height="1.6" fill="#000" stroke="none" stroke-width="1" />
<rect x="679.6" y="154.7" width="3.9" height="1.6" fill="#000" stroke="none" stroke-width="1" />
<rect x="674.1" y="157.2" width="1.8" height="10.4" fill="#ffff00" stroke="none" stroke-width="1" />
<path d="M671.8,167.8 L671.8,167 L675,165 L678.2,167 L678.2,167.8 Z" stroke="none" stroke-width="0" fill="#ffff00" />
<path d="M671.8,157 L671.8,157.8 L675,159.8 L678.2,157.8 L678.2,157 Z" stroke="none" stroke-width="0" fill="#ffff00" />
<rect x="673.1" y="157.6" width="3.8" height="2.9" fill="#ff7a00" stroke="none" stroke-width="1" />
<line x1="673.55" y1="169.9" x2="673.55" y2="177" stroke="#000" stroke-width="1.15" />
<line x1="676.45" y1="169.9" x2="676.45" y2="177" stroke="#000" stroke-width="1.15" />
<line x1="669.7" y1="177" x2="680.3" y2="177" stroke="#000" stroke-width="1.6" />
<path d="M673.55,177.5 V199 Q673.55,200.4 675,200.4 Q676.45,200.4 676.45,199 V177.5" stroke="#000" stroke-width="1.15" fill="none" />
<rect x="673.2" y="664.8" width="3.6" height="15.7" fill="#fff" stroke="none" stroke-width="1" />
<line x1="673.2" y1="664.8" x2="673.2" y2="680.5" stroke="#000" stroke-width="1.1" />
<line x1="676.8" y1="664.8" x2="676.8" y2="680.5" stroke="#000" stroke-width="1.1" />
<line x1="669" y1="664.6" x2="681" y2="664.6" stroke="#000" stroke-width="1.6" />
<rect x="742.6" y="195.2" width="2" height="2.7" fill="#ff0000" stroke="none" stroke-width="1" />
<rect x="740.7" y="198.3" width="5.9" height="9" rx="0.9" fill="#ff0000"/>
<rect x="742.7" y="200.5" width="1.9" height="1.1" fill="#fff" stroke="none" stroke-width="1" />
<rect x="742.7" y="202.9" width="1.9" height="1.1" fill="#fff" stroke="none" stroke-width="1" />
<rect x="742.7" y="205.1" width="1.9" height="0.9" fill="#fff" stroke="none" stroke-width="1" />
<rect x="740.9" y="203.5" width="0.9" height="1.6" fill="#00ffff" stroke="none" stroke-width="1" />
<rect x="744.8" y="202" width="0.9" height="2.8" fill="#00ffff" stroke="none" stroke-width="1" />
<rect x="742.6" y="300.7" width="2" height="2.7" fill="#ff0000" stroke="none" stroke-width="1" />
<rect x="740.7" y="303.8" width="5.9" height="9" rx="0.9" fill="#ff0000"/>
<rect x="742.7" y="306" width="1.9" height="1.1" fill="#fff" stroke="none" stroke-width="1" />
<rect x="742.7" y="308.4" width="1.9" height="1.1" fill="#fff" stroke="none" stroke-width="1" />
<rect x="742.7" y="310.6" width="1.9" height="0.9" fill="#fff" stroke="none" stroke-width="1" />
<rect x="740.9" y="309" width="0.9" height="1.6" fill="#00ffff" stroke="none" stroke-width="1" />
<rect x="744.8" y="307.5" width="0.9" height="2.8" fill="#00ffff" stroke="none" stroke-width="1" />
<rect x="742.6" y="335.5" width="2" height="2.7" fill="#ff0000" stroke="none" stroke-width="1" />
<rect x="740.7" y="338.6" width="5.9" height="9" rx="0.9" fill="#ff0000"/>
<rect x="742.7" y="340.8" width="1.9" height="1.1" fill="#fff" stroke="none" stroke-width="1" />
<rect x="742.7" y="343.2" width="1.9" height="1.1" fill="#fff" stroke="none" stroke-width="1" />
<rect x="742.7" y="345.4" width="1.9" height="0.9" fill="#fff" stroke="none" stroke-width="1" />
<rect x="740.9" y="343.8" width="0.9" height="1.6" fill="#00ffff" stroke="none" stroke-width="1" />
<rect x="744.8" y="342.3" width="0.9" height="2.8" fill="#00ffff" stroke="none" stroke-width="1" />
<rect x="742.6" y="439.7" width="2" height="2.7" fill="#ff0000" stroke="none" stroke-width="1" />
<rect x="740.7" y="442.8" width="5.9" height="9" rx="0.9" fill="#ff0000"/>
<rect x="742.7" y="445" width="1.9" height="1.1" fill="#fff" stroke="none" stroke-width="1" />
<rect x="742.7" y="447.4" width="1.9" height="1.1" fill="#fff" stroke="none" stroke-width="1" />
<rect x="742.7" y="449.6" width="1.9" height="0.9" fill="#fff" stroke="none" stroke-width="1" />
<rect x="740.9" y="448" width="0.9" height="1.6" fill="#00ffff" stroke="none" stroke-width="1" />
<rect x="744.8" y="446.5" width="0.9" height="2.8" fill="#00ffff" stroke="none" stroke-width="1" />
<rect x="742.6" y="544" width="2" height="2.7" fill="#ff0000" stroke="none" stroke-width="1" />
<rect x="740.7" y="547.1" width="5.9" height="9" rx="0.9" fill="#ff0000"/>
<rect x="742.7" y="549.3" width="1.9" height="1.1" fill="#fff" stroke="none" stroke-width="1" />
<rect x="742.7" y="551.7" width="1.9" height="1.1" fill="#fff" stroke="none" stroke-width="1" />
<rect x="742.7" y="553.9" width="1.9" height="0.9" fill="#fff" stroke="none" stroke-width="1" />
<rect x="740.9" y="552.3" width="0.9" height="1.6" fill="#00ffff" stroke="none" stroke-width="1" />
<rect x="744.8" y="550.8" width="0.9" height="2.8" fill="#00ffff" stroke="none" stroke-width="1" />
<rect x="742.6" y="648" width="2" height="2.7" fill="#ff0000" stroke="none" stroke-width="1" />
<rect x="740.7" y="651.1" width="5.9" height="9" rx="0.9" fill="#ff0000"/>
<rect x="742.7" y="653.3" width="1.9" height="1.1" fill="#fff" stroke="none" stroke-width="1" />
<rect x="742.7" y="655.7" width="1.9" height="1.1" fill="#fff" stroke="none" stroke-width="1" />
<rect x="742.7" y="657.9" width="1.9" height="0.9" fill="#fff" stroke="none" stroke-width="1" />
<rect x="740.9" y="656.3" width="0.9" height="1.6" fill="#00ffff" stroke="none" stroke-width="1" />
<rect x="744.8" y="654.8" width="0.9" height="2.8" fill="#00ffff" stroke="none" stroke-width="1" />
<rect x="742.9" y="232.07" width="1.6" height="1.3" fill="#ff0000" stroke="none" stroke-width="1" />
<path d="M741.2,234.27 H745.8 L746.8,235.67 V237.97 H741.2 Z" stroke="#ff0000" stroke-width="0.9" fill="#ff0000" />
<rect x="742.6" y="235.27" width="1.9" height="1.5" fill="#fff" stroke="none" stroke-width="1" />
<rect x="740.7" y="240.47" width="5.6" height="2.1" rx="1" fill="#fff" stroke="#ff0000" stroke-width="1.05"/>
<rect x="742.9" y="266.84" width="1.6" height="1.3" fill="#ff0000" stroke="none" stroke-width="1" />
<path d="M741.2,269.04 H745.8 L746.8,270.44 V272.74 H741.2 Z" stroke="#ff0000" stroke-width="0.9" fill="#ff0000" />
<rect x="742.6" y="270.04" width="1.9" height="1.5" fill="#fff" stroke="none" stroke-width="1" />
<rect x="740.7" y="275.24" width="5.6" height="2.1" rx="1" fill="#fff" stroke="#ff0000" stroke-width="1.05"/>
<rect x="742.9" y="372.37" width="1.6" height="1.3" fill="#ff0000" stroke="none" stroke-width="1" />
<path d="M741.2,374.57 H745.8 L746.8,375.97 V378.27 H741.2 Z" stroke="#ff0000" stroke-width="0.9" fill="#ff0000" />
<rect x="742.6" y="375.57" width="1.9" height="1.5" fill="#fff" stroke="none" stroke-width="1" />
<rect x="740.7" y="380.77" width="5.6" height="2.1" rx="1" fill="#fff" stroke="#ff0000" stroke-width="1.05"/>
<rect x="742.9" y="407.14" width="1.6" height="1.3" fill="#ff0000" stroke="none" stroke-width="1" />
<path d="M741.2,409.34 H745.8 L746.8,410.74 V413.04 H741.2 Z" stroke="#ff0000" stroke-width="0.9" fill="#ff0000" />
<rect x="742.6" y="410.34" width="1.9" height="1.5" fill="#fff" stroke="none" stroke-width="1" />
<rect x="740.7" y="415.54" width="5.6" height="2.1" rx="1" fill="#fff" stroke="#ff0000" stroke-width="1.05"/>
<rect x="742.9" y="476.57" width="1.6" height="1.3" fill="#ff0000" stroke="none" stroke-width="1" />
<path d="M741.2,478.77 H745.8 L746.8,480.17 V482.47 H741.2 Z" stroke="#ff0000" stroke-width="0.9" fill="#ff0000" />
<rect x="742.6" y="479.77" width="1.9" height="1.5" fill="#fff" stroke="none" stroke-width="1" />
<rect x="740.7" y="484.97" width="5.6" height="2.1" rx="1" fill="#fff" stroke="#ff0000" stroke-width="1.05"/>
<rect x="742.9" y="511.34" width="1.6" height="1.3" fill="#ff0000" stroke="none" stroke-width="1" />
<path d="M741.2,513.54 H745.8 L746.8,514.94 V517.24 H741.2 Z" stroke="#ff0000" stroke-width="0.9" fill="#ff0000" />
<rect x="742.6" y="514.54" width="1.9" height="1.5" fill="#fff" stroke="none" stroke-width="1" />
<rect x="740.7" y="519.74" width="5.6" height="2.1" rx="1" fill="#fff" stroke="#ff0000" stroke-width="1.05"/>
<rect x="742.9" y="580.87" width="1.6" height="1.3" fill="#ff0000" stroke="none" stroke-width="1" />
<path d="M741.2,583.07 H745.8 L746.8,584.47 V586.77 H741.2 Z" stroke="#ff0000" stroke-width="0.9" fill="#ff0000" />
<rect x="742.6" y="584.07" width="1.9" height="1.5" fill="#fff" stroke="none" stroke-width="1" />
<rect x="740.7" y="589.27" width="5.6" height="2.1" rx="1" fill="#fff" stroke="#ff0000" stroke-width="1.05"/>
<rect x="742.9" y="615.64" width="1.6" height="1.3" fill="#ff0000" stroke="none" stroke-width="1" />
<path d="M741.2,617.84 H745.8 L746.8,619.24 V621.54 H741.2 Z" stroke="#ff0000" stroke-width="0.9" fill="#ff0000" />
<rect x="742.6" y="618.84" width="1.9" height="1.5" fill="#fff" stroke="none" stroke-width="1" />
<rect x="740.7" y="624.04" width="5.6" height="2.1" rx="1" fill="#fff" stroke="#ff0000" stroke-width="1.05"/>
<path d="M736.6,155 V167.9 Q736.6,169.9 738.6,169.9 H750.2 Q752.2,169.9 752.2,167.9 V155" stroke="#000" stroke-width="1.3" fill="none" />
<path d="M739.1,155 V167.3 H749.7 V155" stroke="#000" stroke-width="1.1" fill="none" />
<rect x="735.9" y="154.7" width="3.9" height="1.6" fill="#000" stroke="none" stroke-width="1" />
<rect x="749" y="154.7" width="3.9" height="1.6" fill="#000" stroke="none" stroke-width="1" />
<rect x="743.5" y="157.2" width="1.8" height="10.4" fill="#ffff00" stroke="none" stroke-width="1" />
<path d="M741.2,167.8 L741.2,167 L744.4,165 L747.6,167 L747.6,167.8 Z" stroke="none" stroke-width="0" fill="#ffff00" />
<path d="M741.2,157 L741.2,157.8 L744.4,159.8 L747.6,157.8 L747.6,157 Z" stroke="none" stroke-width="0" fill="#ffff00" />
<rect x="742.5" y="157.6" width="3.8" height="2.9" fill="#ff7a00" stroke="none" stroke-width="1" />
<line x1="742.95" y1="169.9" x2="742.95" y2="177" stroke="#000" stroke-width="1.15" />
<line x1="745.85" y1="169.9" x2="745.85" y2="177" stroke="#000" stroke-width="1.15" />
<line x1="739.1" y1="177" x2="749.7" y2="177" stroke="#000" stroke-width="1.6" />
<path d="M742.95,177.5 V199 Q742.95,200.4 744.4,200.4 Q745.85,200.4 745.85,199 V177.5" stroke="#000" stroke-width="1.15" fill="none" />
<rect x="742.6" y="664.8" width="3.6" height="15.7" fill="#fff" stroke="none" stroke-width="1" />
<line x1="742.6" y1="664.8" x2="742.6" y2="680.5" stroke="#000" stroke-width="1.1" />
<line x1="746.2" y1="664.8" x2="746.2" y2="680.5" stroke="#000" stroke-width="1.1" />
<line x1="738.4" y1="664.6" x2="750.4" y2="664.6" stroke="#000" stroke-width="1.6" />
<path d="M823,155 V167.9 Q823,169.9 825,169.9 H836.6 Q838.6,169.9 838.6,167.9 V155" stroke="#000" stroke-width="1.3" fill="none" />
<path d="M825.5,155 V167.3 H836.1 V155" stroke="#000" stroke-width="1.1" fill="none" />
<rect x="822.3" y="154.7" width="3.9" height="1.6" fill="#000" stroke="none" stroke-width="1" />
<rect x="835.4" y="154.7" width="3.9" height="1.6" fill="#000" stroke="none" stroke-width="1" />
<rect x="829.9" y="157.2" width="1.8" height="10.4" fill="#ffff00" stroke="none" stroke-width="1" />
<path d="M827.6,167.8 L827.6,167 L830.8,165 L834,167 L834,167.8 Z" stroke="none" stroke-width="0" fill="#ffff00" />
<path d="M827.6,157 L827.6,157.8 L830.8,159.8 L834,157.8 L834,157 Z" stroke="none" stroke-width="0" fill="#ffff00" />
<rect x="828.9" y="157.6" width="3.8" height="2.9" fill="#ff7a00" stroke="none" stroke-width="1" />
<line x1="829.35" y1="169.9" x2="829.35" y2="202.8" stroke="#000" stroke-width="1.15" />
<line x1="832.25" y1="169.9" x2="832.25" y2="202.8" stroke="#000" stroke-width="1.15" />
<line x1="829.3" y1="202.8" x2="832.3" y2="202.8" stroke="#000" stroke-width="1" />
<rect x="663.6" y="195.9" width="215.9" height="3.6" fill="none" stroke="#000" stroke-width="1" />
<rect x="769" y="196.8" width="8" height="1.8" fill="#ffee00" stroke="none" stroke-width="1" />
<rect x="663.6" y="236.9" width="215.9" height="3.6" fill="none" stroke="#000" stroke-width="1" />
<rect x="769" y="237.8" width="8" height="1.8" fill="#ffee00" stroke="none" stroke-width="1" />
<rect x="516.3" y="251.8" width="180.7" height="3.6" fill="none" stroke="#000" stroke-width="1" />
<rect x="602.65" y="252.7" width="8" height="1.8" fill="#ffee00" stroke="none" stroke-width="1" />
<rect x="516.5" y="353.2" width="181.5" height="3.6" fill="none" stroke="#000" stroke-width="1" />
<rect x="603.25" y="354.1" width="8" height="1.8" fill="#ffee00" stroke="none" stroke-width="1" />
<rect x="518" y="563.1" width="181.3" height="3.7" fill="none" stroke="#000" stroke-width="1" />
<rect x="604.65" y="564" width="8" height="1.9" fill="#ffee00" stroke="none" stroke-width="1" />
<rect x="844.5" y="33.2" width="3.2" height="215" fill="#fff" stroke="#000" stroke-width="1.25" />
<rect x="845.2" y="135" width="1.5" height="12" fill="#ffee00" stroke="none" stroke-width="1" />
<g transform="translate(844.2 76.4)">
<circle cx="-1.6" cy="0" r="2.6" fill="#fff" stroke="#000" stroke-width="0.9"/>
<path d="M-6,1 L-3,-1 M2,-1 L6,0.5 M-5,-2 L-2,-3.4" stroke="#3a8be0" stroke-width="1.3" fill="none"/>
<path d="M-2,-3 L2,3 M-3,3 L1,-2" stroke="#000" stroke-width="0.8" fill="none"/>
<circle cx="3.6" cy="0" r="1.3" fill="#3a8be0"/>
</g>
<g transform="translate(844.2 111.2)">
<circle cx="-1.6" cy="0" r="2.6" fill="#fff" stroke="#000" stroke-width="0.9"/>
<path d="M-6,1 L-3,-1 M2,-1 L6,0.5 M-5,-2 L-2,-3.4" stroke="#3a8be0" stroke-width="1.3" fill="none"/>
<path d="M-2,-3 L2,3 M-3,3 L1,-2" stroke="#000" stroke-width="0.8" fill="none"/>
<circle cx="3.6" cy="0" r="1.3" fill="#3a8be0"/>
</g>
<g transform="translate(261.6 146.8) rotate(142.15)">
<rect x="0" y="-1.8" width="180.09" height="3.6" fill="none" stroke="#000" stroke-width="1.05"/>
<rect x="86.84" y="-1.2" width="6.4" height="2.4" fill="#ffee00"/>
</g>
<g transform="translate(114.1 258.2) rotate(30.03)">
<rect x="0" y="-1.8" width="179.62" height="3.6" fill="none" stroke="#000" stroke-width="1.05"/>
<rect x="86.61" y="-1.2" width="6.4" height="2.4" fill="#ffee00"/>
</g>
<g transform="translate(261.4 354.6) rotate(141.94)">
<rect x="0" y="-1.8" width="180.36" height="3.6" fill="none" stroke="#000" stroke-width="1.05"/>
<rect x="86.98" y="-1.2" width="6.4" height="2.4" fill="#ffee00"/>
</g>
<g transform="translate(113.9 466.4) rotate(30.14)">
<rect x="0" y="-1.8" width="180.04" height="3.6" fill="none" stroke="#000" stroke-width="1.05"/>
<rect x="86.82" y="-1.2" width="6.4" height="2.4" fill="#ffee00"/>
</g>
<g transform="translate(261.6 563.5) rotate(142.25)">
<rect x="0" y="-1.8" width="179.98" height="3.6" fill="none" stroke="#000" stroke-width="1.05"/>
<rect x="86.79" y="-1.2" width="6.4" height="2.4" fill="#ffee00"/>
</g>
<g transform="translate(397.8 169.7) rotate(33.12)">
<rect x="0" y="-1.8" width="111.28" height="3.6" fill="none" stroke="#000" stroke-width="1.05"/>
<rect x="52.44" y="-1.2" width="6.4" height="2.4" fill="#ffee00"/>
</g>
<g transform="translate(492 234) rotate(137.75)">
<rect x="0" y="-1.8" width="145.76" height="3.6" fill="none" stroke="#000" stroke-width="1.05"/>
<rect x="69.68" y="-1.2" width="6.4" height="2.4" fill="#ffee00"/>
</g>
<g transform="translate(388 338.4) rotate(46.1)">
<rect x="0" y="-1.8" width="146.82" height="3.6" fill="none" stroke="#000" stroke-width="1.05"/>
<rect x="70.21" y="-1.2" width="6.4" height="2.4" fill="#ffee00"/>
</g>
<g transform="translate(491.2 445.4) rotate(137.8)">
<rect x="0" y="-1.8" width="144.56" height="3.6" fill="none" stroke="#000" stroke-width="1.05"/>
<rect x="69.08" y="-1.2" width="6.4" height="2.4" fill="#ffee00"/>
</g>
<g transform="translate(386.6 543.8) rotate(46.62)">
<rect x="0" y="-1.8" width="147.35" height="3.6" fill="none" stroke="#000" stroke-width="1.05"/>
<rect x="70.47" y="-1.2" width="6.4" height="2.4" fill="#ffee00"/>
</g>
<g transform="translate(521 137.4) rotate(34.37)">
<rect x="0" y="-1.8" width="181.73" height="3.6" fill="none" stroke="#000" stroke-width="1.05"/>
<rect x="87.67" y="-1.2" width="6.4" height="2.4" fill="#ffee00"/>
</g>
<g transform="translate(673.5 246) rotate(149.76)">
<rect x="0" y="-1.8" width="179.3" height="3.6" fill="none" stroke="#000" stroke-width="1.05"/>
<rect x="86.45" y="-1.2" width="6.4" height="2.4" fill="#ffee00"/>
</g>
<g transform="translate(521.5 346.4) rotate(33.84)">
<rect x="0" y="-1.8" width="181.19" height="3.6" fill="none" stroke="#000" stroke-width="1.05"/>
<rect x="87.4" y="-1.2" width="6.4" height="2.4" fill="#ffee00"/>
</g>
<g transform="translate(675 453) rotate(150.11)">
<rect x="0" y="-1.8" width="180.4" height="3.6" fill="none" stroke="#000" stroke-width="1.05"/>
<rect x="87" y="-1.2" width="6.4" height="2.4" fill="#ffee00"/>
</g>
<g transform="translate(521.5 553.5) rotate(34.04)">
<rect x="0" y="-1.8" width="180.06" height="3.6" fill="none" stroke="#000" stroke-width="1.05"/>
<rect x="86.83" y="-1.2" width="6.4" height="2.4" fill="#ffee00"/>
</g>
<g transform="translate(753.9 234.5) rotate(131.9)">
<rect x="0" y="-1.8" width="145.24" height="3.6" fill="none" stroke="#000" stroke-width="1.05"/>
<rect x="69.42" y="-1.2" width="6.4" height="2.4" fill="#ffee00"/>
</g>
<g transform="translate(663 344.3) rotate(46.57)">
<rect x="0" y="-1.8" width="146.78" height="3.6" fill="none" stroke="#000" stroke-width="1.05"/>
<rect x="70.19" y="-1.2" width="6.4" height="2.4" fill="#ffee00"/>
</g>
<g transform="translate(765 453) rotate(137.31)">
<rect x="0" y="-1.8" width="143.94" height="3.6" fill="none" stroke="#000" stroke-width="1.05"/>
<rect x="68.77" y="-1.2" width="6.4" height="2.4" fill="#ffee00"/>
</g>
<g transform="translate(662 552) rotate(46.18)">
<rect x="0" y="-1.8" width="144.42" height="3.6" fill="none" stroke="#000" stroke-width="1.05"/>
<rect x="69.01" y="-1.2" width="6.4" height="2.4" fill="#ffee00"/>
</g>
<line x1="746.6" y1="203.5" x2="826.4" y2="203.5" stroke="#0010ff" stroke-width="1.3" />
<line x1="746.6" y1="206.7" x2="820" y2="206.7" stroke="#0010ff" stroke-width="1.3" />
<rect x="819.6" y="205.2" width="7.5" height="12.6" fill="none" stroke="#0010ff" stroke-width="1.4" />
<circle cx="822.1" cy="215.8" r="1.7" fill="#0010ff"/>
<line x1="827.2" y1="217.9" x2="836.4" y2="217.9" stroke="#0010ff" stroke-width="1.2" stroke-dasharray="4.5 1.8"/>
<line x1="746.8" y1="307.2" x2="746.8" y2="312.6" stroke="#0010ff" stroke-width="1.5" />
<line x1="750.8" y1="307.2" x2="750.8" y2="312.6" stroke="#0010ff" stroke-width="1.5" />
<line x1="746.8" y1="308.6" x2="750.8" y2="308.6" stroke="#0010ff" stroke-width="0.9" />
<line x1="746.8" y1="311.4" x2="750.8" y2="311.4" stroke="#0010ff" stroke-width="0.9" />
<line x1="751.3" y1="307.8" x2="820.2" y2="214.8" stroke="#5a6ae6" stroke-width="1.0" />
<line x1="753.6" y1="311.2" x2="823.4" y2="217.2" stroke="#5a6ae6" stroke-width="1.0" />
<text x="765.6" y="281.6" font-size="3.6" fill="#333" text-anchor="start" transform="rotate(-52.5 765.6 281.6)" textLength="63" lengthAdjust="spacingAndGlyphs" >Cup lock cantiliver bracket 1.2-1.5m</text>
<line x1="826.2" y1="192" x2="826.2" y2="218" stroke="#d0d0d0" stroke-width="0.9" />
<line x1="835.4" y1="192" x2="835.4" y2="218" stroke="#d0d0d0" stroke-width="0.9" />
<line x1="825.2" y1="190.8" x2="836.9" y2="190.8" stroke="#000" stroke-width="1.5" />
<line x1="826.2" y1="192.6" x2="836" y2="192.6" stroke="#0010ff" stroke-width="1.2" />
<line x1="827" y1="194.4" x2="835" y2="194.4" stroke="#0010ff" stroke-width="0.9" />
<defs><pattern id="hat" width="4.1" height="4.1" patternUnits="userSpaceOnUse" patternTransform="rotate(-45)"><rect width="4.1" height="4.1" fill="#fff"/><line x1="0" y1="0.5" x2="4.1" y2="0.5" stroke="#000" stroke-width="1"/></pattern></defs>
<rect x="120.7" y="680.5" width="633.6" height="19" fill="url(#hat)" stroke="#000" stroke-width="1.2" />
<line x1="106" y1="680.5" x2="121" y2="680.5" stroke="#000" stroke-width="1" />
<line x1="754" y1="680.5" x2="785" y2="680.5" stroke="#000" stroke-width="1" />
<line x1="120.5" y1="37" x2="120.5" y2="105.5" stroke="#000" stroke-width="1.3" />
<line x1="120.7" y1="655" x2="120.7" y2="725" stroke="#000" stroke-width="1.3" />
<line x1="108.4" y1="84" x2="108.4" y2="356" stroke="#000" stroke-width="1" />
<line x1="108.4" y1="404" x2="108.4" y2="680.5" stroke="#000" stroke-width="1" />
<path d="M108.4,680 L106.3,668 L110.5,668 Z" stroke="#000" stroke-width="0.8" fill="#fff" />
<path d="M108.4,84 L107,91 L110,91 Z" stroke="#000" stroke-width="0.8" fill="#fff" />
<line x1="105" y1="84" x2="121" y2="84" stroke="#000" stroke-width="1" />
<text x="105.2" y="380" font-size="17.7" fill="#ff4a10" text-anchor="middle" transform="rotate(-90 105.2 380)" textLength="39.3" lengthAdjust="spacingAndGlyphs" >8640</text>
<line x1="103.6" y1="45" x2="103.6" y2="54" stroke="#000" stroke-width="1" />
<path d="M103.6,59 L102.2,54 L105,54 Z" stroke="#000" stroke-width="0.8" fill="#fff" />
<line x1="105.5" y1="62.2" x2="111" y2="62.2" stroke="#000" stroke-width="1" />
<line x1="103.6" y1="86" x2="103.6" y2="98" stroke="#000" stroke-width="1" />
<path d="M103.6,84.5 L102.3,89.5 L104.9,89.5 Z" stroke="#000" stroke-width="0.8" fill="#fff" />
<text x="101.3" y="71.3" font-size="11.5" fill="#ff4a10" text-anchor="middle" transform="rotate(-90 101.3 71.3)" textLength="18.7" lengthAdjust="spacingAndGlyphs" >260</text>
<path d="M121,66.5 L130,67.5 L110,74.2 L121,74.8" stroke="#000" stroke-width="0.9" fill="none" />
<path d="M121,686 L130,686.8 L110,693.4 L121,694" stroke="#000" stroke-width="0.9" fill="none" />
<line x1="433.3" y1="63" x2="433.3" y2="78" stroke="#000" stroke-width="0.9" />
<line x1="433.3" y1="106" x2="433.3" y2="121" stroke="#000" stroke-width="0.9" />
<path d="M433.3,62.8 L431.9,71.8 L434.7,71.8 Z" stroke="#000" stroke-width="0.8" fill="#fff" />
<path d="M433.3,121.2 L431.9,112.2 L434.7,112.2 Z" stroke="#000" stroke-width="0.8" fill="#fff" />
<text x="431.4" y="92" font-size="11.5" fill="#ff4a10" text-anchor="middle" transform="rotate(-90 431.4 92)" >850</text>
<line x1="717.2" y1="63" x2="717.2" y2="88" stroke="#000" stroke-width="0.9" />
<line x1="717.2" y1="120" x2="717.2" y2="144" stroke="#000" stroke-width="0.9" />
<path d="M717.2,62.8 L715.8,71.8 L718.6,71.8 Z" stroke="#000" stroke-width="0.8" fill="#fff" />
<path d="M717.2,144.8 L715.8,135.8 L718.6,135.8 Z" stroke="#000" stroke-width="0.8" fill="#fff" />
<text x="716" y="104" font-size="11.5" fill="#ff4a10" text-anchor="middle" transform="rotate(-90 716 104)" >1200</text>
<line x1="520.6" y1="121.5" x2="520.6" y2="377" stroke="#000" stroke-width="1" />
<line x1="520.6" y1="424" x2="520.6" y2="680.5" stroke="#000" stroke-width="1" />
<path d="M520.6,122 L518.5,134 L522.7,134 Z" stroke="#000" stroke-width="0.8" fill="#fff" />
<path d="M520.6,680 L518.5,668 L522.7,668 Z" stroke="#000" stroke-width="0.8" fill="#fff" />
<line x1="509.7" y1="121.5" x2="521.5" y2="121.5" stroke="#000" stroke-width="1" />
<text x="518.4" y="401.2" font-size="17.7" fill="#ff4a10" text-anchor="middle" transform="rotate(-90 518.4 401.2)" textLength="39.4" lengthAdjust="spacingAndGlyphs" >8050</text>
<line x1="783.6" y1="147" x2="783.6" y2="387.5" stroke="#000" stroke-width="1" />
<line x1="783.6" y1="436" x2="783.6" y2="680.5" stroke="#000" stroke-width="1" />
<path d="M783.6,147.5 L781.6,158.5 L785.6,158.5 Z" stroke="#000" stroke-width="0.8" fill="#fff" />
<path d="M783.6,680 L781.6,669 L785.6,669 Z" stroke="#000" stroke-width="0.8" fill="#fff" />
<text x="780.7" y="412.5" font-size="17.7" fill="#ff4a10" text-anchor="middle" transform="rotate(-90 780.7 412.5)" textLength="39.6" lengthAdjust="spacingAndGlyphs" >7700</text>
<text x="132.2" y="190.5" font-size="8.9" fill="#111" text-anchor="middle" transform="rotate(-90 132.2 190.5)" textLength="58" lengthAdjust="spacingAndGlyphs" stroke="#111" stroke-width="0.15">Vertical 2.0 m</text>
<text x="130.4" y="362.6" font-size="8.9" fill="#111" text-anchor="middle" transform="rotate(-90 130.4 362.6)" textLength="59" lengthAdjust="spacingAndGlyphs" stroke="#111" stroke-width="0.15">Vertical 3.0 m</text>
<text x="130.4" y="571" font-size="8.9" fill="#111" text-anchor="middle" transform="rotate(-90 130.4 571)" textLength="59" lengthAdjust="spacingAndGlyphs" stroke="#111" stroke-width="0.15">Vertical 3.0 m</text>
<text x="243.1" y="190.5" font-size="8.9" fill="#111" text-anchor="middle" transform="rotate(-90 243.1 190.5)" textLength="58" lengthAdjust="spacingAndGlyphs" stroke="#111" stroke-width="0.15">Vertical 2.0 m</text>
<text x="241.3" y="362.6" font-size="8.9" fill="#111" text-anchor="middle" transform="rotate(-90 241.3 362.6)" textLength="59" lengthAdjust="spacingAndGlyphs" stroke="#111" stroke-width="0.15">Vertical 3.0 m</text>
<text x="241.3" y="571" font-size="8.9" fill="#111" text-anchor="middle" transform="rotate(-90 241.3 571)" textLength="59" lengthAdjust="spacingAndGlyphs" stroke="#111" stroke-width="0.15">Vertical 3.0 m</text>
<text x="354.1" y="190.5" font-size="8.9" fill="#111" text-anchor="middle" transform="rotate(-90 354.1 190.5)" textLength="58" lengthAdjust="spacingAndGlyphs" stroke="#111" stroke-width="0.15">Vertical 2.0 m</text>
<text x="352.3" y="362.6" font-size="8.9" fill="#111" text-anchor="middle" transform="rotate(-90 352.3 362.6)" textLength="59" lengthAdjust="spacingAndGlyphs" stroke="#111" stroke-width="0.15">Vertical 3.0 m</text>
<text x="352.3" y="571" font-size="8.9" fill="#111" text-anchor="middle" transform="rotate(-90 352.3 571)" textLength="59" lengthAdjust="spacingAndGlyphs" stroke="#111" stroke-width="0.15">Vertical 3.0 m</text>
<text x="401.5" y="198" font-size="7.12" fill="#111" text-anchor="middle" transform="rotate(-90 401.5 198)" textLength="47" lengthAdjust="spacingAndGlyphs" stroke="#111" stroke-width="0.15">Vertical 1.3 m</text>
<text x="469.5" y="198" font-size="7.12" fill="#111" text-anchor="middle" transform="rotate(-90 469.5 198)" textLength="47" lengthAdjust="spacingAndGlyphs" stroke="#111" stroke-width="0.15">Vertical 1.3 m</text>
<text x="401" y="346" font-size="8.9" fill="#111" text-anchor="middle" transform="rotate(-90 401 346)" textLength="59" lengthAdjust="spacingAndGlyphs" stroke="#111" stroke-width="0.15">Vertical 3.0 m</text>
<text x="469" y="346" font-size="8.9" fill="#111" text-anchor="middle" transform="rotate(-90 469 346)" textLength="59" lengthAdjust="spacingAndGlyphs" stroke="#111" stroke-width="0.15">Vertical 3.0 m</text>
<text x="401" y="554.5" font-size="8.9" fill="#111" text-anchor="middle" transform="rotate(-90 401 554.5)" textLength="59" lengthAdjust="spacingAndGlyphs" stroke="#111" stroke-width="0.15">Vertical 3.0 m</text>
<text x="469" y="554.5" font-size="8.9" fill="#111" text-anchor="middle" transform="rotate(-90 469 554.5)" textLength="59" lengthAdjust="spacingAndGlyphs" stroke="#111" stroke-width="0.15">Vertical 3.0 m</text>
<text x="540.9" y="184" font-size="8.9" fill="#111" text-anchor="middle" transform="rotate(-90 540.9 184)" textLength="58" lengthAdjust="spacingAndGlyphs" stroke="#111" stroke-width="0.15">Vertical 2.0 m</text>
<text x="539.3" y="355" font-size="8.9" fill="#111" text-anchor="middle" transform="rotate(-90 539.3 355)" textLength="59" lengthAdjust="spacingAndGlyphs" stroke="#111" stroke-width="0.15">Vertical 3.0 m</text>
<text x="539.3" y="564" font-size="8.9" fill="#111" text-anchor="middle" transform="rotate(-90 539.3 564)" textLength="59" lengthAdjust="spacingAndGlyphs" stroke="#111" stroke-width="0.15">Vertical 3.0 m</text>
<text x="652" y="184" font-size="8.9" fill="#111" text-anchor="middle" transform="rotate(-90 652 184)" textLength="58" lengthAdjust="spacingAndGlyphs" stroke="#111" stroke-width="0.15">Vertical 2.0 m</text>
<text x="650.4" y="355" font-size="8.9" fill="#111" text-anchor="middle" transform="rotate(-90 650.4 355)" textLength="59" lengthAdjust="spacingAndGlyphs" stroke="#111" stroke-width="0.15">Vertical 3.0 m</text>
<text x="650.4" y="564" font-size="8.9" fill="#111" text-anchor="middle" transform="rotate(-90 650.4 564)" textLength="59" lengthAdjust="spacingAndGlyphs" stroke="#111" stroke-width="0.15">Vertical 3.0 m</text>
<text x="670" y="248" font-size="8.9" fill="#111" text-anchor="middle" transform="rotate(-90 670 248)" textLength="59" lengthAdjust="spacingAndGlyphs" stroke="#111" stroke-width="0.15">Vertical 2.0 m</text>
<text x="670" y="388" font-size="8.9" fill="#111" text-anchor="middle" transform="rotate(-90 670 388)" textLength="59" lengthAdjust="spacingAndGlyphs" stroke="#111" stroke-width="0.15">Vertical 2.0 m</text>
<text x="670" y="557" font-size="8.9" fill="#111" text-anchor="middle" transform="rotate(-90 670 557)" textLength="59" lengthAdjust="spacingAndGlyphs" stroke="#111" stroke-width="0.15">Vertical 3.0 m</text>
<text x="739.4" y="248" font-size="8.9" fill="#111" text-anchor="middle" transform="rotate(-90 739.4 248)" textLength="59" lengthAdjust="spacingAndGlyphs" stroke="#111" stroke-width="0.15">Vertical 2.0 m</text>
<text x="739.4" y="388" font-size="8.9" fill="#111" text-anchor="middle" transform="rotate(-90 739.4 388)" textLength="59" lengthAdjust="spacingAndGlyphs" stroke="#111" stroke-width="0.15">Vertical 2.0 m</text>
<text x="739.4" y="557" font-size="8.9" fill="#111" text-anchor="middle" transform="rotate(-90 739.4 557)" textLength="59" lengthAdjust="spacingAndGlyphs" stroke="#111" stroke-width="0.15">Vertical 3.0 m</text>
<text x="14" y="142.5" font-size="14.5" fill="#ff4a10" text-anchor="start" textLength="88.5" lengthAdjust="spacingAndGlyphs" >Bracing Tubes</text>
<path d="M14,145.6 H108 C140,146 160,182 187,198.2" stroke="#000" stroke-width="1" fill="none" />
<path d="M0,0 L-7.5,-2.1 L-7.5,2.1 Z" fill="#000" transform="translate(190.4 200.4) rotate(33)"/>
<text x="374.7" y="36.8" font-size="9.6" fill="#ff4a10" text-anchor="start" textLength="65" lengthAdjust="spacingAndGlyphs" >Plywood 18mm</text>
<text x="374.7" y="49" font-size="9.6" fill="#ff4a10" text-anchor="start" textLength="34.4" lengthAdjust="spacingAndGlyphs" >(By Site)</text>
<path d="M440,38.3 H371 C358,39 360,66 354,79.5" stroke="#000" stroke-width="1" fill="none" />
<path d="M0,0 L-3,-1.2 L-3,1.2 Z" fill="#000" transform="translate(354 80) rotate(105)"/>
<text x="589.8" y="31.8" font-size="9.8" fill="#ff4a10" text-anchor="start" textLength="54" lengthAdjust="spacingAndGlyphs" >ALUM BEAM</text>
<path d="M644,33.6 H588 C566,34 566,66 546.6,85.3" stroke="#000" stroke-width="1" fill="none" />
<path d="M0,0 L-4,-1.3 L-4,1.3 Z" fill="#000" transform="translate(546.6 85.3) rotate(125)"/>
<text x="789.3" y="66.9" font-size="9.6" fill="#ff4a10" text-anchor="start" textLength="51" lengthAdjust="spacingAndGlyphs" >Side Shutter</text>
<text x="789.3" y="78.2" font-size="9.6" fill="#ff4a10" text-anchor="start" textLength="34.4" lengthAdjust="spacingAndGlyphs" >(By Site)</text>
<path d="M840.5,67.6 H790 C774,68 779,96 776.3,112" stroke="#000" stroke-width="1" fill="none" />
<path d="M0,0 L-4,-1.3 L-4,1.3 Z" fill="#000" transform="translate(776.3 112.5) rotate(100)"/>
<text x="859" y="58.7" font-size="9.6" fill="#ff4a10" text-anchor="start" textLength="54" lengthAdjust="spacingAndGlyphs" >Safety Tubes</text>
<text x="859" y="70.6" font-size="9.6" fill="#ff4a10" text-anchor="start" textLength="28" lengthAdjust="spacingAndGlyphs" >By Site</text>
<path d="M913,60.4 H857 C849,61 851,78 846.5,82" stroke="#000" stroke-width="1" fill="none" />
<text x="882.6" y="273.5" font-size="9.6" fill="#ff4a10" text-anchor="start" textLength="75.8" lengthAdjust="spacingAndGlyphs" >Cuplock Cantiliver</text>
<text x="882.6" y="285.2" font-size="9.6" fill="#ff4a10" text-anchor="start" textLength="73.3" lengthAdjust="spacingAndGlyphs" >Bracket 1.2/1.5m</text>
<path d="M959,274.8 H880 C848,274.8 836,243 806,236" stroke="#000" stroke-width="1" fill="none" />
<circle cx="806.6" cy="236.4" r="1.1" fill="#000"/>
<text x="797.4" y="631.6" font-size="14.5" fill="#ff4a10" text-anchor="start" textLength="100.8" lengthAdjust="spacingAndGlyphs" >Adjustable Base</text>
<path d="M898.2,633.2 H797.4 C770,634 768,660 746.5,673.5" stroke="#000" stroke-width="1" fill="none" />
<path d="M0,0 L-5.5,-1.9 L-5.5,1.9 Z" fill="#000" transform="translate(746.5 673.8) rotate(148)"/>
<g fill="none" stroke="#e4e4e4" stroke-width="4" stroke-linejoin="round">
<path d="M431.4,750 V758.8 Q431.4,764.3 437,764.3 H546.2"/>
<path d="M453.9,749.3 V764.3"/>
<path d="M471.6,749.8 V757 Q471.6,764.3 463,764.3"/>
<path d="M484.4,749.8 V757 Q484.4,764.3 476,764.3"/>
<path d="M497.4,749.8 V757 Q497.4,764.3 489,764.3"/>
<path d="M519,744.9 H508.2 V754.7 H513 Q517.3,754.7 517.3,759 V764.3"/>
<path d="M545.4,749.2 L527.5,756.6 L537.5,764.3" stroke-linejoin="miter"/>
</g>
<circle cx="439.3" cy="746.8" r="2.1" fill="#e4e4e4"/><circle cx="448.6" cy="746.8" r="2.1" fill="#e4e4e4"/>
<path d="M534.8,742.2 L537.8,745.3 L534.8,748.4 L531.8,745.3 Z" fill="#e4e4e4"/>
<circle cx="397.9" cy="737.9" r="20.4" fill="none" stroke="#f01818" stroke-width="1.1"/>
<line x1="377.4" y1="737.9" x2="515.8" y2="737.9" stroke="#000" stroke-width="1.7" />
<line x1="393.6" y1="731.9" x2="396.8" y2="731.9" stroke="#ff4a10" stroke-width="1.2" />
<line x1="398.6" y1="731.9" x2="401.8" y2="731.9" stroke="#ff4a10" stroke-width="1.2" />
<text x="398.3" y="749" font-size="11.4" fill="#ff4a10" text-anchor="middle" letter-spacing="2.2">111</text>
<text x="421.6" y="734.8" font-size="14.6" fill="#ff4a10" text-anchor="start" textLength="95" lengthAdjust="spacingAndGlyphs" font-style="italic" letter-spacing="0.9">Section (A-A)</text>
<text x="421" y="746.7" font-size="8.8" fill="#ff4a10" text-anchor="start" textLength="44.2" lengthAdjust="spacingAndGlyphs" font-style="italic" stroke="#ff4a10" stroke-width="0.25">Scale 1:50</text>
</svg>
</body></html>
